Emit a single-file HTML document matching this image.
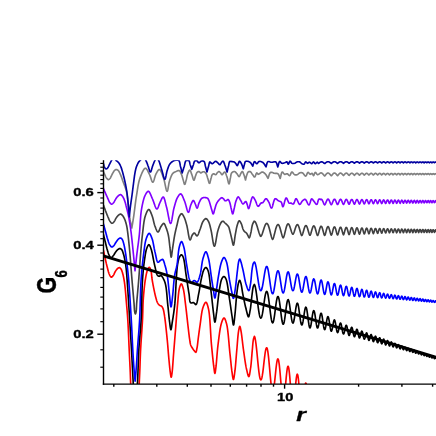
<!DOCTYPE html>
<html><head><meta charset="utf-8"><title>G6(r)</title>
<style>
html,body{margin:0;padding:0;background:#fff;}
body{width:436px;height:436px;overflow:hidden;}
svg{display:block;}
text{font-family:"Liberation Sans",sans-serif;font-weight:bold;fill:#000;stroke:#000;stroke-width:0.35px;stroke-linejoin:round;}
</style></head><body>
<svg width="436" height="436" viewBox="0 0 436 436">
<rect width="436" height="436" fill="#fff"/>
<defs><clipPath id="pc"><rect x="103.50" y="160.20" width="333.50" height="223.90"/></clipPath></defs>
<g clip-path="url(#pc)" fill="none" stroke-linejoin="round" stroke-linecap="butt">
<path d="M103.40 250.00 L103.52 250.57 L103.64 251.13 L103.76 251.70 L103.87 252.27 L103.99 252.83 L104.11 253.40 L104.23 253.97 L104.35 254.53 L104.47 255.10 L104.59 255.67 L104.71 256.23 L104.83 256.80 L104.95 257.37 L105.07 257.93 L105.20 258.50 L105.33 259.07 L105.45 259.64 L105.58 260.21 L105.71 260.79 L105.84 261.36 L105.97 261.94 L106.10 262.51 L106.24 263.08 L106.37 263.66 L106.51 264.22 L106.64 264.79 L106.78 265.35 L106.92 265.90 L107.06 266.46 L107.20 267.00 L107.35 267.58 L107.50 268.18 L107.65 268.78 L107.80 269.37 L107.95 269.97 L108.10 270.56 L108.26 271.14 L108.41 271.71 L108.58 272.26 L108.75 272.78 L108.92 273.29 L109.11 273.76 L109.30 274.20 L109.60 274.86 L109.92 275.52 L110.25 276.14 L110.59 276.66 L110.94 277.03 L111.30 277.20 L111.77 277.09 L112.26 276.70 L112.74 276.17 L113.20 275.60 L113.51 275.14 L113.81 274.61 L114.08 274.03 L114.35 273.43 L114.62 272.82 L114.90 272.24 L115.20 271.70 L115.53 271.16 L115.86 270.63 L116.21 270.12 L116.56 269.63 L116.92 269.19 L117.30 268.80 L117.79 268.37 L118.30 267.97 L118.81 267.69 L119.30 267.60 L119.75 267.74 L120.19 268.06 L120.61 268.50 L121.00 269.00 L121.25 269.39 L121.48 269.85 L121.69 270.34 L121.89 270.88 L122.07 271.44 L122.25 272.02 L122.43 272.61 L122.60 273.20 L122.75 273.72 L122.89 274.25 L123.03 274.79 L123.17 275.34 L123.29 275.90 L123.42 276.48 L123.54 277.06 L123.66 277.66 L123.77 278.26 L123.89 278.88 L124.00 279.50 L124.09 280.02 L124.18 280.54 L124.26 281.07 L124.34 281.62 L124.42 282.17 L124.50 282.72 L124.58 283.28 L124.65 283.85 L124.73 284.42 L124.80 285.00 L124.87 285.58 L124.94 286.16 L125.00 286.74 L125.07 287.33 L125.14 287.91 L125.20 288.50 L125.26 289.03 L125.31 289.55 L125.36 290.07 L125.41 290.59 L125.46 291.11 L125.51 291.63 L125.55 292.15 L125.59 292.68 L125.64 293.21 L125.68 293.74 L125.72 294.28 L125.77 294.83 L125.81 295.39 L125.86 295.96 L125.90 296.54 L125.95 297.13 L126.00 297.74 L126.05 298.36 L126.10 299.00 L126.14 299.46 L126.18 299.93 L126.22 300.41 L126.26 300.89 L126.30 301.38 L126.35 301.87 L126.39 302.37 L126.43 302.88 L126.48 303.40 L126.52 303.92 L126.57 304.44 L126.62 304.97 L126.66 305.51 L126.71 306.05 L126.76 306.59 L126.81 307.14 L126.85 307.69 L126.90 308.25 L126.95 308.81 L127.00 309.38 L127.04 309.95 L127.09 310.52 L127.14 311.10 L127.19 311.68 L127.23 312.26 L127.28 312.84 L127.33 313.43 L127.37 314.02 L127.42 314.61 L127.46 315.21 L127.51 315.80 L127.55 316.40 L127.60 317.00 L127.64 317.60 L127.68 318.20 L127.72 318.80 L127.76 319.40 L127.80 320.00 L127.83 320.51 L127.86 321.02 L127.90 321.54 L127.93 322.07 L127.96 322.59 L127.99 323.13 L128.02 323.66 L128.05 324.21 L128.08 324.75 L128.10 325.30 L128.13 325.85 L128.16 326.41 L128.19 326.97 L128.22 327.53 L128.24 328.09 L128.27 328.66 L128.30 329.23 L128.33 329.80 L128.35 330.37 L128.38 330.95 L128.40 331.52 L128.43 332.10 L128.46 332.68 L128.48 333.26 L128.51 333.84 L128.53 334.42 L128.56 335.00 L128.58 335.58 L128.61 336.16 L128.63 336.74 L128.66 337.32 L128.68 337.90 L128.70 338.47 L128.73 339.05 L128.75 339.62 L128.78 340.20 L128.80 340.77 L128.82 341.34 L128.85 341.90 L128.87 342.47 L128.89 343.03 L128.92 343.59 L128.94 344.14 L128.96 344.70 L128.99 345.25 L129.01 345.79 L129.03 346.33 L129.06 346.87 L129.08 347.40 L129.11 347.93 L129.13 348.46 L129.15 348.98 L129.18 349.49 L129.20 350.00 L129.23 350.60 L129.26 351.20 L129.29 351.80 L129.31 352.39 L129.34 352.99 L129.37 353.58 L129.40 354.17 L129.43 354.75 L129.46 355.34 L129.48 355.92 L129.51 356.50 L129.54 357.08 L129.57 357.65 L129.60 358.23 L129.63 358.80 L129.65 359.36 L129.68 359.93 L129.71 360.49 L129.74 361.05 L129.76 361.60 L129.79 362.15 L129.82 362.70 L129.84 363.25 L129.87 363.79 L129.89 364.33 L129.92 364.87 L129.94 365.40 L129.97 365.93 L129.99 366.45 L130.02 366.97 L130.04 367.49 L130.07 368.00 L130.09 368.51 L130.11 369.02 L130.14 369.52 L130.16 370.02 L130.18 370.51 L130.20 371.00 L130.23 371.62 L130.25 372.23 L130.28 372.82 L130.30 373.39 L130.32 373.95 L130.34 374.50 L130.36 375.04 L130.38 375.58 L130.40 376.10 L130.42 376.63 L130.43 377.15 L130.45 377.68 L130.47 378.20 L130.49 378.73 L130.51 379.27 L130.53 379.82 L130.55 380.37 L130.57 380.93 L130.60 381.51 L130.62 382.11 L130.64 382.72 L130.67 383.35 L130.70 384.00 L130.72 384.46 L130.74 384.94 L130.76 385.42 L130.78 385.91 L130.80 386.40 L130.82 386.91 L130.84 387.42 L130.85 387.95 L130.87 388.47 L130.89 389.01 L130.91 389.55 L130.93 390.09 L130.95 390.64 L130.97 391.20 L130.99 391.76 L131.01 392.33 L131.03 392.89 L131.05 393.47 L131.07 394.04 L131.09 394.62 L131.11 395.20 L131.13 395.78 L131.16 396.37 L131.18 396.96 L131.20 397.54 L131.23 398.13 L131.25 398.72 L131.28 399.31 L131.31 399.90 L131.34 400.48 L131.37 401.07 L131.40 401.65 L131.43 402.24 L131.46 402.82 L131.49 403.39 L131.53 403.97 L131.56 404.54 L131.60 405.11 L131.64 405.67 L131.68 406.23 L131.72 406.79 L131.76 407.34 L131.81 407.88 L131.85 408.42 L131.90 408.95 L131.95 409.48 L132.00 410.00 L132.06 410.59 L132.12 411.18 L132.19 411.76 L132.26 412.34 L132.33 412.92 L132.40 413.49 L132.47 414.06 L132.55 414.63 L132.63 415.19 L132.71 415.75 L132.79 416.31 L132.87 416.87 L132.96 417.42 L133.04 417.98 L133.13 418.53 L133.21 419.08 L133.30 419.62 L133.39 420.17 L133.48 420.72 L133.57 421.26 L133.66 421.81 L133.75 422.35 L133.84 422.89 L133.94 423.43 L134.03 423.98 L134.12 424.52 L134.21 425.06 L134.30 425.61 L134.39 426.15 L134.48 426.70 L134.57 427.24 L134.66 427.79 L134.74 428.34 L134.83 428.89 L134.92 429.45 L135.00 430.00 L135.08 429.45 L135.17 428.89 L135.26 428.34 L135.34 427.79 L135.43 427.24 L135.52 426.70 L135.61 426.15 L135.70 425.61 L135.79 425.06 L135.88 424.52 L135.98 423.98 L136.07 423.43 L136.16 422.89 L136.25 422.35 L136.34 421.81 L136.43 421.26 L136.52 420.72 L136.61 420.17 L136.70 419.62 L136.79 419.08 L136.88 418.53 L136.97 417.98 L137.05 417.42 L137.13 416.87 L137.22 416.31 L137.30 415.75 L137.38 415.19 L137.46 414.63 L137.53 414.06 L137.61 413.49 L137.68 412.92 L137.75 412.34 L137.81 411.76 L137.88 411.18 L137.94 410.59 L138.00 410.00 L138.05 409.48 L138.10 408.95 L138.14 408.42 L138.19 407.88 L138.23 407.34 L138.27 406.79 L138.31 406.23 L138.35 405.67 L138.38 405.11 L138.42 404.54 L138.45 403.97 L138.48 403.39 L138.51 402.82 L138.54 402.24 L138.57 401.65 L138.60 401.07 L138.62 400.48 L138.65 399.90 L138.67 399.31 L138.70 398.72 L138.72 398.13 L138.74 397.54 L138.76 396.96 L138.78 396.37 L138.80 395.78 L138.82 395.20 L138.84 394.62 L138.86 394.04 L138.88 393.47 L138.89 392.89 L138.91 392.32 L138.93 391.76 L138.95 391.20 L138.96 390.64 L138.98 390.09 L139.00 389.55 L139.01 389.01 L139.03 388.47 L139.05 387.95 L139.07 387.42 L139.08 386.91 L139.10 386.40 L139.12 385.91 L139.14 385.42 L139.16 384.94 L139.18 384.46 L139.20 384.00 L139.23 383.35 L139.26 382.72 L139.29 382.11 L139.32 381.51 L139.34 380.93 L139.37 380.37 L139.40 379.82 L139.42 379.27 L139.45 378.73 L139.47 378.20 L139.50 377.68 L139.52 377.15 L139.55 376.63 L139.57 376.10 L139.60 375.58 L139.62 375.04 L139.65 374.50 L139.67 373.95 L139.70 373.39 L139.72 372.82 L139.75 372.23 L139.77 371.62 L139.80 371.00 L139.82 370.51 L139.84 370.02 L139.86 369.52 L139.88 369.02 L139.90 368.51 L139.92 368.00 L139.93 367.49 L139.95 366.97 L139.97 366.45 L139.99 365.93 L140.01 365.40 L140.03 364.87 L140.04 364.33 L140.06 363.79 L140.08 363.25 L140.10 362.70 L140.12 362.15 L140.13 361.60 L140.15 361.05 L140.17 360.49 L140.19 359.93 L140.21 359.36 L140.23 358.79 L140.25 358.23 L140.27 357.65 L140.29 357.08 L140.31 356.50 L140.34 355.92 L140.36 355.34 L140.38 354.75 L140.41 354.17 L140.43 353.58 L140.46 352.99 L140.49 352.39 L140.51 351.80 L140.54 351.20 L140.57 350.60 L140.60 350.00 L140.63 349.49 L140.65 348.98 L140.68 348.46 L140.71 347.93 L140.74 347.40 L140.77 346.87 L140.80 346.33 L140.84 345.79 L140.87 345.25 L140.90 344.70 L140.94 344.14 L140.97 343.59 L141.01 343.03 L141.05 342.47 L141.08 341.90 L141.12 341.34 L141.16 340.77 L141.20 340.20 L141.23 339.62 L141.27 339.05 L141.31 338.47 L141.35 337.90 L141.39 337.32 L141.43 336.74 L141.47 336.16 L141.51 335.58 L141.55 335.00 L141.59 334.42 L141.63 333.84 L141.67 333.26 L141.71 332.68 L141.75 332.10 L141.79 331.53 L141.83 330.95 L141.87 330.38 L141.90 329.80 L141.94 329.23 L141.98 328.66 L142.02 328.10 L142.05 327.53 L142.09 326.97 L142.13 326.41 L142.16 325.86 L142.20 325.30 L142.23 324.75 L142.26 324.21 L142.30 323.67 L142.33 323.13 L142.36 322.60 L142.39 322.07 L142.42 321.54 L142.45 321.02 L142.47 320.51 L142.50 320.00 L142.53 319.40 L142.56 318.81 L142.58 318.21 L142.61 317.63 L142.63 317.04 L142.65 316.46 L142.67 315.89 L142.69 315.32 L142.71 314.75 L142.73 314.18 L142.74 313.62 L142.76 313.06 L142.78 312.50 L142.79 311.94 L142.81 311.39 L142.82 310.84 L142.83 310.29 L142.85 309.74 L142.86 309.20 L142.88 308.66 L142.89 308.11 L142.91 307.57 L142.92 307.03 L142.94 306.50 L142.96 305.96 L142.97 305.42 L142.99 304.89 L143.01 304.35 L143.03 303.82 L143.06 303.28 L143.08 302.75 L143.11 302.22 L143.13 301.68 L143.16 301.15 L143.19 300.61 L143.23 300.07 L143.26 299.54 L143.30 299.00 L143.34 298.42 L143.38 297.85 L143.43 297.27 L143.47 296.68 L143.52 296.10 L143.57 295.51 L143.61 294.92 L143.66 294.33 L143.71 293.74 L143.76 293.15 L143.82 292.56 L143.87 291.97 L143.92 291.38 L143.98 290.80 L144.04 290.21 L144.09 289.63 L144.15 289.05 L144.21 288.48 L144.27 287.90 L144.33 287.33 L144.40 286.77 L144.46 286.21 L144.52 285.66 L144.59 285.11 L144.66 284.56 L144.72 284.03 L144.79 283.49 L144.86 282.97 L144.93 282.46 L145.00 281.95 L145.08 281.45 L145.15 280.96 L145.22 280.47 L145.30 280.00 L145.40 279.35 L145.51 278.71 L145.62 278.07 L145.72 277.43 L145.83 276.80 L145.94 276.18 L146.05 275.56 L146.17 274.96 L146.28 274.38 L146.40 273.81 L146.52 273.25 L146.65 272.72 L146.78 272.20 L146.91 271.71 L147.05 271.24 L147.20 270.80 L147.35 270.39 L147.50 270.00 L147.84 269.24 L148.20 268.50 L148.58 267.87 L148.95 267.45 L149.30 267.30 L149.59 267.45 L149.88 267.84 L150.16 268.39 L150.42 269.06 L150.67 269.78 L150.90 270.50 L151.02 270.92 L151.12 271.36 L151.21 271.83 L151.30 272.31 L151.37 272.82 L151.44 273.35 L151.50 273.90 L151.56 274.46 L151.61 275.04 L151.67 275.63 L151.73 276.23 L151.79 276.85 L151.85 277.47 L151.93 278.09 L152.01 278.73 L152.10 279.36 L152.20 280.00 L152.28 280.48 L152.37 280.98 L152.46 281.50 L152.56 282.03 L152.65 282.58 L152.76 283.14 L152.86 283.71 L152.97 284.29 L153.08 284.88 L153.19 285.48 L153.31 286.08 L153.42 286.69 L153.54 287.30 L153.66 287.91 L153.78 288.52 L153.91 289.13 L154.03 289.73 L154.15 290.34 L154.28 290.93 L154.40 291.52 L154.52 292.10 L154.65 292.67 L154.77 293.23 L154.89 293.77 L155.01 294.30 L155.13 294.82 L155.25 295.31 L155.37 295.79 L155.48 296.25 L155.59 296.69 L155.70 297.10 L155.89 297.81 L156.07 298.49 L156.25 299.13 L156.43 299.74 L156.60 300.32 L156.78 300.87 L156.97 301.39 L157.16 301.89 L157.37 302.35 L157.60 302.80 L157.94 303.39 L158.30 303.92 L158.68 304.39 L159.08 304.82 L159.50 305.20 L160.01 305.52 L160.57 305.75 L161.12 305.98 L161.60 306.30 L162.02 306.76 L162.38 307.29 L162.70 307.90 L163.00 308.60 L163.16 309.04 L163.31 309.50 L163.45 309.98 L163.58 310.50 L163.70 311.04 L163.82 311.61 L163.93 312.22 L164.04 312.86 L164.16 313.53 L164.28 314.25 L164.40 315.00 L164.46 315.38 L164.53 315.78 L164.59 316.20 L164.65 316.64 L164.72 317.08 L164.78 317.55 L164.85 318.03 L164.92 318.52 L164.98 319.02 L165.05 319.54 L165.12 320.06 L165.18 320.60 L165.25 321.15 L165.32 321.71 L165.39 322.27 L165.45 322.84 L165.52 323.43 L165.59 324.01 L165.66 324.61 L165.72 325.20 L165.79 325.81 L165.86 326.41 L165.92 327.03 L165.99 327.64 L166.06 328.25 L166.12 328.87 L166.19 329.49 L166.25 330.10 L166.32 330.72 L166.38 331.33 L166.44 331.94 L166.51 332.55 L166.57 333.16 L166.63 333.76 L166.69 334.36 L166.75 334.95 L166.81 335.53 L166.87 336.11 L166.93 336.68 L166.98 337.25 L167.04 337.80 L167.09 338.34 L167.15 338.88 L167.20 339.40 L167.26 340.00 L167.32 340.60 L167.37 341.19 L167.43 341.79 L167.48 342.38 L167.54 342.96 L167.59 343.55 L167.64 344.13 L167.69 344.72 L167.74 345.29 L167.79 345.87 L167.84 346.44 L167.88 347.02 L167.93 347.59 L167.97 348.15 L168.02 348.72 L168.07 349.28 L168.11 349.84 L168.15 350.40 L168.20 350.96 L168.24 351.51 L168.29 352.06 L168.33 352.61 L168.38 353.16 L168.42 353.71 L168.47 354.25 L168.51 354.79 L168.56 355.33 L168.61 355.87 L168.65 356.41 L168.70 356.94 L168.75 357.47 L168.80 358.00 L168.86 358.60 L168.91 359.20 L168.97 359.80 L169.03 360.41 L169.08 361.02 L169.14 361.63 L169.20 362.25 L169.25 362.86 L169.31 363.47 L169.37 364.07 L169.42 364.68 L169.48 365.27 L169.54 365.86 L169.60 366.45 L169.65 367.02 L169.71 367.59 L169.77 368.14 L169.83 368.69 L169.89 369.22 L169.95 369.74 L170.00 370.24 L170.06 370.73 L170.12 371.20 L170.18 371.65 L170.24 372.09 L170.30 372.50 L170.41 373.28 L170.52 374.08 L170.64 374.87 L170.75 375.60 L170.86 376.24 L170.97 376.75 L171.09 377.08 L171.20 377.20 L171.31 377.08 L171.43 376.76 L171.54 376.26 L171.66 375.63 L171.77 374.90 L171.88 374.11 L171.99 373.30 L172.10 372.50 L172.15 372.11 L172.20 371.69 L172.25 371.26 L172.30 370.81 L172.35 370.34 L172.39 369.86 L172.44 369.37 L172.49 368.85 L172.53 368.33 L172.57 367.79 L172.62 367.24 L172.66 366.68 L172.70 366.11 L172.75 365.53 L172.79 364.94 L172.83 364.34 L172.87 363.74 L172.92 363.13 L172.96 362.51 L173.00 361.89 L173.04 361.27 L173.09 360.64 L173.13 360.01 L173.18 359.38 L173.22 358.75 L173.26 358.12 L173.31 357.49 L173.36 356.86 L173.40 356.24 L173.45 355.62 L173.50 355.00 L173.54 354.49 L173.58 353.98 L173.62 353.46 L173.66 352.94 L173.71 352.42 L173.75 351.89 L173.79 351.36 L173.83 350.82 L173.88 350.28 L173.92 349.74 L173.96 349.20 L174.01 348.65 L174.05 348.10 L174.10 347.55 L174.14 347.00 L174.18 346.44 L174.23 345.88 L174.27 345.32 L174.32 344.76 L174.36 344.19 L174.41 343.63 L174.46 343.06 L174.50 342.49 L174.55 341.92 L174.59 341.36 L174.64 340.78 L174.68 340.21 L174.73 339.64 L174.77 339.07 L174.82 338.50 L174.87 337.93 L174.91 337.35 L174.96 336.78 L175.00 336.21 L175.05 335.64 L175.09 335.07 L175.14 334.50 L175.19 333.93 L175.23 333.37 L175.28 332.80 L175.32 332.24 L175.37 331.68 L175.41 331.12 L175.46 330.56 L175.50 330.00 L175.54 329.44 L175.59 328.88 L175.63 328.32 L175.68 327.76 L175.72 327.20 L175.76 326.63 L175.81 326.06 L175.85 325.49 L175.89 324.92 L175.94 324.35 L175.98 323.78 L176.02 323.21 L176.06 322.63 L176.11 322.06 L176.15 321.49 L176.19 320.91 L176.24 320.34 L176.28 319.77 L176.32 319.20 L176.36 318.62 L176.41 318.05 L176.45 317.48 L176.49 316.91 L176.54 316.35 L176.58 315.78 L176.62 315.21 L176.67 314.65 L176.71 314.09 L176.75 313.53 L176.80 312.97 L176.84 312.42 L176.89 311.87 L176.93 311.32 L176.98 310.77 L177.02 310.23 L177.07 309.69 L177.12 309.15 L177.16 308.62 L177.21 308.09 L177.26 307.57 L177.31 307.04 L177.35 306.53 L177.40 306.01 L177.45 305.50 L177.50 305.00 L177.56 304.40 L177.62 303.79 L177.67 303.17 L177.73 302.56 L177.78 301.94 L177.84 301.32 L177.89 300.70 L177.94 300.08 L178.00 299.47 L178.05 298.85 L178.10 298.24 L178.16 297.63 L178.21 297.03 L178.27 296.43 L178.33 295.84 L178.38 295.26 L178.44 294.69 L178.50 294.12 L178.57 293.56 L178.63 293.02 L178.69 292.49 L178.76 291.97 L178.83 291.46 L178.91 290.97 L178.98 290.49 L179.06 290.03 L179.14 289.59 L179.23 289.16 L179.31 288.75 L179.40 288.37 L179.50 288.00 L179.70 287.28 L179.91 286.56 L180.14 285.87 L180.37 285.24 L180.60 284.70 L180.84 284.27 L181.07 284.00 L181.30 283.90 L181.51 283.99 L181.73 284.25 L181.95 284.64 L182.17 285.15 L182.38 285.74 L182.60 286.40 L182.81 287.09 L183.01 287.80 L183.20 288.50 L183.30 288.89 L183.40 289.29 L183.50 289.72 L183.59 290.16 L183.68 290.62 L183.77 291.10 L183.86 291.59 L183.95 292.10 L184.03 292.62 L184.11 293.15 L184.19 293.70 L184.27 294.25 L184.35 294.82 L184.43 295.39 L184.50 295.97 L184.58 296.56 L184.65 297.15 L184.73 297.75 L184.80 298.36 L184.87 298.96 L184.94 299.57 L185.01 300.18 L185.09 300.79 L185.16 301.40 L185.23 302.01 L185.30 302.62 L185.38 303.22 L185.45 303.82 L185.52 304.41 L185.60 305.00 L185.67 305.52 L185.73 306.05 L185.80 306.59 L185.87 307.13 L185.93 307.67 L186.00 308.22 L186.07 308.78 L186.13 309.34 L186.20 309.90 L186.26 310.47 L186.33 311.04 L186.40 311.61 L186.46 312.19 L186.53 312.76 L186.59 313.34 L186.65 313.92 L186.72 314.50 L186.78 315.08 L186.85 315.65 L186.91 316.23 L186.97 316.81 L187.03 317.38 L187.10 317.95 L187.16 318.52 L187.22 319.09 L187.28 319.65 L187.34 320.21 L187.41 320.77 L187.47 321.32 L187.53 321.86 L187.59 322.40 L187.65 322.94 L187.71 323.47 L187.77 323.99 L187.83 324.50 L187.88 325.01 L187.94 325.51 L188.00 326.00 L188.07 326.63 L188.15 327.26 L188.22 327.89 L188.29 328.51 L188.36 329.13 L188.44 329.74 L188.51 330.35 L188.57 330.95 L188.64 331.55 L188.71 332.14 L188.78 332.72 L188.85 333.29 L188.92 333.86 L188.98 334.42 L189.05 334.97 L189.12 335.51 L189.19 336.04 L189.26 336.56 L189.32 337.07 L189.39 337.57 L189.46 338.06 L189.53 338.54 L189.60 339.00 L189.69 339.64 L189.78 340.26 L189.86 340.86 L189.94 341.44 L190.02 342.00 L190.11 342.54 L190.20 343.06 L190.30 343.57 L190.42 344.06 L190.55 344.54 L190.70 345.00 L190.95 345.63 L191.23 346.21 L191.53 346.76 L191.85 347.28 L192.17 347.79 L192.50 348.30 L192.82 348.79 L193.16 349.27 L193.50 349.74 L193.84 350.20 L194.18 350.62 L194.50 351.00 L194.96 351.59 L195.40 352.12 L195.80 352.30 L196.00 352.14 L196.18 351.81 L196.34 351.33 L196.48 350.75 L196.61 350.09 L196.74 349.39 L196.87 348.68 L197.00 348.00 L197.09 347.55 L197.17 347.08 L197.25 346.59 L197.33 346.08 L197.40 345.56 L197.47 345.02 L197.54 344.47 L197.61 343.91 L197.67 343.33 L197.74 342.75 L197.81 342.16 L197.87 341.57 L197.94 340.97 L198.01 340.38 L198.08 339.78 L198.15 339.18 L198.22 338.59 L198.30 338.00 L198.37 337.47 L198.44 336.93 L198.51 336.40 L198.58 335.86 L198.65 335.32 L198.73 334.78 L198.80 334.23 L198.87 333.69 L198.94 333.14 L199.02 332.58 L199.09 332.03 L199.16 331.47 L199.24 330.90 L199.32 330.33 L199.40 329.76 L199.48 329.18 L199.56 328.60 L199.64 328.01 L199.73 327.42 L199.82 326.82 L199.91 326.21 L200.00 325.60 L200.08 325.09 L200.15 324.57 L200.22 324.04 L200.30 323.49 L200.37 322.93 L200.45 322.36 L200.52 321.78 L200.60 321.19 L200.67 320.60 L200.75 320.00 L200.82 319.39 L200.90 318.79 L200.98 318.18 L201.06 317.57 L201.14 316.96 L201.23 316.35 L201.31 315.75 L201.40 315.14 L201.49 314.55 L201.58 313.96 L201.67 313.38 L201.76 312.81 L201.86 312.25 L201.96 311.70 L202.06 311.17 L202.17 310.65 L202.28 310.14 L202.39 309.65 L202.51 309.18 L202.62 308.73 L202.75 308.30 L202.87 307.89 L203.00 307.50 L203.26 306.78 L203.53 306.05 L203.82 305.33 L204.12 304.64 L204.43 304.00 L204.74 303.43 L205.04 302.95 L205.34 302.59 L205.63 302.37 L205.90 302.30 L206.12 302.37 L206.34 302.56 L206.56 302.84 L206.77 303.21 L206.98 303.67 L207.19 304.19 L207.39 304.78 L207.58 305.41 L207.78 306.09 L207.97 306.79 L208.15 307.52 L208.33 308.26 L208.50 309.00 L208.58 309.34 L208.65 309.69 L208.72 310.06 L208.79 310.44 L208.86 310.84 L208.93 311.25 L208.99 311.68 L209.05 312.11 L209.12 312.56 L209.18 313.03 L209.24 313.50 L209.29 313.98 L209.35 314.48 L209.40 314.98 L209.46 315.50 L209.51 316.03 L209.56 316.56 L209.61 317.10 L209.66 317.65 L209.71 318.21 L209.76 318.78 L209.80 319.36 L209.85 319.94 L209.89 320.52 L209.94 321.12 L209.98 321.72 L210.02 322.32 L210.06 322.93 L210.10 323.54 L210.14 324.16 L210.18 324.78 L210.22 325.40 L210.26 326.03 L210.30 326.66 L210.34 327.29 L210.37 327.92 L210.41 328.55 L210.45 329.18 L210.49 329.82 L210.52 330.45 L210.56 331.08 L210.59 331.71 L210.63 332.34 L210.67 332.97 L210.70 333.60 L210.74 334.22 L210.78 334.84 L210.81 335.45 L210.85 336.07 L210.89 336.68 L210.92 337.28 L210.96 337.88 L211.00 338.47 L211.04 339.06 L211.08 339.64 L211.12 340.21 L211.16 340.78 L211.20 341.34 L211.24 341.89 L211.28 342.43 L211.32 342.96 L211.36 343.49 L211.41 344.00 L211.45 344.51 L211.50 345.00 L211.56 345.61 L211.62 346.23 L211.68 346.85 L211.74 347.47 L211.80 348.09 L211.86 348.71 L211.92 349.33 L211.98 349.95 L212.04 350.57 L212.10 351.19 L212.16 351.80 L212.22 352.42 L212.28 353.03 L212.34 353.64 L212.40 354.25 L212.46 354.85 L212.52 355.45 L212.58 356.04 L212.64 356.63 L212.70 357.21 L212.77 357.79 L212.83 358.36 L212.89 358.93 L212.95 359.48 L213.00 360.03 L213.06 360.58 L213.12 361.11 L213.18 361.64 L213.24 362.15 L213.30 362.66 L213.35 363.16 L213.41 363.65 L213.47 364.12 L213.52 364.59 L213.58 365.04 L213.63 365.48 L213.69 365.91 L213.74 366.33 L213.80 366.73 L213.85 367.12 L213.90 367.50 L214.01 368.29 L214.11 369.09 L214.21 369.89 L214.31 370.65 L214.41 371.36 L214.51 372.00 L214.60 372.53 L214.70 372.94 L214.80 373.21 L214.90 373.30 L215.00 373.21 L215.10 372.94 L215.20 372.53 L215.30 372.00 L215.40 371.37 L215.50 370.65 L215.60 369.89 L215.70 369.09 L215.80 368.29 L215.90 367.50 L215.95 367.12 L216.00 366.73 L216.04 366.32 L216.09 365.89 L216.14 365.45 L216.18 364.99 L216.23 364.52 L216.28 364.04 L216.32 363.54 L216.37 363.03 L216.41 362.51 L216.46 361.98 L216.50 361.44 L216.55 360.90 L216.59 360.34 L216.64 359.77 L216.69 359.20 L216.73 358.62 L216.78 358.04 L216.83 357.45 L216.87 356.85 L216.92 356.25 L216.97 355.65 L217.02 355.05 L217.07 354.44 L217.12 353.83 L217.17 353.22 L217.22 352.61 L217.28 352.01 L217.33 351.40 L217.38 350.80 L217.44 350.19 L217.50 349.59 L217.56 349.00 L217.61 348.41 L217.68 347.82 L217.74 347.24 L217.80 346.67 L217.87 346.11 L217.93 345.55 L218.00 345.00 L218.07 344.44 L218.14 343.87 L218.21 343.30 L218.28 342.71 L218.36 342.12 L218.43 341.53 L218.50 340.93 L218.58 340.32 L218.65 339.71 L218.73 339.10 L218.81 338.49 L218.88 337.87 L218.96 337.25 L219.04 336.64 L219.12 336.02 L219.20 335.41 L219.29 334.79 L219.37 334.19 L219.45 333.58 L219.54 332.98 L219.62 332.38 L219.71 331.79 L219.80 331.21 L219.89 330.63 L219.98 330.06 L220.07 329.50 L220.17 328.95 L220.26 328.41 L220.36 327.88 L220.45 327.37 L220.55 326.86 L220.65 326.37 L220.75 325.89 L220.85 325.43 L220.96 324.98 L221.06 324.55 L221.17 324.14 L221.28 323.74 L221.39 323.36 L221.50 323.00 L221.73 322.29 L221.97 321.58 L222.22 320.89 L222.47 320.23 L222.72 319.62 L222.98 319.08 L223.24 318.63 L223.50 318.29 L223.75 318.07 L224.00 318.00 L224.26 318.09 L224.52 318.32 L224.78 318.69 L225.04 319.18 L225.29 319.76 L225.55 320.42 L225.80 321.14 L226.04 321.91 L226.27 322.70 L226.50 323.50 L226.59 323.84 L226.68 324.19 L226.76 324.56 L226.85 324.95 L226.93 325.36 L227.02 325.78 L227.10 326.22 L227.18 326.68 L227.25 327.15 L227.33 327.63 L227.41 328.12 L227.48 328.63 L227.55 329.15 L227.62 329.68 L227.70 330.23 L227.76 330.78 L227.83 331.34 L227.90 331.91 L227.97 332.49 L228.03 333.08 L228.10 333.68 L228.16 334.28 L228.22 334.89 L228.29 335.50 L228.35 336.12 L228.41 336.74 L228.47 337.37 L228.53 338.00 L228.59 338.63 L228.64 339.26 L228.70 339.90 L228.76 340.54 L228.81 341.17 L228.87 341.81 L228.93 342.44 L228.98 343.08 L229.04 343.71 L229.09 344.33 L229.14 344.96 L229.20 345.58 L229.25 346.20 L229.31 346.81 L229.36 347.41 L229.41 348.01 L229.47 348.60 L229.52 349.19 L229.57 349.76 L229.62 350.33 L229.68 350.89 L229.73 351.43 L229.78 351.97 L229.84 352.50 L229.89 353.01 L229.95 353.51 L230.00 354.00 L230.07 354.64 L230.14 355.27 L230.21 355.90 L230.28 356.53 L230.34 357.16 L230.41 357.78 L230.47 358.40 L230.54 359.01 L230.60 359.63 L230.66 360.24 L230.72 360.84 L230.79 361.44 L230.85 362.03 L230.91 362.62 L230.97 363.21 L231.03 363.78 L231.08 364.35 L231.14 364.92 L231.20 365.48 L231.26 366.03 L231.32 366.57 L231.38 367.11 L231.44 367.64 L231.50 368.16 L231.56 368.67 L231.62 369.18 L231.68 369.67 L231.74 370.16 L231.81 370.63 L231.87 371.10 L231.93 371.55 L232.00 372.00 L232.11 372.73 L232.21 373.49 L232.32 374.26 L232.42 375.04 L232.53 375.81 L232.64 376.54 L232.75 377.23 L232.86 377.86 L232.97 378.41 L233.08 378.86 L233.18 379.21 L233.29 379.42 L233.40 379.50 L233.51 379.43 L233.62 379.21 L233.73 378.88 L233.84 378.43 L233.95 377.89 L234.06 377.27 L234.16 376.59 L234.27 375.86 L234.38 375.10 L234.49 374.31 L234.59 373.53 L234.70 372.75 L234.80 372.00 L234.86 371.59 L234.91 371.16 L234.97 370.72 L235.02 370.26 L235.07 369.80 L235.13 369.32 L235.18 368.82 L235.23 368.32 L235.28 367.80 L235.34 367.28 L235.39 366.75 L235.44 366.20 L235.49 365.65 L235.54 365.10 L235.59 364.53 L235.64 363.96 L235.69 363.38 L235.74 362.80 L235.79 362.22 L235.83 361.63 L235.88 361.03 L235.93 360.44 L235.98 359.84 L236.03 359.24 L236.08 358.64 L236.12 358.04 L236.17 357.45 L236.22 356.85 L236.27 356.25 L236.32 355.66 L236.36 355.07 L236.41 354.48 L236.46 353.90 L236.51 353.32 L236.56 352.75 L236.60 352.19 L236.65 351.63 L236.70 351.08 L236.75 350.53 L236.80 350.00 L236.85 349.42 L236.91 348.82 L236.96 348.23 L237.01 347.62 L237.06 347.01 L237.11 346.40 L237.16 345.78 L237.21 345.16 L237.26 344.53 L237.31 343.91 L237.36 343.29 L237.41 342.66 L237.46 342.04 L237.51 341.43 L237.55 340.81 L237.60 340.20 L237.65 339.60 L237.70 339.00 L237.75 338.41 L237.80 337.82 L237.86 337.25 L237.91 336.69 L237.96 336.13 L238.01 335.59 L238.07 335.06 L238.12 334.54 L238.18 334.04 L238.23 333.55 L238.29 333.08 L238.35 332.63 L238.41 332.19 L238.47 331.78 L238.54 331.38 L238.60 331.00 L238.74 330.21 L238.89 329.41 L239.04 328.63 L239.19 327.92 L239.34 327.31 L239.50 326.83 L239.65 326.51 L239.80 326.40 L239.95 326.51 L240.10 326.83 L240.25 327.31 L240.40 327.92 L240.55 328.63 L240.70 329.41 L240.85 330.21 L241.00 331.00 L241.07 331.38 L241.14 331.78 L241.21 332.20 L241.29 332.64 L241.36 333.10 L241.43 333.57 L241.50 334.07 L241.57 334.57 L241.64 335.10 L241.71 335.63 L241.78 336.18 L241.85 336.74 L241.92 337.32 L242.00 337.90 L242.07 338.49 L242.14 339.08 L242.21 339.69 L242.28 340.30 L242.36 340.91 L242.43 341.53 L242.50 342.15 L242.58 342.77 L242.65 343.39 L242.72 344.02 L242.80 344.64 L242.88 345.26 L242.95 345.87 L243.03 346.48 L243.10 347.09 L243.18 347.69 L243.26 348.28 L243.34 348.86 L243.42 349.44 L243.50 350.00 L243.58 350.56 L243.66 351.13 L243.74 351.71 L243.83 352.29 L243.91 352.88 L243.99 353.47 L244.07 354.06 L244.16 354.66 L244.24 355.26 L244.32 355.86 L244.41 356.46 L244.49 357.06 L244.58 357.66 L244.66 358.26 L244.75 358.86 L244.84 359.46 L244.92 360.05 L245.01 360.64 L245.10 361.22 L245.19 361.80 L245.28 362.37 L245.37 362.94 L245.46 363.50 L245.55 364.05 L245.64 364.60 L245.74 365.13 L245.83 365.66 L245.92 366.17 L246.02 366.67 L246.11 367.16 L246.21 367.64 L246.30 368.11 L246.40 368.56 L246.50 369.00 L246.66 369.69 L246.82 370.41 L246.98 371.14 L247.15 371.88 L247.32 372.61 L247.50 373.32 L247.67 373.99 L247.84 374.61 L248.01 375.17 L248.18 375.65 L248.34 376.05 L248.50 376.35 L248.65 376.54 L248.80 376.60 L248.94 376.53 L249.08 376.33 L249.21 376.02 L249.34 375.61 L249.47 375.11 L249.59 374.54 L249.71 373.90 L249.83 373.22 L249.95 372.49 L250.06 371.74 L250.17 370.97 L250.28 370.20 L250.39 369.44 L250.50 368.70 L250.60 368.00 L250.67 367.53 L250.74 367.05 L250.80 366.55 L250.86 366.04 L250.93 365.51 L250.99 364.97 L251.05 364.42 L251.11 363.86 L251.16 363.29 L251.22 362.71 L251.27 362.12 L251.33 361.53 L251.38 360.93 L251.43 360.33 L251.48 359.72 L251.53 359.12 L251.58 358.51 L251.63 357.90 L251.68 357.29 L251.73 356.69 L251.78 356.09 L251.83 355.49 L251.87 354.90 L251.92 354.32 L251.97 353.74 L252.01 353.17 L252.06 352.61 L252.11 352.06 L252.16 351.53 L252.20 351.00 L252.25 350.49 L252.30 350.00 L252.36 349.37 L252.42 348.75 L252.47 348.12 L252.53 347.50 L252.58 346.88 L252.63 346.27 L252.68 345.66 L252.73 345.06 L252.78 344.48 L252.83 343.90 L252.88 343.34 L252.94 342.79 L252.99 342.26 L253.05 341.75 L253.11 341.26 L253.18 340.78 L253.25 340.33 L253.32 339.90 L253.40 339.50 L253.55 338.85 L253.71 338.29 L253.88 337.78 L254.06 337.29 L254.23 336.81 L254.40 336.30 L254.68 336.79 L254.96 337.73 L255.24 339.02 L255.52 340.64 L255.80 342.55 L256.08 344.72 L256.36 347.12 L256.64 349.71 L256.92 352.44 L257.20 355.29 L257.48 358.19 L257.76 361.08 L258.04 363.91 L258.32 366.63 L258.60 369.21 L258.88 371.58 L259.16 373.71 L259.44 375.57 L259.72 377.11 L260.00 378.32 L260.28 379.18 L260.56 379.67 L260.84 379.81 L261.12 379.75 L261.40 379.32 L261.68 378.53 L261.96 377.41 L262.24 375.97 L262.52 374.24 L262.80 372.27 L263.08 370.10 L263.36 367.78 L263.64 365.37 L263.92 362.90 L264.20 360.46 L264.48 358.08 L264.76 355.83 L265.04 353.76 L265.32 351.93 L265.60 350.39 L265.88 349.16 L266.16 348.30 L266.44 347.82 L266.72 347.76 L267.00 348.11 L267.28 348.88 L267.56 350.08 L267.84 351.67 L268.12 353.63 L268.40 355.92 L268.68 358.51 L268.96 361.33 L269.24 364.34 L269.52 367.47 L269.80 370.66 L270.08 373.83 L270.36 376.93 L270.64 379.88 L270.92 382.62 L271.20 385.08 L271.48 387.22 L271.76 388.98 L272.04 390.34 L272.32 391.25 L272.60 391.69 L272.88 391.67 L273.16 391.13 L273.44 390.13 L273.72 388.72 L274.00 386.94 L274.28 384.82 L274.56 382.43 L274.84 379.85 L275.12 377.13 L275.40 374.35 L275.68 371.60 L275.96 368.95 L276.24 366.48 L276.52 364.26 L276.80 362.36 L277.08 360.83 L277.36 359.73 L277.64 359.09 L277.92 358.94 L278.20 359.22 L278.48 360.01 L278.76 361.29 L279.04 363.04 L279.32 365.22 L279.60 367.78 L279.88 370.66 L280.16 373.78 L280.44 377.06 L280.72 380.42 L281.00 383.77 L281.28 387.01 L281.56 390.06 L281.84 392.83 L282.12 395.25 L282.40 397.25 L282.68 398.76 L282.96 399.75 L283.24 400.14 L283.52 399.96 L283.80 399.22 L284.08 397.95 L284.36 396.20 L284.64 394.01 L284.92 391.46 L285.20 388.63 L285.48 385.61 L285.76 382.51 L286.04 379.42 L286.32 376.45 L286.60 373.71 L286.88 371.28 L287.16 369.25 L287.44 367.70 L287.72 366.68 L288.00 366.27 L288.28 366.47 L288.56 367.27 L288.84 368.66 L289.12 370.60 L289.40 373.04 L289.68 375.89 L289.96 379.07 L290.24 382.49 L290.52 386.03 L290.80 389.57 L291.08 393.00 L291.36 396.22 L291.64 399.10 L291.92 401.56 L292.20 403.52 L292.48 404.90 L292.76 405.67 L293.04 405.81 L293.32 405.31 L293.60 404.19 L293.88 402.51 L294.16 400.33 L294.44 397.73 L294.72 394.82 L295.00 391.71 L295.28 388.53 L295.56 385.40 L295.84 382.46 L296.12 379.81 L296.40 377.57 L296.68 375.83 L296.96 374.68 L297.24 374.17 L297.52 374.38 L297.80 375.26 L298.08 376.78 L298.36 378.89 L298.64 381.52 L298.92 384.58 L299.20 387.94 L299.48 391.48 L299.76 395.07 L300.04 398.56 L300.32 401.74 L300.60 404.54 L300.88 406.87 L301.16 408.64 L301.44 409.77 L301.72 410.25 L302.00 410.05 L302.28 409.20 L302.56 407.75 L302.84 405.77 L303.12 403.36 L303.40 400.64 L303.68 397.74 L303.96 394.79 L304.24 391.92 L304.52 389.29 L304.80 387.00 L305.08 385.16 L305.36 383.87 L305.64 383.18 L305.92 383.12 L306.20 383.65 L306.48 384.79 L306.76 386.50 L307.04 388.70 L307.32 391.29 L307.60 394.15 L307.88 397.16 L308.16 400.16 L308.44 403.03 L308.72 405.64 L309.00 407.87 L309.28 409.62 L309.56 410.81 L309.84 411.40 L310.12 411.37 L310.40 410.74 L310.68 409.54 L310.96 407.85 L311.24 405.77 L311.52 403.40 L311.80 400.89 L312.08 398.37 L312.36 395.97 L312.64 393.83 L312.92 392.06 L313.20 390.75 L313.48 389.99 L313.76 389.81 L314.04 390.20 L314.32 391.02 L314.60 392.38 L314.88 394.22 L315.16 396.44 L315.44 398.93 L315.72 401.54 L316.00 404.15 L316.28 406.60 L316.56 408.77 L316.84 410.53 L317.12 411.79 L317.40 412.47 L317.68 412.53 L317.96 411.98 L318.24 410.84 L318.52 409.19 L318.80 407.10 L319.08 404.72 L319.36 402.18 L319.64 399.63 L319.92 397.23 L320.20 395.13 L320.48 393.46 L320.76 392.32 L321.04 391.79 L321.32 391.91 L321.60 392.68 L321.88 394.05 L322.16 395.95 L322.44 398.27 L322.72 400.87 L323.00 403.58 L323.28 406.25 L323.56 408.70 L323.84 410.77 L324.12 412.35 L324.40 413.32 L324.68 413.62 L324.96 413.24 L325.24 412.20 L325.52 410.57 L325.80 408.45 L326.08 405.99 L326.36 403.36 L326.64 400.74 L326.92 398.30 L327.20 396.22 L327.48 394.66 L327.76 393.71 L328.04 393.45 L328.32 393.92 L328.60 395.08 L328.88 396.86 L329.16 399.14 L329.44 401.77 L329.72 404.56 L330.00 407.32 L330.28 409.85 L330.56 411.97 L330.84 413.53 L331.12 414.42 L331.40 414.57 L331.68 413.97 L331.96 412.66 L332.24 410.75 L332.52 408.37 L332.80 405.72 L333.08 402.99 L333.36 400.40 L333.64 398.15 L333.92 396.42 L334.20 395.35 L334.48 395.04 L334.76 395.51 L335.04 396.74 L335.32 398.64 L335.60 401.06 L335.88 403.82 L336.16 406.70 L336.44 409.47 L336.72 411.92 L337.00 413.84 L337.28 415.07 L337.56 415.52 L337.84 415.16 L338.12 414.00 L338.40 412.15 L338.68 409.77 L338.96 407.06 L339.24 404.25 L339.52 401.60 L339.80 399.32 L340.08 397.64 L340.36 396.70 L340.64 396.59 L340.92 397.33 L341.20 398.87 L341.48 401.08 L341.76 403.76 L342.04 406.69 L342.32 409.60 L342.60 412.24 L342.88 414.37 L343.16 415.79 L343.44 416.38 L343.72 416.08 L344.00 414.93 L344.28 413.02 L344.56 410.54 L344.84 407.74 L345.12 404.87 L345.40 402.22 L345.68 400.05 L345.96 398.58 L346.24 397.96 L346.52 398.26 L346.80 399.45 L347.08 401.44 L347.36 404.04 L347.64 406.98 L347.92 409.99 L348.20 412.77 L348.48 415.04 L348.76 416.57 L349.04 417.20 L349.32 416.88 L349.60 415.64 L349.88 413.61 L350.16 411.00 L350.44 408.08 L350.72 405.19 L351.00 402.61 L351.28 400.65 L351.56 399.51 L351.84 399.34 L352.12 400.15 L352.40 401.88 L352.68 404.34 L352.96 407.27 L353.24 410.36 L353.52 413.26 L353.80 415.67 L354.08 417.30 L354.36 417.99 L354.64 417.64 L354.92 416.32 L355.20 414.16 L355.48 411.42 L355.76 408.42 L356.04 405.52 L356.32 403.06 L356.60 401.35 L356.88 400.59 L357.16 400.89 L357.44 402.22 L357.72 404.43 L358.00 407.27 L358.28 410.40 L358.56 413.45 L358.84 416.05 L359.12 417.87 L359.40 418.71 L359.68 418.45 L359.96 417.13 L360.24 414.92 L360.52 412.10 L360.80 409.04 L361.08 406.13 L361.36 403.76 L361.64 402.24 L361.92 401.78 L362.20 402.46 L362.48 404.19 L362.76 406.77 L363.04 409.85 L363.32 413.04 L363.60 415.91 L363.88 418.09 L364.16 419.29 L364.44 419.33 L364.72 418.23 L365.00 416.13 L365.28 413.32 L365.56 410.21 L365.84 407.24 L366.12 404.83 L366.40 403.33 L366.68 402.97 L366.96 403.81 L367.24 405.75 L367.52 408.51 L367.80 411.72 L368.08 414.90 L368.36 417.61 L368.64 419.44 L368.92 420.13 L369.20 419.59 L369.48 417.89 L369.76 415.30 L370.04 412.20 L370.32 409.09 L370.60 406.43 L370.88 404.66 L371.16 404.06 L371.44 404.73 L371.72 406.58 L372.00 409.34 L372.28 412.59 L372.56 415.81 L372.84 418.51 L373.12 420.26 L373.40 420.78 L373.68 419.99 L373.96 418.03 L374.24 415.21 L374.52 412.01 L374.80 408.96 L375.08 406.59 L375.36 405.29 L375.64 405.30 L375.92 406.64 L376.20 409.08 L376.48 412.24 L376.76 415.57 L377.04 418.52 L377.32 420.59 L377.60 421.41 L377.88 420.85 L378.16 419.01 L378.44 416.23 L378.72 412.99 L379.00 409.90 L379.28 407.51 L379.56 406.26 L379.84 406.41 L380.12 407.93 L380.40 410.57 L380.68 413.86 L380.96 417.18 L381.24 419.95 L381.52 421.65 L381.80 421.96 L382.08 420.83 L382.36 418.48 L382.64 415.37 L382.92 412.09 L383.20 409.30 L383.48 407.55 L383.76 407.19 L384.04 408.31 L384.32 410.71 L384.60 413.92 L384.88 417.33 L385.16 420.25 L385.44 422.12 L385.72 422.56 L386.00 421.49 L386.28 419.12 L386.56 415.96 L386.84 412.67 L387.12 409.93 L387.40 408.34 L387.68 408.24 L387.96 409.67 L388.24 412.35 L388.52 415.72 L388.80 419.08 L389.08 421.71 L389.36 423.05 L389.64 422.82 L389.92 421.08 L390.20 418.22 L390.48 414.86 L390.76 411.78 L391.04 409.67 L391.32 409.02 L391.60 409.99 L391.88 412.39 L392.16 415.68 L392.44 419.13 L392.72 421.96 L393.00 423.51 L393.28 423.45 L393.56 421.79 L393.84 418.92 L394.12 415.54 L394.40 412.46 L394.68 410.42 L394.96 409.93 L395.24 411.14 L395.52 413.76 L395.80 417.18 L396.08 420.57 L396.36 423.12 L396.64 424.20 L396.92 423.56 L397.20 421.36 L397.48 418.16 L397.76 414.79 L398.04 412.10 L398.32 410.81 L398.60 411.26 L398.88 413.36 L399.16 416.58 L399.44 420.10 L399.72 423.02 L400.00 424.58 L400.28 424.38 L400.56 422.48 L400.84 419.39 L401.12 415.96 L401.40 413.13 L401.68 411.68 L401.96 412.02 L402.24 414.09 L402.52 417.34 L402.80 420.88 L403.08 423.74 L403.36 425.14 L403.64 424.70 L403.92 422.54 L404.20 419.30 L404.48 415.90 L404.76 413.35 L405.04 412.39 L405.32 413.32 L405.60 415.91 L405.88 419.40 L406.16 422.79 L406.44 425.09 L406.72 425.64 L407.00 424.27 L407.28 421.41 L407.56 417.94 L407.84 414.92 L408.12 413.30 L408.40 413.59 L408.68 415.73 L408.96 419.07 L409.24 422.60 L409.52 425.23 L409.80 426.14 L410.08 425.06 L410.36 422.35 L410.64 418.87 L410.92 415.77 L411.20 414.07 L411.48 414.34 L411.76 416.51 L412.04 419.90 L412.32 423.42 L412.60 425.90 L412.88 426.56 L413.16 425.16 L413.44 422.21 L413.72 418.71 L414.00 415.86 L414.28 414.67 L414.56 415.56 L414.84 418.26 L415.12 421.84 L415.40 425.09 L415.68 426.88 L415.96 426.60 L416.24 424.36 L416.52 420.97 L416.80 417.66 L417.08 415.65 L417.36 415.67 L417.64 417.75 L417.92 421.16 L418.20 424.66 L418.48 426.99 L418.76 427.30 L419.04 425.49 L419.32 422.25 L419.60 418.82 L419.88 416.52 L420.16 416.24 L420.44 418.12 L420.72 421.47 L421.00 425.01 L421.28 427.39 L421.56 427.71 L421.84 425.86 L422.12 422.57 L422.40 419.18 L422.68 417.05 L422.96 417.06 L423.24 419.23 L423.52 422.72 L423.80 426.13 L424.08 428.09 L424.36 427.82 L424.64 425.44 L424.92 421.97 L425.20 418.86 L425.48 417.44 L425.76 418.34 L426.04 421.20 L426.32 424.84 L426.60 427.72 L426.88 428.64 L427.16 427.20 L427.44 424.07 L427.72 420.61 L428.00 418.38 L428.28 418.37 L428.56 420.63 L428.84 424.18 L429.12 427.45 L429.40 429.01 L429.68 428.16 L429.96 425.32 L430.24 421.80 L430.52 419.24 L430.80 418.84 L431.08 420.83 L431.36 424.30 L431.64 427.66 L431.92 429.36 L432.20 428.61 L432.48 425.80 L432.76 422.28 L433.04 419.78 L433.32 419.52 L433.60 421.66 L433.88 425.20 L434.16 428.42 L434.44 429.77 L434.72 428.61 L435.00 425.53 L435.28 422.10 L435.56 420.07 L435.84 420.49 L436.12 423.15 L436.40 426.73 L436.68 429.42 L436.96 429.84" stroke="#ff0000" stroke-width="1.65"/>
<path d="M103.40 234.50 L103.54 235.04 L103.67 235.57 L103.81 236.11 L103.94 236.64 L104.08 237.18 L104.21 237.71 L104.35 238.25 L104.49 238.79 L104.62 239.32 L104.76 239.86 L104.89 240.39 L105.03 240.93 L105.16 241.46 L105.30 242.00 L105.43 242.54 L105.57 243.08 L105.70 243.63 L105.83 244.17 L105.96 244.72 L106.10 245.27 L106.23 245.82 L106.36 246.36 L106.49 246.90 L106.63 247.43 L106.77 247.96 L106.91 248.48 L107.05 249.00 L107.20 249.50 L107.37 250.07 L107.54 250.64 L107.71 251.22 L107.88 251.79 L108.05 252.36 L108.23 252.91 L108.41 253.44 L108.59 253.95 L108.79 254.43 L108.99 254.89 L109.20 255.30 L109.53 255.92 L109.88 256.52 L110.24 257.04 L110.61 257.43 L111.00 257.60 L111.48 257.48 L111.99 257.09 L112.50 256.56 L113.00 256.00 L113.32 255.62 L113.63 255.19 L113.95 254.71 L114.25 254.22 L114.56 253.71 L114.87 253.22 L115.18 252.74 L115.50 252.30 L115.88 251.80 L116.25 251.30 L116.62 250.82 L117.00 250.37 L117.39 249.96 L117.80 249.60 L118.34 249.19 L118.90 248.83 L119.47 248.57 L120.00 248.50 L120.48 248.64 L120.95 248.93 L121.40 249.33 L121.80 249.80 L122.07 250.20 L122.31 250.66 L122.53 251.17 L122.73 251.72 L122.92 252.30 L123.11 252.90 L123.30 253.50 L123.45 253.99 L123.60 254.50 L123.75 255.02 L123.89 255.56 L124.03 256.10 L124.17 256.67 L124.30 257.24 L124.43 257.82 L124.55 258.41 L124.68 259.00 L124.80 259.60 L124.90 260.12 L125.00 260.64 L125.10 261.16 L125.19 261.69 L125.28 262.23 L125.37 262.77 L125.46 263.32 L125.55 263.87 L125.63 264.44 L125.71 265.01 L125.79 265.59 L125.87 266.18 L125.95 266.78 L126.03 267.38 L126.10 268.00 L126.16 268.50 L126.22 269.00 L126.27 269.50 L126.32 270.00 L126.37 270.51 L126.42 271.01 L126.47 271.52 L126.51 272.03 L126.56 272.55 L126.60 273.08 L126.65 273.61 L126.69 274.16 L126.73 274.71 L126.78 275.27 L126.82 275.85 L126.86 276.44 L126.91 277.04 L126.95 277.66 L127.00 278.29 L127.05 278.94 L127.10 279.61 L127.15 280.29 L127.20 281.00 L127.23 281.41 L127.26 281.82 L127.29 282.25 L127.32 282.68 L127.35 283.12 L127.39 283.57 L127.42 284.03 L127.45 284.50 L127.48 284.97 L127.52 285.45 L127.55 285.94 L127.58 286.43 L127.62 286.93 L127.65 287.44 L127.69 287.95 L127.72 288.47 L127.76 289.00 L127.79 289.53 L127.83 290.07 L127.86 290.61 L127.90 291.16 L127.93 291.71 L127.97 292.27 L128.01 292.83 L128.04 293.39 L128.08 293.96 L128.12 294.53 L128.15 295.11 L128.19 295.69 L128.23 296.27 L128.26 296.85 L128.30 297.44 L128.34 298.03 L128.38 298.62 L128.41 299.21 L128.45 299.81 L128.49 300.41 L128.53 301.00 L128.56 301.60 L128.60 302.20 L128.64 302.80 L128.68 303.40 L128.71 304.00 L128.75 304.60 L128.79 305.20 L128.82 305.80 L128.86 306.40 L128.90 307.00 L128.94 307.60 L128.97 308.19 L129.01 308.79 L129.05 309.38 L129.08 309.97 L129.12 310.56 L129.15 311.14 L129.19 311.73 L129.23 312.31 L129.26 312.88 L129.30 313.46 L129.33 314.03 L129.37 314.59 L129.40 315.16 L129.44 315.71 L129.47 316.27 L129.50 316.82 L129.54 317.36 L129.57 317.90 L129.60 318.43 L129.64 318.96 L129.67 319.48 L129.70 320.00 L129.74 320.59 L129.77 321.18 L129.81 321.77 L129.85 322.36 L129.88 322.95 L129.92 323.53 L129.96 324.12 L129.99 324.71 L130.03 325.29 L130.06 325.87 L130.10 326.45 L130.13 327.03 L130.17 327.61 L130.21 328.19 L130.24 328.77 L130.28 329.34 L130.31 329.92 L130.35 330.49 L130.38 331.06 L130.42 331.63 L130.45 332.20 L130.49 332.77 L130.52 333.33 L130.55 333.90 L130.59 334.46 L130.62 335.02 L130.66 335.58 L130.69 336.14 L130.72 336.69 L130.76 337.25 L130.79 337.80 L130.82 338.35 L130.86 338.90 L130.89 339.45 L130.92 340.00 L130.95 340.54 L130.98 341.08 L131.02 341.62 L131.05 342.16 L131.08 342.70 L131.11 343.23 L131.14 343.77 L131.17 344.30 L131.20 344.83 L131.23 345.35 L131.27 345.88 L131.30 346.40 L131.33 346.92 L131.35 347.44 L131.38 347.96 L131.41 348.47 L131.44 348.98 L131.47 349.49 L131.50 350.00 L131.53 350.60 L131.57 351.20 L131.60 351.80 L131.63 352.39 L131.66 352.99 L131.70 353.58 L131.73 354.17 L131.76 354.75 L131.79 355.34 L131.82 355.92 L131.85 356.50 L131.88 357.08 L131.91 357.65 L131.94 358.23 L131.97 358.80 L132.00 359.36 L132.03 359.93 L132.06 360.49 L132.09 361.05 L132.12 361.60 L132.14 362.15 L132.17 362.70 L132.20 363.25 L132.23 363.79 L132.26 364.33 L132.28 364.87 L132.31 365.40 L132.34 365.93 L132.36 366.45 L132.39 366.97 L132.42 367.49 L132.44 368.00 L132.47 368.51 L132.50 369.02 L132.52 369.52 L132.55 370.02 L132.57 370.51 L132.60 371.00 L132.63 371.63 L132.66 372.24 L132.70 372.84 L132.73 373.43 L132.76 374.01 L132.78 374.58 L132.81 375.14 L132.84 375.70 L132.87 376.25 L132.90 376.80 L132.92 377.34 L132.95 377.88 L132.98 378.42 L133.01 378.96 L133.04 379.50 L133.07 380.04 L133.10 380.59 L133.13 381.14 L133.16 381.70 L133.19 382.26 L133.23 382.83 L133.26 383.41 L133.30 384.00 L133.33 384.53 L133.37 385.07 L133.41 385.62 L133.44 386.19 L133.48 386.76 L133.52 387.33 L133.56 387.92 L133.60 388.51 L133.64 389.10 L133.68 389.70 L133.72 390.29 L133.76 390.89 L133.80 391.49 L133.84 392.08 L133.89 392.68 L133.93 393.26 L133.97 393.85 L134.02 394.42 L134.06 394.99 L134.10 395.55 L134.15 396.10 L134.19 396.64 L134.24 397.16 L134.28 397.68 L134.32 398.18 L134.37 398.66 L134.41 399.12 L134.46 399.57 L134.50 400.00 L134.57 400.65 L134.64 401.27 L134.71 401.85 L134.79 402.40 L134.86 402.92 L134.93 403.44 L135.01 403.94 L135.08 404.44 L135.15 404.95 L135.23 405.47 L135.30 406.00 L135.38 405.47 L135.47 404.95 L135.55 404.44 L135.63 403.94 L135.72 403.44 L135.80 402.92 L135.88 402.40 L135.96 401.85 L136.04 401.27 L136.12 400.66 L136.20 400.00 L136.25 399.57 L136.29 399.12 L136.34 398.66 L136.39 398.18 L136.43 397.68 L136.48 397.16 L136.52 396.64 L136.57 396.10 L136.62 395.55 L136.66 394.99 L136.70 394.42 L136.75 393.85 L136.79 393.26 L136.83 392.68 L136.88 392.08 L136.92 391.49 L136.96 390.89 L137.00 390.29 L137.04 389.70 L137.08 389.10 L137.12 388.51 L137.16 387.92 L137.19 387.33 L137.23 386.76 L137.27 386.19 L137.30 385.62 L137.33 385.07 L137.37 384.53 L137.40 384.00 L137.44 383.41 L137.47 382.83 L137.50 382.26 L137.53 381.70 L137.56 381.14 L137.59 380.59 L137.62 380.05 L137.64 379.50 L137.67 378.96 L137.69 378.42 L137.72 377.88 L137.74 377.34 L137.76 376.80 L137.78 376.25 L137.81 375.70 L137.83 375.14 L137.85 374.58 L137.88 374.01 L137.90 373.43 L137.92 372.84 L137.95 372.24 L137.97 371.63 L138.00 371.00 L138.02 370.51 L138.04 370.02 L138.06 369.52 L138.08 369.02 L138.10 368.51 L138.11 368.00 L138.13 367.49 L138.15 366.97 L138.16 366.45 L138.18 365.93 L138.20 365.40 L138.21 364.87 L138.23 364.33 L138.25 363.79 L138.26 363.25 L138.28 362.70 L138.30 362.15 L138.32 361.60 L138.33 361.05 L138.35 360.49 L138.37 359.93 L138.39 359.36 L138.41 358.79 L138.43 358.22 L138.45 357.65 L138.47 357.08 L138.49 356.50 L138.52 355.92 L138.54 355.34 L138.56 354.75 L138.59 354.17 L138.62 353.58 L138.64 352.98 L138.67 352.39 L138.70 351.80 L138.73 351.20 L138.77 350.60 L138.80 350.00 L138.83 349.49 L138.86 348.98 L138.89 348.47 L138.93 347.96 L138.96 347.44 L139.00 346.92 L139.03 346.40 L139.07 345.88 L139.11 345.36 L139.15 344.83 L139.19 344.30 L139.23 343.77 L139.27 343.24 L139.32 342.71 L139.36 342.17 L139.41 341.63 L139.45 341.10 L139.50 340.55 L139.54 340.01 L139.59 339.47 L139.63 338.92 L139.68 338.37 L139.73 337.82 L139.78 337.27 L139.83 336.72 L139.87 336.16 L139.92 335.60 L139.97 335.04 L140.02 334.48 L140.07 333.92 L140.11 333.36 L140.16 332.79 L140.21 332.23 L140.26 331.66 L140.31 331.09 L140.35 330.52 L140.40 329.95 L140.45 329.37 L140.49 328.80 L140.54 328.22 L140.58 327.64 L140.63 327.06 L140.67 326.48 L140.72 325.90 L140.76 325.31 L140.80 324.73 L140.84 324.14 L140.88 323.55 L140.92 322.96 L140.96 322.37 L141.00 321.78 L141.03 321.19 L141.07 320.60 L141.10 320.00 L141.13 319.48 L141.16 318.96 L141.18 318.43 L141.21 317.90 L141.23 317.37 L141.26 316.83 L141.28 316.28 L141.31 315.73 L141.33 315.18 L141.35 314.63 L141.37 314.07 L141.39 313.51 L141.41 312.94 L141.43 312.38 L141.45 311.81 L141.47 311.24 L141.49 310.66 L141.51 310.08 L141.52 309.50 L141.54 308.92 L141.56 308.34 L141.57 307.76 L141.59 307.17 L141.60 306.58 L141.62 306.00 L141.64 305.41 L141.65 304.82 L141.66 304.23 L141.68 303.64 L141.69 303.05 L141.71 302.45 L141.72 301.86 L141.74 301.27 L141.75 300.68 L141.77 300.09 L141.78 299.50 L141.79 298.91 L141.81 298.32 L141.82 297.74 L141.84 297.15 L141.85 296.57 L141.87 295.98 L141.88 295.40 L141.90 294.82 L141.91 294.24 L141.93 293.67 L141.94 293.10 L141.96 292.53 L141.98 291.96 L141.99 291.39 L142.01 290.83 L142.03 290.27 L142.05 289.72 L142.06 289.17 L142.08 288.62 L142.10 288.07 L142.12 287.53 L142.14 287.00 L142.16 286.46 L142.19 285.94 L142.21 285.41 L142.23 284.89 L142.25 284.38 L142.28 283.87 L142.30 283.37 L142.33 282.87 L142.36 282.38 L142.38 281.89 L142.41 281.41 L142.44 280.93 L142.47 280.46 L142.50 280.00 L142.54 279.35 L142.59 278.71 L142.63 278.07 L142.68 277.44 L142.73 276.82 L142.77 276.20 L142.82 275.59 L142.87 274.98 L142.92 274.38 L142.97 273.79 L143.02 273.20 L143.07 272.61 L143.12 272.03 L143.17 271.46 L143.22 270.89 L143.28 270.33 L143.33 269.77 L143.39 269.22 L143.44 268.67 L143.50 268.13 L143.55 267.59 L143.61 267.05 L143.67 266.52 L143.73 266.00 L143.79 265.47 L143.85 264.96 L143.91 264.44 L143.97 263.94 L144.04 263.43 L144.10 262.93 L144.16 262.43 L144.23 261.94 L144.30 261.45 L144.36 260.96 L144.43 260.48 L144.50 260.00 L144.59 259.37 L144.68 258.75 L144.77 258.13 L144.86 257.51 L144.95 256.89 L145.04 256.29 L145.13 255.68 L145.22 255.09 L145.31 254.50 L145.41 253.92 L145.50 253.35 L145.61 252.80 L145.71 252.26 L145.82 251.73 L145.93 251.21 L146.04 250.71 L146.16 250.23 L146.29 249.77 L146.42 249.33 L146.56 248.90 L146.70 248.50 L146.98 247.76 L147.28 247.01 L147.60 246.29 L147.93 245.66 L148.26 245.15 L148.59 244.82 L148.90 244.70 L149.18 244.81 L149.46 245.11 L149.74 245.56 L150.02 246.13 L150.30 246.79 L150.57 247.51 L150.84 248.26 L151.10 249.00 L151.23 249.39 L151.36 249.80 L151.49 250.24 L151.62 250.70 L151.74 251.18 L151.87 251.69 L151.99 252.21 L152.11 252.76 L152.24 253.31 L152.36 253.88 L152.48 254.46 L152.59 255.06 L152.71 255.66 L152.83 256.26 L152.95 256.88 L153.06 257.49 L153.18 258.11 L153.30 258.73 L153.41 259.34 L153.53 259.95 L153.65 260.56 L153.76 261.16 L153.88 261.75 L154.00 262.33 L154.12 262.89 L154.24 263.44 L154.36 263.98 L154.48 264.50 L154.60 265.00 L154.75 265.61 L154.89 266.24 L155.04 266.88 L155.18 267.52 L155.32 268.16 L155.45 268.81 L155.59 269.45 L155.73 270.08 L155.87 270.69 L156.01 271.29 L156.16 271.87 L156.31 272.43 L156.46 272.95 L156.62 273.45 L156.78 273.90 L156.95 274.32 L157.12 274.70 L157.31 275.02 L157.50 275.30 L158.08 275.86 L158.69 276.18 L159.30 276.30 L159.83 276.09 L160.35 275.71 L160.90 275.60 L161.16 275.72 L161.44 275.93 L161.73 276.20 L162.03 276.55 L162.33 276.95 L162.64 277.41 L162.95 277.91 L163.26 278.46 L163.56 279.04 L163.86 279.64 L164.14 280.27 L164.41 280.91 L164.66 281.55 L164.90 282.20 L165.03 282.59 L165.15 283.00 L165.27 283.42 L165.39 283.86 L165.50 284.32 L165.60 284.80 L165.70 285.28 L165.80 285.79 L165.89 286.30 L165.98 286.83 L166.07 287.37 L166.15 287.92 L166.22 288.47 L166.30 289.04 L166.37 289.62 L166.44 290.20 L166.51 290.79 L166.57 291.39 L166.63 291.99 L166.69 292.60 L166.75 293.21 L166.81 293.82 L166.86 294.44 L166.91 295.05 L166.97 295.67 L167.02 296.29 L167.07 296.91 L167.12 297.52 L167.17 298.13 L167.22 298.74 L167.27 299.35 L167.32 299.95 L167.37 300.54 L167.42 301.13 L167.47 301.71 L167.52 302.28 L167.57 302.85 L167.63 303.40 L167.68 303.94 L167.74 304.48 L167.80 305.00 L167.87 305.59 L167.93 306.18 L168.00 306.77 L168.06 307.36 L168.13 307.95 L168.19 308.55 L168.25 309.14 L168.31 309.73 L168.37 310.32 L168.42 310.90 L168.48 311.49 L168.54 312.07 L168.59 312.65 L168.65 313.22 L168.70 313.79 L168.76 314.35 L168.81 314.91 L168.87 315.47 L168.92 316.02 L168.98 316.56 L169.03 317.10 L169.09 317.63 L169.14 318.15 L169.20 318.66 L169.25 319.17 L169.31 319.66 L169.37 320.15 L169.42 320.63 L169.48 321.10 L169.54 321.55 L169.60 322.00 L169.69 322.68 L169.78 323.39 L169.87 324.13 L169.96 324.87 L170.06 325.61 L170.15 326.32 L170.24 327.00 L170.33 327.64 L170.43 328.21 L170.52 328.71 L170.61 329.12 L170.71 329.43 L170.80 329.63 L170.90 329.70 L171.00 329.63 L171.09 329.44 L171.19 329.12 L171.29 328.71 L171.39 328.21 L171.48 327.64 L171.58 327.00 L171.68 326.32 L171.78 325.61 L171.88 324.87 L171.99 324.13 L172.09 323.39 L172.19 322.68 L172.30 322.00 L172.37 321.56 L172.44 321.11 L172.52 320.65 L172.59 320.19 L172.67 319.72 L172.75 319.24 L172.82 318.76 L172.90 318.27 L172.98 317.77 L173.06 317.27 L173.14 316.76 L173.22 316.24 L173.30 315.71 L173.38 315.18 L173.46 314.64 L173.54 314.10 L173.62 313.54 L173.71 312.98 L173.79 312.42 L173.87 311.84 L173.95 311.26 L174.02 310.67 L174.10 310.07 L174.18 309.46 L174.26 308.85 L174.33 308.23 L174.41 307.60 L174.48 306.96 L174.56 306.31 L174.63 305.66 L174.70 305.00 L174.75 304.56 L174.79 304.10 L174.83 303.63 L174.88 303.15 L174.92 302.66 L174.96 302.16 L175.00 301.65 L175.05 301.13 L175.09 300.60 L175.12 300.06 L175.16 299.51 L175.20 298.96 L175.24 298.39 L175.28 297.82 L175.31 297.24 L175.35 296.66 L175.39 296.07 L175.42 295.47 L175.46 294.87 L175.49 294.26 L175.53 293.65 L175.56 293.03 L175.60 292.41 L175.63 291.78 L175.66 291.15 L175.70 290.52 L175.73 289.89 L175.76 289.25 L175.80 288.62 L175.83 287.98 L175.86 287.34 L175.89 286.70 L175.93 286.06 L175.96 285.42 L175.99 284.78 L176.03 284.14 L176.06 283.50 L176.09 282.86 L176.13 282.23 L176.16 281.60 L176.20 280.97 L176.23 280.34 L176.26 279.72 L176.30 279.10 L176.33 278.49 L176.37 277.88 L176.41 277.28 L176.44 276.68 L176.48 276.09 L176.52 275.50 L176.55 274.93 L176.59 274.35 L176.63 273.79 L176.67 273.23 L176.71 272.69 L176.75 272.15 L176.79 271.62 L176.83 271.09 L176.87 270.58 L176.92 270.08 L176.96 269.59 L177.01 269.11 L177.05 268.64 L177.10 268.19 L177.14 267.74 L177.19 267.31 L177.24 266.89 L177.29 266.48 L177.34 266.09 L177.39 265.71 L177.45 265.35 L177.50 265.00 L177.62 264.22 L177.75 263.48 L177.87 262.77 L177.99 262.10 L178.11 261.45 L178.24 260.84 L178.37 260.27 L178.50 259.72 L178.64 259.20 L178.79 258.71 L178.95 258.24 L179.12 257.80 L179.30 257.39 L179.50 257.00 L179.87 256.36 L180.27 255.75 L180.69 255.25 L181.11 254.91 L181.50 254.80 L181.88 254.97 L182.26 255.37 L182.62 255.97 L182.97 256.69 L183.30 257.50 L183.42 257.82 L183.53 258.16 L183.64 258.53 L183.74 258.93 L183.85 259.36 L183.95 259.80 L184.04 260.27 L184.14 260.76 L184.23 261.27 L184.32 261.79 L184.41 262.33 L184.49 262.89 L184.58 263.46 L184.66 264.04 L184.74 264.63 L184.82 265.23 L184.90 265.84 L184.98 266.46 L185.06 267.08 L185.14 267.71 L185.21 268.33 L185.29 268.96 L185.37 269.59 L185.45 270.22 L185.52 270.84 L185.60 271.46 L185.68 272.07 L185.76 272.68 L185.85 273.27 L185.93 273.86 L186.01 274.44 L186.10 275.00 L186.19 275.54 L186.27 276.09 L186.36 276.65 L186.44 277.21 L186.53 277.78 L186.62 278.35 L186.71 278.92 L186.79 279.50 L186.88 280.08 L186.97 280.66 L187.06 281.24 L187.15 281.82 L187.23 282.41 L187.32 282.99 L187.41 283.57 L187.50 284.15 L187.58 284.73 L187.67 285.30 L187.76 285.88 L187.84 286.45 L187.93 287.01 L188.02 287.57 L188.10 288.12 L188.19 288.67 L188.27 289.21 L188.36 289.75 L188.44 290.27 L188.52 290.79 L188.60 291.30 L188.68 291.80 L188.76 292.29 L188.84 292.77 L188.92 293.24 L189.00 293.70 L189.11 294.38 L189.19 295.08 L189.27 295.78 L189.34 296.49 L189.40 297.19 L189.46 297.89 L189.52 298.56 L189.59 299.21 L189.66 299.83 L189.75 300.42 L189.85 300.96 L189.97 301.45 L190.11 301.89 L190.28 302.26 L190.47 302.57 L190.70 302.80 L191.20 302.97 L191.79 302.89 L192.42 302.71 L193.04 302.56 L193.60 302.60 L194.11 302.94 L194.60 303.49 L195.05 304.07 L195.49 304.50 L195.90 304.60 L196.09 304.50 L196.27 304.30 L196.44 304.04 L196.60 303.69 L196.76 303.29 L196.91 302.82 L197.05 302.30 L197.19 301.74 L197.33 301.13 L197.46 300.49 L197.59 299.83 L197.71 299.14 L197.84 298.44 L197.96 297.73 L198.08 297.03 L198.20 296.32 L198.32 295.63 L198.45 294.96 L198.57 294.32 L198.70 293.70 L198.81 293.19 L198.92 292.66 L199.02 292.12 L199.12 291.57 L199.23 291.01 L199.33 290.44 L199.43 289.87 L199.52 289.29 L199.62 288.70 L199.72 288.11 L199.81 287.52 L199.91 286.92 L200.00 286.32 L200.10 285.73 L200.19 285.13 L200.29 284.54 L200.38 283.95 L200.48 283.37 L200.57 282.79 L200.67 282.21 L200.77 281.65 L200.87 281.09 L200.97 280.55 L201.07 280.01 L201.18 279.49 L201.28 278.98 L201.39 278.48 L201.50 278.00 L201.64 277.38 L201.79 276.76 L201.93 276.15 L202.07 275.53 L202.22 274.93 L202.36 274.33 L202.51 273.75 L202.66 273.18 L202.81 272.63 L202.96 272.11 L203.12 271.60 L203.29 271.12 L203.45 270.66 L203.63 270.24 L203.81 269.85 L204.00 269.50 L204.36 268.91 L204.74 268.35 L205.13 267.90 L205.52 267.59 L205.90 267.50 L206.26 267.63 L206.63 267.96 L206.99 268.44 L207.34 269.04 L207.68 269.74 L208.00 270.50 L208.12 270.81 L208.23 271.15 L208.34 271.52 L208.45 271.90 L208.55 272.31 L208.65 272.74 L208.75 273.20 L208.85 273.67 L208.94 274.16 L209.03 274.67 L209.12 275.19 L209.20 275.73 L209.28 276.28 L209.37 276.85 L209.45 277.42 L209.52 278.01 L209.60 278.61 L209.67 279.22 L209.75 279.83 L209.82 280.46 L209.89 281.08 L209.96 281.71 L210.03 282.35 L210.10 282.99 L210.17 283.63 L210.24 284.26 L210.31 284.90 L210.37 285.54 L210.44 286.17 L210.51 286.80 L210.58 287.42 L210.65 288.04 L210.71 288.65 L210.78 289.25 L210.86 289.85 L210.93 290.43 L211.00 291.00 L211.07 291.54 L211.14 292.09 L211.21 292.65 L211.28 293.21 L211.34 293.78 L211.41 294.35 L211.48 294.92 L211.55 295.50 L211.61 296.08 L211.68 296.67 L211.74 297.25 L211.81 297.84 L211.87 298.43 L211.94 299.02 L212.00 299.61 L212.06 300.20 L212.13 300.79 L212.19 301.38 L212.25 301.96 L212.31 302.55 L212.37 303.13 L212.44 303.71 L212.50 304.28 L212.56 304.85 L212.62 305.42 L212.68 305.98 L212.74 306.53 L212.80 307.08 L212.86 307.62 L212.92 308.16 L212.98 308.68 L213.04 309.20 L213.09 309.71 L213.15 310.21 L213.21 310.70 L213.27 311.18 L213.33 311.66 L213.38 312.12 L213.44 312.56 L213.50 313.00 L213.59 313.71 L213.68 314.45 L213.77 315.21 L213.86 315.98 L213.94 316.75 L214.03 317.50 L214.11 318.24 L214.20 318.93 L214.28 319.59 L214.37 320.19 L214.45 320.73 L214.54 321.20 L214.63 321.58 L214.72 321.86 L214.81 322.04 L214.90 322.10 L214.99 322.04 L215.09 321.86 L215.18 321.58 L215.28 321.21 L215.38 320.75 L215.48 320.22 L215.58 319.62 L215.68 318.96 L215.78 318.27 L215.88 317.53 L215.98 316.78 L216.08 316.01 L216.19 315.24 L216.29 314.47 L216.39 313.72 L216.50 313.00 L216.56 312.57 L216.63 312.12 L216.69 311.65 L216.76 311.17 L216.82 310.67 L216.88 310.16 L216.95 309.64 L217.01 309.10 L217.08 308.55 L217.14 308.00 L217.21 307.43 L217.28 306.86 L217.34 306.27 L217.41 305.68 L217.47 305.08 L217.54 304.48 L217.61 303.87 L217.67 303.26 L217.74 302.64 L217.81 302.03 L217.88 301.41 L217.95 300.79 L218.02 300.17 L218.09 299.55 L218.16 298.93 L218.23 298.31 L218.30 297.70 L218.37 297.09 L218.44 296.49 L218.51 295.89 L218.58 295.30 L218.66 294.72 L218.73 294.14 L218.81 293.57 L218.88 293.01 L218.96 292.47 L219.03 291.93 L219.11 291.41 L219.18 290.90 L219.26 290.40 L219.34 289.92 L219.42 289.45 L219.50 289.00 L219.62 288.33 L219.74 287.66 L219.85 287.00 L219.97 286.35 L220.08 285.70 L220.20 285.06 L220.31 284.43 L220.43 283.82 L220.55 283.22 L220.67 282.64 L220.80 282.08 L220.93 281.54 L221.06 281.02 L221.20 280.53 L221.34 280.06 L221.50 279.62 L221.66 279.22 L221.82 278.84 L222.00 278.50 L222.37 277.89 L222.77 277.33 L223.18 276.89 L223.60 276.59 L224.00 276.50 L224.41 276.65 L224.83 277.01 L225.23 277.55 L225.62 278.23 L226.00 279.00 L226.13 279.30 L226.25 279.63 L226.37 279.98 L226.49 280.37 L226.61 280.78 L226.72 281.22 L226.83 281.68 L226.94 282.16 L227.05 282.66 L227.15 283.18 L227.26 283.72 L227.36 284.27 L227.46 284.84 L227.56 285.43 L227.66 286.02 L227.75 286.63 L227.85 287.25 L227.94 287.87 L228.03 288.51 L228.12 289.14 L228.21 289.79 L228.30 290.43 L228.39 291.08 L228.48 291.72 L228.56 292.37 L228.65 293.01 L228.73 293.65 L228.82 294.29 L228.90 294.91 L228.99 295.53 L229.07 296.14 L229.16 296.74 L229.24 297.33 L229.33 297.90 L229.41 298.46 L229.50 299.00 L229.59 299.57 L229.68 300.15 L229.77 300.72 L229.86 301.30 L229.95 301.88 L230.03 302.46 L230.12 303.04 L230.21 303.62 L230.29 304.19 L230.38 304.77 L230.46 305.35 L230.54 305.93 L230.62 306.50 L230.70 307.07 L230.78 307.64 L230.86 308.20 L230.94 308.76 L231.02 309.32 L231.10 309.87 L231.18 310.42 L231.26 310.96 L231.33 311.50 L231.41 312.03 L231.48 312.55 L231.56 313.07 L231.63 313.58 L231.71 314.08 L231.78 314.57 L231.85 315.06 L231.93 315.53 L232.00 316.00 L232.10 316.67 L232.20 317.38 L232.30 318.12 L232.40 318.87 L232.49 319.63 L232.59 320.38 L232.68 321.11 L232.78 321.81 L232.87 322.46 L232.96 323.07 L233.05 323.62 L233.14 324.09 L233.23 324.47 L233.32 324.76 L233.41 324.94 L233.50 325.00 L233.58 324.95 L233.66 324.79 L233.74 324.54 L233.82 324.20 L233.90 323.78 L233.98 323.30 L234.06 322.75 L234.14 322.15 L234.21 321.51 L234.29 320.82 L234.36 320.11 L234.44 319.38 L234.52 318.63 L234.59 317.88 L234.67 317.14 L234.75 316.40 L234.82 315.69 L234.90 315.00 L234.95 314.55 L235.00 314.08 L235.05 313.59 L235.10 313.09 L235.15 312.57 L235.21 312.04 L235.26 311.50 L235.31 310.95 L235.36 310.38 L235.41 309.81 L235.46 309.23 L235.51 308.64 L235.56 308.04 L235.61 307.44 L235.65 306.83 L235.70 306.22 L235.75 305.60 L235.80 304.98 L235.85 304.36 L235.90 303.74 L235.95 303.12 L236.00 302.49 L236.05 301.87 L236.11 301.26 L236.16 300.64 L236.21 300.03 L236.26 299.43 L236.31 298.83 L236.36 298.24 L236.41 297.65 L236.46 297.08 L236.52 296.51 L236.57 295.96 L236.62 295.42 L236.67 294.88 L236.73 294.37 L236.78 293.86 L236.84 293.37 L236.89 292.90 L236.94 292.44 L237.00 292.00 L237.09 291.31 L237.18 290.64 L237.26 289.97 L237.35 289.33 L237.44 288.70 L237.53 288.08 L237.62 287.48 L237.71 286.90 L237.80 286.34 L237.89 285.79 L237.98 285.27 L238.08 284.77 L238.18 284.29 L238.28 283.84 L238.39 283.41 L238.50 283.00 L238.71 282.26 L238.92 281.54 L239.14 280.91 L239.37 280.47 L239.60 280.30 L239.84 280.46 L240.08 280.89 L240.32 281.51 L240.56 282.24 L240.80 283.00 L240.91 283.36 L241.01 283.76 L241.11 284.18 L241.21 284.63 L241.31 285.11 L241.40 285.61 L241.50 286.13 L241.59 286.67 L241.69 287.22 L241.78 287.79 L241.88 288.37 L241.97 288.97 L242.07 289.57 L242.16 290.17 L242.26 290.79 L242.36 291.40 L242.46 292.01 L242.56 292.62 L242.67 293.23 L242.77 293.83 L242.89 294.42 L243.00 295.00 L243.11 295.53 L243.22 296.07 L243.33 296.63 L243.44 297.19 L243.56 297.76 L243.68 298.34 L243.80 298.92 L243.92 299.51 L244.04 300.10 L244.16 300.69 L244.29 301.29 L244.41 301.88 L244.54 302.48 L244.66 303.07 L244.79 303.65 L244.92 304.24 L245.05 304.81 L245.17 305.38 L245.30 305.94 L245.43 306.50 L245.56 307.04 L245.68 307.57 L245.81 308.08 L245.93 308.59 L246.06 309.07 L246.18 309.55 L246.30 310.00 L246.49 310.71 L246.67 311.45 L246.86 312.22 L247.05 312.98 L247.24 313.73 L247.43 314.43 L247.62 315.08 L247.80 315.65 L247.99 316.13 L248.16 316.49 L248.33 316.72 L248.50 316.80 L248.66 316.71 L248.82 316.48 L248.97 316.11 L249.12 315.63 L249.26 315.06 L249.40 314.41 L249.54 313.71 L249.68 312.97 L249.81 312.21 L249.94 311.45 L250.07 310.71 L250.20 310.00 L250.28 309.54 L250.36 309.07 L250.44 308.57 L250.51 308.06 L250.59 307.53 L250.66 306.99 L250.73 306.43 L250.80 305.86 L250.86 305.28 L250.93 304.70 L251.00 304.11 L251.06 303.51 L251.13 302.91 L251.19 302.31 L251.25 301.70 L251.31 301.10 L251.38 300.50 L251.44 299.91 L251.50 299.32 L251.56 298.73 L251.62 298.16 L251.68 297.60 L251.75 297.05 L251.81 296.51 L251.87 295.99 L251.94 295.49 L252.00 295.00 L252.09 294.35 L252.17 293.70 L252.25 293.05 L252.33 292.41 L252.41 291.77 L252.48 291.14 L252.56 290.53 L252.64 289.94 L252.72 289.36 L252.81 288.81 L252.90 288.28 L252.99 287.79 L253.09 287.32 L253.19 286.89 L253.30 286.50 L253.53 285.86 L253.79 285.35 L254.04 284.89 L254.30 284.40 L254.58 284.75 L254.86 285.39 L255.14 286.29 L255.42 287.46 L255.70 288.87 L255.98 290.50 L256.26 292.32 L256.54 294.30 L256.82 296.40 L257.10 298.56 L257.38 300.77 L257.66 303.00 L257.94 305.19 L258.22 307.32 L258.50 309.35 L258.78 311.23 L259.06 312.93 L259.34 314.43 L259.62 315.69 L259.90 316.69 L260.18 317.42 L260.46 317.87 L260.74 318.10 L261.02 318.04 L261.30 317.70 L261.58 317.07 L261.86 316.17 L262.14 315.01 L262.42 313.63 L262.70 312.05 L262.98 310.31 L263.26 308.44 L263.54 306.49 L263.82 304.49 L264.10 302.50 L264.38 300.55 L264.66 298.69 L264.94 296.97 L265.22 295.42 L265.50 294.08 L265.78 292.98 L266.06 292.16 L266.34 291.63 L266.62 291.41 L266.90 291.51 L267.18 291.92 L267.46 292.64 L267.74 293.66 L268.02 294.97 L268.30 296.54 L268.58 298.34 L268.86 300.34 L269.14 302.50 L269.42 304.76 L269.70 307.08 L269.98 309.41 L270.26 311.69 L270.54 313.87 L270.82 315.92 L271.10 317.77 L271.38 319.38 L271.66 320.72 L271.94 321.76 L272.22 322.47 L272.50 322.83 L272.78 322.84 L273.06 322.45 L273.34 321.69 L273.62 320.61 L273.90 319.24 L274.18 317.61 L274.46 315.77 L274.74 313.77 L275.02 311.66 L275.30 309.49 L275.58 307.33 L275.86 305.23 L276.14 303.25 L276.42 301.44 L276.70 299.86 L276.98 298.55 L277.26 297.54 L277.54 296.87 L277.82 296.55 L278.10 296.58 L278.38 296.96 L278.66 297.70 L278.94 298.79 L279.22 300.19 L279.50 301.88 L279.78 303.80 L280.06 305.91 L280.34 308.15 L280.62 310.45 L280.90 312.76 L281.18 315.01 L281.46 317.13 L281.74 319.06 L282.02 320.76 L282.30 322.16 L282.58 323.23 L282.86 323.94 L283.14 324.27 L283.42 324.17 L283.70 323.64 L283.98 322.74 L284.26 321.50 L284.54 319.95 L284.82 318.15 L285.10 316.15 L285.38 314.02 L285.66 311.82 L285.94 309.63 L286.22 307.50 L286.50 305.52 L286.78 303.75 L287.06 302.23 L287.34 301.03 L287.62 300.17 L287.90 299.71 L288.18 299.65 L288.46 299.98 L288.74 300.70 L289.02 301.78 L289.30 303.18 L289.58 304.86 L289.86 306.75 L290.14 308.80 L290.42 310.94 L290.70 313.08 L290.98 315.17 L291.26 317.12 L291.54 318.87 L291.82 320.37 L292.10 321.56 L292.38 322.41 L292.66 322.88 L292.94 323.05 L293.22 322.84 L293.50 322.25 L293.78 321.31 L294.06 320.05 L294.34 318.51 L294.62 316.76 L294.90 314.87 L295.18 312.90 L295.46 310.94 L295.74 309.06 L296.02 307.34 L296.30 305.84 L296.58 304.64 L296.86 303.77 L297.14 303.28 L297.42 303.20 L297.70 303.55 L297.98 304.29 L298.26 305.40 L298.54 306.85 L298.82 308.59 L299.10 310.53 L299.38 312.62 L299.66 314.76 L299.94 316.89 L300.22 318.90 L300.50 320.73 L300.78 322.30 L301.06 323.55 L301.34 324.43 L301.62 324.91 L301.90 324.98 L302.18 324.67 L302.46 323.95 L302.74 322.86 L303.02 321.46 L303.30 319.80 L303.58 317.97 L303.86 316.04 L304.14 314.12 L304.42 312.28 L304.70 310.62 L304.98 309.22 L305.26 308.15 L305.54 307.46 L305.82 307.20 L306.10 307.37 L306.38 307.98 L306.66 309.01 L306.94 310.42 L307.22 312.15 L307.50 314.13 L307.78 316.27 L308.06 318.48 L308.34 320.65 L308.62 322.69 L308.90 324.49 L309.18 325.99 L309.46 327.10 L309.74 327.77 L310.02 327.89 L310.30 327.54 L310.58 326.75 L310.86 325.55 L311.14 324.03 L311.42 322.25 L311.70 320.31 L311.98 318.32 L312.26 316.38 L312.54 314.60 L312.82 313.06 L313.10 311.86 L313.38 311.05 L313.66 310.66 L313.94 310.72 L314.22 311.25 L314.50 312.20 L314.78 313.53 L315.06 315.18 L315.34 317.05 L315.62 319.04 L315.90 321.04 L316.18 322.96 L316.46 324.68 L316.74 326.10 L317.02 327.17 L317.30 327.81 L317.58 328.00 L317.86 327.76 L318.14 327.10 L318.42 326.04 L318.70 324.64 L318.98 322.98 L319.26 321.17 L319.54 319.32 L319.82 317.54 L320.10 315.94 L320.38 314.62 L320.66 313.68 L320.94 313.22 L321.22 313.23 L321.50 313.71 L321.78 314.65 L322.06 315.99 L322.34 317.64 L322.62 319.53 L322.90 321.52 L323.18 323.51 L323.46 325.38 L323.74 327.00 L324.02 328.29 L324.30 329.17 L324.58 329.59 L324.86 329.53 L325.14 329.01 L325.42 328.06 L325.70 326.76 L325.98 325.19 L326.26 323.49 L326.54 321.75 L326.82 320.12 L327.10 318.70 L327.38 317.61 L327.66 316.91 L327.94 316.67 L328.22 316.90 L328.50 317.61 L328.78 318.73 L329.06 320.20 L329.34 321.93 L329.62 323.79 L329.90 325.66 L330.18 327.41 L330.46 328.93 L330.74 330.11 L331.02 330.87 L331.30 331.17 L331.58 331.00 L331.86 330.38 L332.14 329.36 L332.42 328.03 L332.70 326.51 L332.98 324.90 L333.26 323.35 L333.54 321.98 L333.82 320.91 L334.10 320.21 L334.38 319.96 L334.66 320.18 L334.94 320.85 L335.22 321.93 L335.50 323.34 L335.78 324.98 L336.06 326.71 L336.34 328.42 L336.62 329.96 L336.90 331.22 L337.18 332.12 L337.46 332.58 L337.74 332.58 L338.02 332.13 L338.30 331.28 L338.58 330.12 L338.86 328.75 L339.14 327.29 L339.42 325.89 L339.70 324.67 L339.98 323.74 L340.26 323.16 L340.54 323.01 L340.82 323.31 L341.10 324.05 L341.38 325.17 L341.66 326.57 L341.94 328.14 L342.22 329.75 L342.50 331.25 L342.78 332.52 L343.06 333.46 L343.34 333.97 L343.62 334.03 L343.90 333.64 L344.18 332.83 L344.46 331.70 L344.74 330.36 L345.02 328.94 L345.30 327.59 L345.58 326.45 L345.86 325.63 L346.14 325.22 L346.42 325.28 L346.70 325.80 L346.98 326.73 L347.26 328.01 L347.54 329.51 L347.82 331.08 L348.10 332.58 L348.38 333.87 L348.66 334.82 L348.94 335.35 L349.22 335.41 L349.50 335.01 L349.78 334.19 L350.06 333.05 L350.34 331.72 L350.62 330.34 L350.90 329.08 L351.18 328.08 L351.46 327.45 L351.74 327.27 L352.02 327.56 L352.30 328.31 L352.58 329.45 L352.86 330.85 L353.14 332.38 L353.42 333.86 L353.70 335.16 L353.98 336.12 L354.26 336.66 L354.54 336.72 L354.82 336.31 L355.10 335.48 L355.38 334.35 L355.66 333.04 L355.94 331.73 L356.22 330.57 L356.50 329.72 L356.78 329.28 L357.06 329.32 L357.34 329.83 L357.62 330.78 L357.90 332.05 L358.18 333.50 L358.46 334.97 L358.74 336.28 L359.02 337.29 L359.30 337.88 L359.58 337.99 L359.86 337.62 L360.14 336.83 L360.42 335.72 L360.70 334.46 L360.98 333.21 L361.26 332.14 L361.54 331.41 L361.82 331.12 L362.10 331.31 L362.38 331.98 L362.66 333.04 L362.94 334.37 L363.22 335.79 L363.50 337.14 L363.78 338.24 L364.06 338.96 L364.34 339.21 L364.62 338.97 L364.90 338.29 L365.18 337.27 L365.46 336.06 L365.74 334.86 L366.02 333.83 L366.30 333.13 L366.58 332.88 L366.86 333.13 L367.14 333.84 L367.42 334.94 L367.70 336.28 L367.98 337.66 L368.26 338.92 L368.54 339.86 L368.82 340.37 L369.10 340.39 L369.38 339.92 L369.66 339.06 L369.94 337.93 L370.22 336.74 L370.50 335.66 L370.78 334.89 L371.06 334.55 L371.34 334.72 L371.62 335.36 L371.90 336.41 L372.18 337.71 L372.46 339.06 L372.74 340.27 L373.02 341.16 L373.30 341.60 L373.58 341.53 L373.86 340.98 L374.14 340.06 L374.42 338.93 L374.70 337.79 L374.98 336.85 L375.26 336.27 L375.54 336.17 L375.82 336.57 L376.10 337.43 L376.38 338.62 L376.66 339.94 L376.94 341.18 L377.22 342.15 L377.50 342.69 L377.78 342.72 L378.06 342.26 L378.34 341.41 L378.62 340.32 L378.90 339.22 L379.18 338.31 L379.46 337.77 L379.74 337.72 L380.02 338.17 L380.30 339.07 L380.58 340.26 L380.86 341.54 L381.14 342.69 L381.42 343.50 L381.70 343.86 L381.98 343.70 L382.26 343.07 L382.54 342.12 L382.82 341.04 L383.10 340.06 L383.38 339.38 L383.66 339.15 L383.94 339.44 L384.22 340.20 L384.50 341.29 L384.78 342.53 L385.06 343.67 L385.34 344.51 L385.62 344.90 L385.90 344.78 L386.18 344.19 L386.46 343.28 L386.74 342.24 L387.02 341.32 L387.30 340.72 L387.58 340.59 L387.86 340.96 L388.14 341.79 L388.42 342.90 L388.70 344.08 L388.98 345.10 L389.26 345.76 L389.54 345.93 L389.82 345.61 L390.10 344.87 L390.38 343.92 L390.66 342.97 L390.94 342.27 L391.22 341.97 L391.50 342.18 L391.78 342.86 L392.06 343.87 L392.34 345.00 L392.62 346.02 L392.90 346.70 L393.18 346.93 L393.46 346.66 L393.74 345.98 L394.02 345.09 L394.30 344.20 L394.58 343.56 L394.86 343.33 L395.14 343.59 L395.42 344.29 L395.70 345.29 L395.98 346.36 L396.26 347.26 L396.54 347.79 L396.82 347.85 L397.10 347.45 L397.38 346.71 L397.66 345.84 L397.94 345.10 L398.22 344.68 L398.50 344.72 L398.78 345.22 L399.06 346.07 L399.34 347.08 L399.62 348.01 L399.90 348.63 L400.18 348.81 L400.46 348.53 L400.74 347.89 L401.02 347.10 L401.30 346.38 L401.58 345.96 L401.86 345.97 L402.14 346.43 L402.42 347.23 L402.70 348.17 L402.98 349.03 L403.26 349.58 L403.54 349.70 L403.82 349.39 L404.10 348.76 L404.38 348.03 L404.66 347.42 L404.94 347.14 L405.22 347.28 L405.50 347.83 L405.78 348.65 L406.06 349.53 L406.34 350.24 L406.62 350.59 L406.90 350.50 L407.18 350.03 L407.46 349.35 L407.74 348.68 L408.02 348.27 L408.30 348.26 L408.58 348.67 L408.86 349.42 L409.14 350.28 L409.42 351.03 L409.70 351.45 L409.98 351.44 L410.26 351.03 L410.54 350.38 L410.82 349.73 L411.10 349.32 L411.38 349.30 L411.66 349.71 L411.94 350.44 L412.22 351.28 L412.50 351.98 L412.78 352.34 L413.06 352.27 L413.34 351.82 L413.62 351.18 L413.90 350.59 L414.18 350.28 L414.46 350.39 L414.74 350.91 L415.02 351.68 L415.30 352.47 L415.58 353.03 L415.86 353.20 L416.14 352.95 L416.42 352.40 L416.70 351.78 L416.98 351.35 L417.26 351.28 L417.54 351.63 L417.82 352.32 L418.10 353.10 L418.38 353.74 L418.66 354.02 L418.94 353.88 L419.22 353.41 L419.50 352.81 L419.78 352.34 L420.06 352.22 L420.34 352.51 L420.62 353.15 L420.90 353.91 L421.18 354.54 L421.46 354.83 L421.74 354.69 L422.02 354.22 L422.30 353.63 L422.58 353.19 L422.86 353.11 L423.14 353.46 L423.42 354.13 L423.70 354.89 L423.98 355.45 L424.26 355.63 L424.54 355.39 L424.82 354.86 L425.10 354.29 L425.38 353.96 L425.66 354.05 L425.94 354.55 L426.22 355.29 L426.50 355.98 L426.78 356.38 L427.06 356.34 L427.34 355.92 L427.62 355.33 L427.90 354.88 L428.18 354.80 L428.46 355.15 L428.74 355.83 L429.02 356.57 L429.30 357.07 L429.58 357.15 L429.86 356.81 L430.14 356.24 L430.42 355.75 L430.70 355.59 L430.98 355.89 L431.26 356.54 L431.54 357.28 L431.82 357.80 L432.10 357.90 L432.38 357.57 L432.66 357.01 L432.94 356.52 L433.22 356.39 L433.50 356.71 L433.78 357.38 L434.06 358.10 L434.34 358.57 L434.62 358.60 L434.90 358.21 L435.18 357.64 L435.46 357.22 L435.74 357.21 L436.02 357.64 L436.30 358.36 L436.58 359.02 L436.86 359.35" stroke="#000000" stroke-width="1.65"/>
<path d="M103.40 223.80 L103.55 224.35 L103.70 224.90 L103.85 225.45 L104.00 226.00 L104.15 226.55 L104.30 227.11 L104.45 227.66 L104.60 228.21 L104.75 228.76 L104.90 229.31 L105.05 229.86 L105.20 230.41 L105.35 230.95 L105.50 231.50 L105.65 232.04 L105.80 232.59 L105.94 233.14 L106.09 233.69 L106.24 234.24 L106.39 234.79 L106.53 235.33 L106.68 235.88 L106.83 236.42 L106.98 236.95 L107.13 237.48 L107.29 237.99 L107.44 238.50 L107.60 239.00 L107.79 239.60 L107.97 240.20 L108.16 240.80 L108.34 241.39 L108.53 241.96 L108.73 242.52 L108.93 243.06 L109.14 243.57 L109.36 244.05 L109.60 244.50 L109.98 245.16 L110.39 245.80 L110.81 246.37 L111.25 246.79 L111.70 247.00 L112.19 246.94 L112.70 246.67 L113.21 246.26 L113.70 245.80 L114.05 245.40 L114.38 244.93 L114.70 244.40 L115.02 243.84 L115.34 243.27 L115.66 242.72 L116.00 242.20 L116.34 241.71 L116.69 241.20 L117.04 240.69 L117.39 240.21 L117.76 239.75 L118.12 239.34 L118.50 239.00 L119.02 238.60 L119.56 238.26 L120.10 238.04 L120.60 238.00 L121.07 238.19 L121.51 238.56 L121.92 239.05 L122.30 239.60 L122.54 240.02 L122.76 240.49 L122.95 241.01 L123.13 241.56 L123.30 242.15 L123.47 242.75 L123.63 243.37 L123.80 244.00 L123.93 244.51 L124.06 245.03 L124.19 245.57 L124.31 246.13 L124.43 246.69 L124.54 247.27 L124.66 247.86 L124.77 248.46 L124.88 249.06 L124.98 249.67 L125.09 250.28 L125.20 250.89 L125.30 251.50 L125.39 252.02 L125.47 252.54 L125.55 253.07 L125.64 253.61 L125.71 254.15 L125.79 254.69 L125.87 255.23 L125.95 255.78 L126.02 256.33 L126.09 256.89 L126.17 257.44 L126.24 258.00 L126.31 258.56 L126.38 259.12 L126.46 259.68 L126.53 260.24 L126.60 260.80 L126.67 261.36 L126.74 261.92 L126.81 262.48 L126.88 263.05 L126.95 263.62 L127.02 264.19 L127.09 264.76 L127.16 265.33 L127.23 265.91 L127.29 266.48 L127.36 267.06 L127.42 267.63 L127.49 268.20 L127.55 268.77 L127.62 269.33 L127.68 269.89 L127.74 270.45 L127.80 271.00 L127.86 271.57 L127.92 272.11 L127.98 272.63 L128.04 273.14 L128.09 273.64 L128.14 274.13 L128.20 274.63 L128.25 275.13 L128.30 275.65 L128.36 276.18 L128.41 276.73 L128.46 277.31 L128.52 277.92 L128.58 278.57 L128.64 279.26 L128.70 280.00 L128.73 280.36 L128.76 280.74 L128.79 281.13 L128.82 281.52 L128.85 281.93 L128.89 282.35 L128.92 282.78 L128.95 283.22 L128.99 283.67 L129.02 284.13 L129.05 284.60 L129.09 285.08 L129.12 285.57 L129.16 286.06 L129.20 286.57 L129.23 287.08 L129.27 287.60 L129.30 288.13 L129.34 288.66 L129.38 289.20 L129.42 289.75 L129.45 290.30 L129.49 290.86 L129.53 291.43 L129.57 292.00 L129.61 292.58 L129.65 293.16 L129.68 293.75 L129.72 294.34 L129.76 294.93 L129.80 295.53 L129.84 296.13 L129.88 296.74 L129.92 297.35 L129.96 297.96 L130.00 298.57 L130.04 299.19 L130.08 299.81 L130.12 300.43 L130.16 301.05 L130.19 301.67 L130.23 302.29 L130.27 302.92 L130.31 303.54 L130.35 304.17 L130.39 304.79 L130.43 305.41 L130.47 306.03 L130.51 306.65 L130.54 307.27 L130.58 307.89 L130.62 308.51 L130.66 309.12 L130.69 309.73 L130.73 310.34 L130.77 310.95 L130.80 311.55 L130.84 312.15 L130.87 312.74 L130.91 313.33 L130.94 313.92 L130.98 314.50 L131.01 315.08 L131.05 315.65 L131.08 316.22 L131.11 316.78 L131.15 317.33 L131.18 317.88 L131.21 318.42 L131.24 318.95 L131.27 319.48 L131.30 320.00 L131.33 320.60 L131.37 321.19 L131.40 321.79 L131.43 322.38 L131.47 322.98 L131.50 323.57 L131.53 324.17 L131.56 324.76 L131.59 325.36 L131.62 325.95 L131.65 326.54 L131.68 327.13 L131.71 327.73 L131.74 328.32 L131.77 328.91 L131.80 329.49 L131.83 330.08 L131.86 330.66 L131.89 331.25 L131.91 331.83 L131.94 332.41 L131.97 332.99 L132.00 333.57 L132.02 334.14 L132.05 334.71 L132.08 335.28 L132.10 335.85 L132.13 336.42 L132.16 336.98 L132.18 337.54 L132.21 338.10 L132.23 338.66 L132.26 339.21 L132.29 339.76 L132.31 340.31 L132.34 340.85 L132.36 341.39 L132.39 341.93 L132.41 342.46 L132.44 342.99 L132.46 343.52 L132.49 344.04 L132.52 344.56 L132.54 345.08 L132.57 345.59 L132.59 346.10 L132.62 346.60 L132.64 347.10 L132.67 347.60 L132.70 348.09 L132.72 348.57 L132.75 349.05 L132.77 349.53 L132.80 350.00 L132.84 350.63 L132.87 351.26 L132.91 351.88 L132.94 352.49 L132.98 353.10 L133.01 353.70 L133.05 354.29 L133.08 354.88 L133.12 355.46 L133.15 356.03 L133.18 356.60 L133.22 357.16 L133.25 357.72 L133.29 358.27 L133.32 358.82 L133.36 359.36 L133.39 359.90 L133.42 360.43 L133.46 360.95 L133.49 361.48 L133.53 362.00 L133.56 362.51 L133.59 363.02 L133.63 363.52 L133.66 364.03 L133.70 364.52 L133.73 365.02 L133.77 365.51 L133.80 366.00 L133.84 366.62 L133.89 367.23 L133.93 367.84 L133.98 368.44 L134.03 369.04 L134.07 369.63 L134.12 370.21 L134.16 370.78 L134.21 371.35 L134.25 371.91 L134.30 372.46 L134.34 372.99 L134.39 373.52 L134.43 374.04 L134.47 374.55 L134.52 375.04 L134.56 375.53 L134.60 376.00 L134.66 376.65 L134.72 377.27 L134.77 377.86 L134.83 378.43 L134.88 378.98 L134.94 379.53 L134.99 380.08 L135.04 380.63 L135.10 381.20 L135.16 380.63 L135.21 380.08 L135.26 379.53 L135.32 378.98 L135.37 378.43 L135.43 377.86 L135.48 377.27 L135.54 376.65 L135.60 376.00 L135.64 375.53 L135.68 375.04 L135.73 374.55 L135.77 374.04 L135.81 373.52 L135.86 372.99 L135.90 372.46 L135.95 371.91 L135.99 371.35 L136.04 370.78 L136.08 370.21 L136.13 369.63 L136.17 369.04 L136.22 368.44 L136.27 367.84 L136.31 367.23 L136.36 366.62 L136.40 366.00 L136.43 365.51 L136.47 365.02 L136.50 364.52 L136.53 364.03 L136.57 363.52 L136.60 363.02 L136.63 362.51 L136.66 361.99 L136.69 361.48 L136.73 360.95 L136.76 360.43 L136.79 359.90 L136.82 359.36 L136.85 358.82 L136.88 358.27 L136.92 357.72 L136.95 357.16 L136.98 356.60 L137.02 356.03 L137.05 355.46 L137.09 354.88 L137.12 354.29 L137.16 353.70 L137.20 353.10 L137.24 352.49 L137.28 351.88 L137.32 351.26 L137.36 350.63 L137.40 350.00 L137.43 349.53 L137.47 349.05 L137.50 348.57 L137.53 348.09 L137.57 347.60 L137.61 347.10 L137.64 346.60 L137.68 346.10 L137.72 345.59 L137.76 345.08 L137.80 344.56 L137.84 344.04 L137.88 343.52 L137.92 342.99 L137.96 342.46 L138.01 341.93 L138.05 341.39 L138.09 340.85 L138.14 340.31 L138.18 339.76 L138.22 339.21 L138.27 338.66 L138.31 338.10 L138.36 337.55 L138.40 336.98 L138.45 336.42 L138.49 335.86 L138.54 335.29 L138.58 334.72 L138.63 334.14 L138.67 333.57 L138.72 332.99 L138.76 332.41 L138.81 331.83 L138.85 331.25 L138.89 330.67 L138.94 330.08 L138.98 329.50 L139.02 328.91 L139.07 328.32 L139.11 327.73 L139.15 327.14 L139.19 326.55 L139.23 325.95 L139.27 325.36 L139.31 324.77 L139.35 324.17 L139.39 323.58 L139.42 322.98 L139.46 322.38 L139.50 321.79 L139.53 321.19 L139.57 320.60 L139.60 320.00 L139.63 319.48 L139.66 318.96 L139.68 318.44 L139.71 317.91 L139.73 317.37 L139.76 316.84 L139.78 316.30 L139.81 315.76 L139.83 315.21 L139.85 314.66 L139.87 314.11 L139.89 313.56 L139.92 313.00 L139.94 312.44 L139.96 311.88 L139.98 311.32 L139.99 310.75 L140.01 310.19 L140.03 309.62 L140.05 309.05 L140.07 308.47 L140.08 307.90 L140.10 307.32 L140.12 306.75 L140.14 306.17 L140.15 305.59 L140.17 305.01 L140.19 304.43 L140.20 303.85 L140.22 303.27 L140.23 302.68 L140.25 302.10 L140.27 301.52 L140.28 300.94 L140.30 300.35 L140.31 299.77 L140.33 299.19 L140.34 298.61 L140.36 298.03 L140.38 297.45 L140.39 296.87 L140.41 296.29 L140.43 295.71 L140.44 295.14 L140.46 294.56 L140.48 293.99 L140.50 293.42 L140.51 292.85 L140.53 292.28 L140.55 291.72 L140.57 291.15 L140.59 290.59 L140.61 290.03 L140.63 289.47 L140.65 288.92 L140.67 288.37 L140.70 287.82 L140.72 287.27 L140.74 286.73 L140.76 286.19 L140.79 285.65 L140.81 285.12 L140.84 284.59 L140.86 284.06 L140.89 283.54 L140.92 283.02 L140.95 282.51 L140.98 282.00 L141.01 281.49 L141.04 280.99 L141.07 280.49 L141.10 280.00 L141.14 279.38 L141.18 278.76 L141.23 278.15 L141.27 277.54 L141.31 276.93 L141.36 276.33 L141.40 275.73 L141.45 275.13 L141.49 274.54 L141.54 273.95 L141.59 273.36 L141.63 272.77 L141.68 272.19 L141.73 271.61 L141.78 271.03 L141.83 270.46 L141.88 269.89 L141.93 269.32 L141.98 268.76 L142.03 268.19 L142.08 267.64 L142.14 267.08 L142.19 266.52 L142.24 265.97 L142.30 265.43 L142.35 264.88 L142.41 264.34 L142.46 263.80 L142.52 263.26 L142.58 262.72 L142.63 262.19 L142.69 261.66 L142.75 261.13 L142.81 260.61 L142.87 260.09 L142.93 259.57 L142.99 259.05 L143.05 258.54 L143.11 258.02 L143.18 257.51 L143.24 257.01 L143.30 256.50 L143.37 256.00 L143.43 255.50 L143.50 255.00 L143.58 254.39 L143.66 253.78 L143.74 253.16 L143.82 252.55 L143.89 251.93 L143.97 251.32 L144.05 250.70 L144.12 250.09 L144.20 249.48 L144.28 248.87 L144.36 248.27 L144.44 247.67 L144.52 247.08 L144.60 246.49 L144.69 245.91 L144.77 245.34 L144.86 244.77 L144.95 244.22 L145.05 243.67 L145.14 243.14 L145.24 242.61 L145.34 242.10 L145.45 241.60 L145.56 241.11 L145.67 240.64 L145.79 240.18 L145.91 239.73 L146.04 239.31 L146.17 238.89 L146.30 238.50 L146.55 237.80 L146.82 237.09 L147.10 236.39 L147.40 235.72 L147.70 235.09 L148.00 234.54 L148.31 234.07 L148.61 233.71 L148.91 233.48 L149.20 233.40 L149.49 233.49 L149.78 233.72 L150.07 234.09 L150.36 234.57 L150.65 235.14 L150.93 235.77 L151.21 236.44 L151.48 237.13 L151.75 237.83 L152.00 238.50 L152.15 238.92 L152.29 239.35 L152.43 239.81 L152.57 240.29 L152.70 240.79 L152.82 241.31 L152.94 241.84 L153.06 242.38 L153.18 242.94 L153.29 243.50 L153.41 244.07 L153.52 244.65 L153.63 245.23 L153.74 245.82 L153.85 246.41 L153.95 247.00 L154.06 247.58 L154.17 248.17 L154.29 248.74 L154.40 249.31 L154.51 249.87 L154.63 250.43 L154.75 250.96 L154.87 251.49 L155.00 252.00 L155.15 252.60 L155.29 253.24 L155.44 253.90 L155.58 254.58 L155.72 255.28 L155.86 255.98 L156.00 256.68 L156.14 257.37 L156.29 258.04 L156.44 258.69 L156.59 259.31 L156.74 259.90 L156.90 260.43 L157.07 260.92 L157.24 261.34 L157.42 261.70 L157.60 261.98 L157.80 262.19 L158.00 262.30 L158.43 262.24 L158.88 261.90 L159.34 261.41 L159.82 260.90 L160.30 260.50 L160.88 260.10 L161.48 259.68 L162.07 259.40 L162.60 259.40 L162.87 259.57 L163.12 259.86 L163.35 260.24 L163.57 260.71 L163.77 261.25 L163.97 261.83 L164.16 262.46 L164.35 263.10 L164.53 263.75 L164.71 264.39 L164.90 265.00 L165.05 265.47 L165.19 265.96 L165.34 266.45 L165.47 266.95 L165.61 267.46 L165.75 267.97 L165.88 268.50 L166.01 269.04 L166.13 269.59 L166.26 270.14 L166.38 270.71 L166.50 271.29 L166.62 271.88 L166.74 272.48 L166.86 273.09 L166.97 273.72 L167.09 274.35 L167.20 275.00 L167.28 275.47 L167.36 275.95 L167.43 276.44 L167.50 276.94 L167.58 277.46 L167.65 277.99 L167.72 278.53 L167.79 279.07 L167.86 279.63 L167.93 280.19 L168.00 280.76 L168.06 281.34 L168.13 281.92 L168.19 282.51 L168.25 283.10 L168.32 283.69 L168.38 284.29 L168.44 284.89 L168.50 285.48 L168.56 286.08 L168.62 286.68 L168.68 287.27 L168.74 287.87 L168.80 288.46 L168.86 289.04 L168.92 289.62 L168.98 290.20 L169.04 290.77 L169.09 291.33 L169.15 291.89 L169.21 292.43 L169.27 292.97 L169.33 293.49 L169.38 294.01 L169.44 294.51 L169.50 295.00 L169.58 295.66 L169.65 296.35 L169.73 297.07 L169.80 297.81 L169.87 298.56 L169.94 299.32 L170.01 300.08 L170.08 300.83 L170.15 301.56 L170.22 302.28 L170.29 302.97 L170.36 303.62 L170.43 304.24 L170.50 304.81 L170.57 305.32 L170.64 305.78 L170.71 306.16 L170.78 306.47 L170.85 306.71 L170.93 306.85 L171.00 306.90 L171.08 306.85 L171.15 306.71 L171.23 306.48 L171.31 306.17 L171.39 305.79 L171.47 305.35 L171.55 304.84 L171.63 304.28 L171.71 303.68 L171.79 303.04 L171.88 302.36 L171.96 301.67 L172.04 300.95 L172.12 300.22 L172.20 299.49 L172.28 298.76 L172.36 298.04 L172.44 297.33 L172.52 296.65 L172.60 296.00 L172.66 295.53 L172.71 295.05 L172.77 294.55 L172.82 294.04 L172.87 293.52 L172.92 292.99 L172.98 292.44 L173.03 291.89 L173.08 291.33 L173.13 290.76 L173.18 290.19 L173.22 289.61 L173.27 289.02 L173.32 288.43 L173.37 287.84 L173.42 287.24 L173.47 286.64 L173.52 286.04 L173.57 285.44 L173.62 284.84 L173.67 284.24 L173.72 283.64 L173.78 283.05 L173.83 282.45 L173.88 281.87 L173.94 281.29 L173.99 280.71 L174.05 280.14 L174.11 279.58 L174.17 279.03 L174.23 278.48 L174.29 277.95 L174.35 277.43 L174.42 276.91 L174.49 276.41 L174.56 275.93 L174.63 275.46 L174.70 275.00 L174.81 274.35 L174.93 273.74 L175.05 273.15 L175.17 272.58 L175.30 272.03 L175.43 271.50 L175.57 270.97 L175.70 270.46 L175.84 269.95 L175.97 269.44 L176.11 268.93 L176.24 268.42 L176.38 267.89 L176.51 267.35 L176.64 266.80 L176.76 266.22 L176.88 265.63 L177.00 265.00 L177.08 264.51 L177.16 264.00 L177.24 263.48 L177.32 262.93 L177.39 262.37 L177.46 261.80 L177.52 261.22 L177.59 260.62 L177.65 260.02 L177.71 259.41 L177.78 258.79 L177.84 258.17 L177.90 257.54 L177.96 256.91 L178.02 256.29 L178.08 255.66 L178.14 255.04 L178.20 254.42 L178.26 253.80 L178.33 253.19 L178.39 252.59 L178.46 252.01 L178.53 251.43 L178.60 250.87 L178.68 250.32 L178.76 249.78 L178.84 249.27 L178.92 248.77 L179.01 248.29 L179.10 247.84 L179.20 247.41 L179.30 247.00 L179.49 246.27 L179.70 245.53 L179.91 244.79 L180.13 244.07 L180.35 243.41 L180.58 242.82 L180.81 242.32 L181.04 241.94 L181.27 241.69 L181.50 241.60 L181.73 241.69 L181.96 241.93 L182.20 242.31 L182.44 242.81 L182.67 243.40 L182.91 244.07 L183.14 244.78 L183.37 245.52 L183.59 246.27 L183.80 247.00 L183.91 247.39 L184.01 247.80 L184.12 248.24 L184.22 248.69 L184.32 249.15 L184.41 249.64 L184.51 250.14 L184.60 250.65 L184.69 251.18 L184.78 251.71 L184.86 252.26 L184.95 252.82 L185.04 253.39 L185.12 253.97 L185.20 254.55 L185.28 255.14 L185.36 255.73 L185.45 256.33 L185.53 256.93 L185.61 257.53 L185.69 258.13 L185.77 258.73 L185.85 259.33 L185.93 259.92 L186.01 260.52 L186.09 261.10 L186.17 261.69 L186.26 262.26 L186.34 262.83 L186.43 263.39 L186.52 263.94 L186.61 264.47 L186.70 265.00 L186.80 265.58 L186.90 266.18 L187.01 266.78 L187.11 267.40 L187.21 268.01 L187.31 268.64 L187.41 269.26 L187.51 269.89 L187.61 270.51 L187.71 271.14 L187.82 271.76 L187.92 272.37 L188.02 272.98 L188.13 273.58 L188.23 274.17 L188.34 274.75 L188.44 275.32 L188.55 275.87 L188.66 276.40 L188.77 276.92 L188.89 277.42 L189.00 277.89 L189.12 278.34 L189.23 278.77 L189.35 279.18 L189.48 279.55 L189.60 279.90 L189.86 280.59 L190.11 281.25 L190.37 281.83 L190.65 282.30 L190.95 282.63 L191.30 282.80 L191.72 282.68 L192.18 282.28 L192.67 281.73 L193.19 281.16 L193.70 280.70 L194.20 280.50 L194.77 280.68 L195.35 281.15 L195.92 281.70 L196.48 282.12 L197.00 282.20 L197.28 282.05 L197.55 281.80 L197.81 281.46 L198.06 281.03 L198.30 280.53 L198.53 279.97 L198.76 279.37 L198.97 278.72 L199.19 278.05 L199.39 277.36 L199.60 276.66 L199.80 275.97 L200.00 275.30 L200.12 274.87 L200.24 274.42 L200.36 273.94 L200.46 273.45 L200.57 272.94 L200.67 272.41 L200.77 271.87 L200.86 271.32 L200.95 270.75 L201.04 270.17 L201.13 269.59 L201.21 268.99 L201.30 268.39 L201.38 267.79 L201.46 267.19 L201.55 266.58 L201.63 265.98 L201.71 265.38 L201.80 264.78 L201.88 264.19 L201.97 263.60 L202.06 263.03 L202.15 262.46 L202.24 261.91 L202.34 261.37 L202.44 260.84 L202.54 260.34 L202.65 259.85 L202.76 259.38 L202.88 258.93 L203.00 258.50 L203.20 257.84 L203.41 257.15 L203.62 256.45 L203.85 255.75 L204.07 255.06 L204.30 254.41 L204.54 253.79 L204.77 253.24 L205.00 252.75 L205.23 252.35 L205.46 252.05 L205.68 251.86 L205.90 251.80 L206.11 251.87 L206.32 252.06 L206.53 252.36 L206.74 252.76 L206.95 253.24 L207.15 253.78 L207.36 254.39 L207.56 255.04 L207.75 255.72 L207.95 256.42 L208.14 257.13 L208.32 257.82 L208.50 258.50 L208.61 258.92 L208.71 259.36 L208.82 259.81 L208.92 260.29 L209.02 260.78 L209.12 261.28 L209.21 261.81 L209.31 262.34 L209.40 262.89 L209.49 263.45 L209.59 264.01 L209.67 264.59 L209.76 265.18 L209.85 265.77 L209.93 266.37 L210.02 266.98 L210.10 267.58 L210.18 268.20 L210.26 268.81 L210.35 269.42 L210.42 270.04 L210.50 270.65 L210.58 271.26 L210.66 271.87 L210.74 272.47 L210.81 273.06 L210.89 273.65 L210.97 274.23 L211.04 274.81 L211.12 275.37 L211.20 275.92 L211.27 276.46 L211.35 276.99 L211.42 277.50 L211.50 278.00 L211.59 278.61 L211.69 279.21 L211.78 279.80 L211.87 280.39 L211.96 280.97 L212.05 281.55 L212.14 282.12 L212.22 282.68 L212.31 283.24 L212.39 283.79 L212.48 284.33 L212.56 284.87 L212.65 285.41 L212.73 285.94 L212.81 286.46 L212.90 286.98 L212.98 287.50 L213.06 288.01 L213.15 288.51 L213.23 289.01 L213.32 289.51 L213.40 290.00 L213.51 290.66 L213.62 291.37 L213.72 292.11 L213.83 292.87 L213.94 293.63 L214.05 294.38 L214.15 295.10 L214.26 295.78 L214.37 296.39 L214.47 296.93 L214.58 297.37 L214.69 297.71 L214.79 297.93 L214.90 298.00 L215.01 297.93 L215.11 297.72 L215.22 297.38 L215.33 296.95 L215.43 296.42 L215.54 295.81 L215.65 295.14 L215.75 294.43 L215.86 293.68 L215.97 292.92 L216.07 292.15 L216.18 291.40 L216.29 290.68 L216.40 290.00 L216.48 289.51 L216.56 289.01 L216.64 288.50 L216.72 287.98 L216.80 287.45 L216.88 286.91 L216.95 286.36 L217.03 285.81 L217.11 285.25 L217.19 284.68 L217.27 284.11 L217.35 283.53 L217.43 282.95 L217.51 282.37 L217.59 281.78 L217.67 281.20 L217.76 280.61 L217.84 280.03 L217.93 279.44 L218.02 278.86 L218.11 278.28 L218.21 277.70 L218.30 277.13 L218.40 276.56 L218.50 276.00 L218.60 275.45 L218.70 274.90 L218.80 274.33 L218.90 273.76 L219.00 273.18 L219.10 272.60 L219.20 272.01 L219.31 271.42 L219.42 270.83 L219.52 270.24 L219.63 269.65 L219.74 269.07 L219.85 268.49 L219.97 267.91 L220.08 267.35 L220.20 266.79 L220.32 266.24 L220.44 265.71 L220.56 265.18 L220.69 264.67 L220.82 264.18 L220.95 263.71 L221.08 263.25 L221.22 262.81 L221.36 262.39 L221.50 262.00 L221.75 261.32 L222.02 260.63 L222.29 259.95 L222.58 259.31 L222.86 258.72 L223.15 258.23 L223.43 257.84 L223.72 257.59 L224.00 257.50 L224.28 257.59 L224.57 257.83 L224.86 258.20 L225.15 258.69 L225.43 259.27 L225.71 259.91 L225.99 260.59 L226.25 261.30 L226.50 262.00 L226.62 262.37 L226.74 262.76 L226.86 263.18 L226.97 263.62 L227.08 264.08 L227.18 264.56 L227.29 265.06 L227.39 265.58 L227.48 266.11 L227.58 266.66 L227.67 267.21 L227.76 267.78 L227.85 268.36 L227.94 268.95 L228.03 269.55 L228.11 270.15 L228.19 270.76 L228.28 271.36 L228.36 271.98 L228.44 272.59 L228.52 273.20 L228.60 273.81 L228.68 274.42 L228.76 275.02 L228.84 275.61 L228.92 276.20 L229.00 276.78 L229.08 277.35 L229.16 277.91 L229.24 278.45 L229.33 278.99 L229.41 279.50 L229.50 280.00 L229.61 280.60 L229.71 281.20 L229.82 281.79 L229.93 282.38 L230.04 282.97 L230.14 283.55 L230.25 284.13 L230.35 284.70 L230.46 285.27 L230.56 285.83 L230.67 286.39 L230.77 286.94 L230.88 287.48 L230.98 288.02 L231.08 288.55 L231.19 289.07 L231.29 289.58 L231.39 290.08 L231.49 290.58 L231.60 291.06 L231.70 291.54 L231.80 292.00 L231.95 292.71 L232.10 293.46 L232.24 294.24 L232.39 295.02 L232.54 295.77 L232.68 296.48 L232.83 297.10 L232.97 297.64 L233.12 298.05 L233.26 298.31 L233.40 298.40 L233.53 298.32 L233.65 298.11 L233.78 297.78 L233.90 297.34 L234.03 296.80 L234.15 296.19 L234.27 295.52 L234.40 294.80 L234.52 294.05 L234.64 293.27 L234.76 292.50 L234.88 291.74 L235.00 291.00 L235.07 290.58 L235.14 290.14 L235.21 289.68 L235.28 289.20 L235.35 288.70 L235.41 288.19 L235.48 287.66 L235.55 287.12 L235.62 286.57 L235.69 286.01 L235.76 285.43 L235.83 284.85 L235.90 284.26 L235.97 283.66 L236.04 283.05 L236.11 282.44 L236.17 281.83 L236.24 281.21 L236.31 280.59 L236.38 279.97 L236.45 279.35 L236.51 278.74 L236.58 278.12 L236.64 277.51 L236.71 276.91 L236.77 276.31 L236.84 275.72 L236.90 275.13 L236.96 274.56 L237.03 274.00 L237.09 273.44 L237.15 272.91 L237.21 272.38 L237.27 271.87 L237.33 271.38 L237.39 270.90 L237.44 270.44 L237.50 270.00 L237.59 269.31 L237.67 268.64 L237.75 267.97 L237.82 267.33 L237.89 266.69 L237.97 266.08 L238.04 265.48 L238.11 264.90 L238.18 264.35 L238.26 263.81 L238.33 263.30 L238.42 262.81 L238.50 262.34 L238.60 261.91 L238.70 261.50 L238.93 260.64 L239.18 259.84 L239.44 259.24 L239.70 259.00 L239.97 259.23 L240.24 259.83 L240.52 260.64 L240.80 261.50 L240.94 261.91 L241.08 262.36 L241.22 262.84 L241.36 263.34 L241.51 263.87 L241.65 264.42 L241.80 265.00 L241.95 265.59 L242.10 266.20 L242.25 266.82 L242.40 267.44 L242.55 268.08 L242.70 268.72 L242.85 269.36 L243.00 270.00 L243.11 270.48 L243.22 270.98 L243.33 271.49 L243.44 272.01 L243.55 272.55 L243.65 273.10 L243.76 273.66 L243.87 274.23 L243.98 274.80 L244.09 275.38 L244.20 275.96 L244.31 276.54 L244.42 277.12 L244.53 277.70 L244.64 278.28 L244.75 278.85 L244.87 279.42 L244.99 279.98 L245.11 280.53 L245.23 281.07 L245.35 281.60 L245.47 282.11 L245.60 282.61 L245.73 283.09 L245.86 283.56 L246.00 284.00 L246.20 284.63 L246.41 285.30 L246.63 285.99 L246.86 286.68 L247.08 287.35 L247.32 288.01 L247.55 288.62 L247.78 289.17 L248.00 289.66 L248.22 290.06 L248.42 290.36 L248.62 290.54 L248.80 290.60 L248.98 290.51 L249.15 290.27 L249.31 289.92 L249.46 289.45 L249.61 288.89 L249.75 288.27 L249.88 287.58 L250.01 286.87 L250.14 286.13 L250.26 285.40 L250.38 284.68 L250.50 284.00 L250.58 283.53 L250.66 283.04 L250.73 282.53 L250.80 282.00 L250.86 281.45 L250.93 280.89 L250.99 280.31 L251.05 279.73 L251.10 279.13 L251.16 278.53 L251.21 277.92 L251.26 277.30 L251.32 276.69 L251.37 276.08 L251.42 275.47 L251.47 274.86 L251.52 274.27 L251.58 273.68 L251.63 273.10 L251.69 272.54 L251.75 271.99 L251.81 271.46 L251.87 270.95 L251.93 270.47 L252.00 270.00 L252.10 269.35 L252.19 268.72 L252.29 268.09 L252.39 267.47 L252.48 266.87 L252.59 266.29 L252.69 265.74 L252.80 265.22 L252.91 264.73 L253.03 264.28 L253.16 263.87 L253.30 263.50 L253.62 262.90 L253.96 262.45 L254.30 262.00 L254.58 262.22 L254.86 262.68 L255.14 263.37 L255.42 264.28 L255.70 265.40 L255.98 266.71 L256.26 268.19 L256.54 269.81 L256.82 271.55 L257.10 273.40 L257.38 275.30 L257.66 277.22 L257.94 279.13 L258.22 280.99 L258.50 282.77 L258.78 284.43 L259.06 285.94 L259.34 287.28 L259.62 288.43 L259.90 289.35 L260.18 290.04 L260.46 290.48 L260.74 290.66 L261.02 290.59 L261.30 290.26 L261.58 289.68 L261.86 288.86 L262.14 287.81 L262.42 286.56 L262.70 285.14 L262.98 283.57 L263.26 281.89 L263.54 280.13 L263.82 278.34 L264.10 276.55 L264.38 274.80 L264.66 273.12 L264.94 271.57 L265.22 270.17 L265.50 268.96 L265.78 267.96 L266.06 267.20 L266.34 266.70 L266.62 266.48 L266.90 266.54 L267.18 266.89 L267.46 267.51 L267.74 268.41 L268.02 269.56 L268.30 270.95 L268.58 272.53 L268.86 274.29 L269.14 276.18 L269.42 278.16 L269.70 280.18 L269.98 282.21 L270.26 284.20 L270.54 286.10 L270.82 287.87 L271.10 289.47 L271.38 290.87 L271.66 292.02 L271.94 292.90 L272.22 293.49 L272.50 293.79 L272.78 293.77 L273.06 293.39 L273.34 292.68 L273.62 291.69 L273.90 290.45 L274.18 289.00 L274.46 287.38 L274.74 285.62 L275.02 283.77 L275.30 281.89 L275.58 280.02 L275.86 278.21 L276.14 276.52 L276.42 274.97 L276.70 273.63 L276.98 272.52 L277.26 271.67 L277.54 271.11 L277.82 270.84 L278.10 270.83 L278.38 271.11 L278.66 271.68 L278.94 272.55 L279.22 273.67 L279.50 275.03 L279.78 276.59 L280.06 278.30 L280.34 280.11 L280.62 281.98 L280.90 283.85 L281.18 285.66 L281.46 287.37 L281.74 288.92 L282.02 290.27 L282.30 291.38 L282.58 292.21 L282.86 292.74 L283.14 292.91 L283.42 292.76 L283.70 292.29 L283.98 291.51 L284.26 290.45 L284.54 289.14 L284.82 287.62 L285.10 285.93 L285.38 284.14 L285.66 282.28 L285.94 280.43 L286.22 278.64 L286.50 276.97 L286.78 275.46 L287.06 274.17 L287.34 273.13 L287.62 272.38 L287.90 271.96 L288.18 271.89 L288.46 272.14 L288.74 272.71 L289.02 273.58 L289.30 274.71 L289.58 276.07 L289.86 277.60 L290.14 279.26 L290.42 280.98 L290.70 282.72 L290.98 284.40 L291.26 285.97 L291.54 287.37 L291.82 288.56 L292.10 289.50 L292.38 290.16 L292.66 290.50 L292.94 290.64 L293.22 290.47 L293.50 289.99 L293.78 289.21 L294.06 288.17 L294.34 286.90 L294.62 285.46 L294.90 283.89 L295.18 282.25 L295.46 280.62 L295.74 279.05 L296.02 277.61 L296.30 276.35 L296.58 275.33 L296.86 274.58 L297.14 274.15 L297.42 274.06 L297.70 274.32 L297.98 274.91 L298.26 275.82 L298.54 277.01 L298.82 278.43 L299.10 280.05 L299.38 281.78 L299.66 283.58 L299.94 285.36 L300.22 287.05 L300.50 288.59 L300.78 289.91 L301.06 290.97 L301.34 291.72 L301.62 292.12 L301.90 292.16 L302.18 291.83 L302.46 291.16 L302.74 290.18 L303.02 288.93 L303.30 287.47 L303.58 285.87 L303.86 284.20 L304.14 282.53 L304.42 280.94 L304.70 279.51 L304.98 278.30 L305.26 277.37 L305.54 276.76 L305.82 276.51 L306.10 276.63 L306.38 277.11 L306.66 277.95 L306.94 279.09 L307.22 280.50 L307.50 282.10 L307.78 283.83 L308.06 285.60 L308.34 287.33 L308.62 288.95 L308.90 290.37 L309.18 291.53 L309.46 292.38 L309.74 292.87 L310.02 292.99 L310.30 292.74 L310.58 292.12 L310.86 291.18 L311.14 289.95 L311.42 288.51 L311.70 286.93 L311.98 285.30 L312.26 283.70 L312.54 282.22 L312.82 280.93 L313.10 279.92 L313.38 279.23 L313.66 278.90 L313.94 278.96 L314.22 279.40 L314.50 280.17 L314.78 281.27 L315.06 282.65 L315.34 284.23 L315.62 285.94 L315.90 287.67 L316.18 289.34 L316.46 290.85 L316.74 292.13 L317.02 293.09 L317.30 293.69 L317.58 293.88 L317.86 293.66 L318.14 293.03 L318.42 292.04 L318.70 290.74 L318.98 289.21 L319.26 287.54 L319.54 285.84 L319.82 284.19 L320.10 282.71 L320.38 281.48 L320.66 280.59 L320.94 280.12 L321.22 280.07 L321.50 280.46 L321.78 281.25 L322.06 282.40 L322.34 283.85 L322.62 285.51 L322.90 287.27 L323.18 289.03 L323.46 290.68 L323.74 292.11 L324.02 293.24 L324.30 294.01 L324.58 294.35 L324.86 294.25 L325.14 293.73 L325.42 292.82 L325.70 291.58 L325.98 290.10 L326.26 288.48 L326.54 286.83 L326.82 285.27 L327.10 283.91 L327.38 282.84 L327.66 282.13 L327.94 281.85 L328.22 282.01 L328.50 282.60 L328.78 283.59 L329.06 284.91 L329.34 286.47 L329.62 288.15 L329.90 289.86 L330.18 291.45 L330.46 292.83 L330.74 293.89 L331.02 294.57 L331.30 294.81 L331.58 294.61 L331.86 293.97 L332.14 292.96 L332.42 291.66 L332.70 290.15 L332.98 288.57 L333.26 287.04 L333.54 285.67 L333.82 284.58 L334.10 283.85 L334.38 283.55 L334.66 283.69 L334.94 284.28 L335.22 285.26 L335.50 286.56 L335.78 288.09 L336.06 289.72 L336.34 291.32 L336.62 292.77 L336.90 293.96 L337.18 294.79 L337.46 295.19 L337.74 295.15 L338.02 294.66 L338.30 293.78 L338.58 292.58 L338.86 291.17 L339.14 289.67 L339.42 288.21 L339.70 286.93 L339.98 285.94 L340.26 285.31 L340.54 285.11 L340.82 285.36 L341.10 286.05 L341.38 287.12 L341.66 288.47 L341.94 289.99 L342.22 291.54 L342.50 293.00 L342.78 294.22 L343.06 295.10 L343.34 295.56 L343.62 295.57 L343.90 295.13 L344.18 294.27 L344.46 293.09 L344.74 291.70 L345.02 290.23 L345.30 288.83 L345.58 287.64 L345.86 286.77 L346.14 286.32 L346.42 286.32 L346.70 286.79 L346.98 287.68 L347.26 288.90 L347.54 290.34 L347.82 291.87 L348.10 293.32 L348.38 294.56 L348.66 295.46 L348.94 295.94 L349.22 295.95 L349.50 295.49 L349.78 294.62 L350.06 293.43 L350.34 292.05 L350.62 290.63 L350.90 289.32 L351.18 288.26 L351.46 287.58 L351.74 287.35 L352.02 287.60 L352.30 288.30 L352.58 289.38 L352.86 290.73 L353.14 292.21 L353.42 293.64 L353.70 294.89 L353.98 295.80 L354.26 296.29 L354.54 296.30 L354.82 295.84 L355.10 294.96 L355.38 293.77 L355.66 292.42 L355.94 291.05 L356.22 289.85 L356.50 288.95 L356.78 288.46 L357.06 288.44 L357.34 288.91 L357.62 289.81 L357.90 291.03 L358.18 292.43 L358.46 293.84 L358.74 295.10 L359.02 296.06 L359.30 296.60 L359.58 296.66 L359.86 296.24 L360.14 295.40 L360.42 294.24 L360.70 292.93 L360.98 291.63 L361.26 290.51 L361.54 289.73 L361.82 289.39 L362.10 289.53 L362.38 290.15 L362.66 291.16 L362.94 292.44 L363.22 293.81 L363.50 295.11 L363.78 296.16 L364.06 296.82 L364.34 297.01 L364.62 296.72 L364.90 295.98 L365.18 294.90 L365.46 293.65 L365.74 292.40 L366.02 291.32 L366.30 290.58 L366.58 290.28 L366.86 290.48 L367.14 291.13 L367.42 292.16 L367.70 293.42 L367.98 294.73 L368.26 295.90 L368.54 296.76 L368.82 297.20 L369.10 297.16 L369.38 296.65 L369.66 295.75 L369.94 294.60 L370.22 293.39 L370.50 292.30 L370.78 291.51 L371.06 291.13 L371.34 291.24 L371.62 291.81 L371.90 292.77 L372.18 293.96 L372.46 295.20 L372.74 296.30 L373.02 297.09 L373.30 297.45 L373.58 297.33 L373.86 296.76 L374.14 295.83 L374.42 294.71 L374.70 293.59 L374.98 292.65 L375.26 292.06 L375.54 291.92 L375.82 292.25 L376.10 293.01 L376.38 294.07 L376.66 295.24 L376.94 296.35 L377.22 297.19 L377.50 297.63 L377.78 297.61 L378.06 297.13 L378.34 296.30 L378.62 295.25 L378.90 294.19 L379.18 293.32 L379.46 292.79 L379.74 292.69 L380.02 293.07 L380.30 293.83 L380.58 294.86 L380.86 295.96 L381.14 296.94 L381.42 297.62 L381.70 297.88 L381.98 297.69 L382.26 297.08 L382.54 296.19 L382.82 295.19 L383.10 294.28 L383.38 293.65 L383.66 293.41 L383.94 293.62 L384.22 294.24 L384.50 295.15 L384.78 296.18 L385.06 297.12 L385.34 297.79 L385.62 298.08 L385.90 297.92 L386.18 297.37 L386.46 296.55 L386.74 295.63 L387.02 294.81 L387.30 294.27 L387.58 294.12 L387.86 294.40 L388.14 295.05 L388.42 295.93 L388.70 296.88 L388.98 297.70 L389.26 298.21 L389.54 298.32 L389.82 298.00 L390.10 297.34 L390.38 296.48 L390.66 295.63 L390.94 294.97 L391.22 294.67 L391.50 294.80 L391.78 295.33 L392.06 296.16 L392.34 297.10 L392.62 297.94 L392.90 298.50 L393.18 298.65 L393.46 298.38 L393.74 297.74 L394.02 296.89 L394.30 296.05 L394.58 295.42 L394.86 295.17 L395.14 295.34 L395.42 295.93 L395.70 296.78 L395.98 297.70 L396.26 298.47 L396.54 298.92 L396.82 298.93 L397.10 298.51 L397.38 297.78 L397.66 296.92 L397.94 296.17 L398.22 295.72 L398.50 295.69 L398.78 296.11 L399.06 296.86 L399.34 297.77 L399.62 298.60 L399.90 299.15 L400.18 299.27 L400.46 298.96 L400.74 298.29 L401.02 297.45 L401.30 296.69 L401.58 296.21 L401.86 296.15 L402.14 296.55 L402.42 297.28 L402.70 298.17 L402.98 298.98 L403.26 299.48 L403.54 299.55 L403.82 299.18 L404.10 298.48 L404.38 297.66 L404.66 296.96 L404.94 296.60 L405.22 296.69 L405.50 297.20 L405.78 298.01 L406.06 298.88 L406.34 299.56 L406.62 299.86 L406.90 299.71 L407.18 299.16 L407.46 298.38 L407.74 297.62 L408.02 297.12 L408.30 297.05 L408.58 297.43 L408.86 298.15 L409.14 299.01 L409.42 299.74 L409.70 300.12 L409.98 300.05 L410.26 299.56 L410.54 298.81 L410.82 298.06 L411.10 297.56 L411.38 297.48 L411.66 297.85 L411.94 298.57 L412.22 299.40 L412.50 300.09 L412.78 300.41 L413.06 300.28 L413.34 299.74 L413.62 298.99 L413.90 298.30 L414.18 297.91 L414.46 297.96 L414.74 298.45 L415.02 299.22 L415.30 300.01 L415.58 300.55 L415.86 300.68 L416.14 300.34 L416.42 299.69 L416.70 298.96 L416.98 298.42 L417.26 298.29 L417.54 298.61 L417.82 299.28 L418.10 300.07 L418.38 300.70 L418.66 300.95 L418.94 300.73 L419.22 300.15 L419.50 299.44 L419.78 298.87 L420.06 298.68 L420.34 298.94 L420.62 299.57 L420.90 300.33 L421.18 300.95 L421.46 301.20 L421.74 300.99 L422.02 300.42 L422.30 299.73 L422.58 299.21 L422.86 299.07 L423.14 299.38 L423.42 300.04 L423.70 300.77 L423.98 301.30 L424.26 301.43 L424.54 301.12 L424.82 300.50 L425.10 299.86 L425.38 299.48 L425.66 299.51 L425.94 299.97 L426.22 300.67 L426.50 301.32 L426.78 301.66 L427.06 301.56 L427.34 301.08 L427.62 300.45 L427.90 299.94 L428.18 299.81 L428.46 300.12 L428.74 300.74 L429.02 301.41 L429.30 301.84 L429.58 301.87 L429.86 301.48 L430.14 300.88 L430.42 300.36 L430.70 300.16 L430.98 300.40 L431.26 300.97 L431.54 301.62 L431.82 302.06 L432.10 302.10 L432.38 301.75 L432.66 301.17 L432.94 300.68 L433.22 300.51 L433.50 300.77 L433.78 301.33 L434.06 301.94 L434.34 302.32 L434.62 302.29 L434.90 301.90 L435.18 301.35 L435.46 300.93 L435.74 300.88 L436.02 301.22 L436.30 301.77 L436.58 302.29 L436.86 302.50" stroke="#0000ff" stroke-width="1.65"/>
<path d="M103.40 205.00 L103.60 205.55 L103.80 206.09 L103.99 206.64 L104.19 207.18 L104.39 207.73 L104.59 208.27 L104.79 208.82 L104.99 209.37 L105.19 209.91 L105.39 210.46 L105.60 211.00 L105.81 211.55 L106.03 212.11 L106.24 212.67 L106.46 213.23 L106.68 213.79 L106.90 214.35 L107.12 214.90 L107.35 215.44 L107.57 215.97 L107.78 216.49 L108.00 217.00 L108.25 217.59 L108.49 218.17 L108.72 218.75 L108.96 219.32 L109.20 219.86 L109.45 220.38 L109.72 220.86 L110.00 221.30 L110.37 221.83 L110.77 222.36 L111.17 222.82 L111.59 223.16 L112.00 223.30 L112.50 223.18 L113.01 222.83 L113.52 222.33 L114.00 221.80 L114.33 221.37 L114.63 220.87 L114.92 220.32 L115.20 219.74 L115.48 219.17 L115.78 218.61 L116.10 218.10 L116.47 217.56 L116.86 217.03 L117.26 216.51 L117.66 216.02 L118.08 215.58 L118.50 215.20 L119.02 214.79 L119.55 214.43 L120.08 214.17 L120.60 214.10 L121.12 214.26 L121.63 214.61 L122.13 215.08 L122.60 215.60 L122.93 216.01 L123.26 216.48 L123.57 216.99 L123.87 217.53 L124.15 218.10 L124.43 218.69 L124.70 219.30 L124.90 219.80 L125.10 220.32 L125.30 220.86 L125.48 221.42 L125.67 221.99 L125.84 222.57 L126.01 223.16 L126.17 223.75 L126.32 224.34 L126.46 224.93 L126.60 225.50 L126.72 226.05 L126.83 226.58 L126.93 227.09 L127.02 227.61 L127.11 228.13 L127.19 228.65 L127.26 229.20 L127.34 229.77 L127.42 230.37 L127.51 231.01 L127.60 231.70 L127.66 232.11 L127.71 232.54 L127.77 232.98 L127.83 233.43 L127.88 233.90 L127.94 234.38 L128.00 234.86 L128.06 235.36 L128.12 235.87 L128.18 236.39 L128.24 236.91 L128.31 237.45 L128.37 237.99 L128.43 238.55 L128.49 239.11 L128.55 239.67 L128.62 240.25 L128.68 240.83 L128.74 241.41 L128.80 242.01 L128.87 242.60 L128.93 243.20 L128.99 243.81 L129.05 244.42 L129.11 245.03 L129.18 245.65 L129.24 246.27 L129.30 246.89 L129.36 247.51 L129.42 248.13 L129.48 248.75 L129.54 249.38 L129.60 250.00 L129.65 250.49 L129.69 250.99 L129.74 251.49 L129.78 252.00 L129.83 252.51 L129.88 253.03 L129.92 253.55 L129.97 254.08 L130.01 254.62 L130.06 255.16 L130.10 255.70 L130.15 256.25 L130.19 256.80 L130.24 257.35 L130.28 257.91 L130.33 258.47 L130.37 259.03 L130.42 259.60 L130.46 260.17 L130.51 260.74 L130.55 261.31 L130.60 261.89 L130.64 262.47 L130.69 263.04 L130.73 263.62 L130.77 264.20 L130.82 264.79 L130.86 265.37 L130.91 265.95 L130.95 266.53 L131.00 267.12 L131.04 267.70 L131.08 268.28 L131.13 268.86 L131.17 269.44 L131.22 270.02 L131.26 270.60 L131.30 271.17 L131.35 271.75 L131.39 272.32 L131.43 272.89 L131.48 273.46 L131.52 274.02 L131.57 274.59 L131.61 275.14 L131.65 275.70 L131.70 276.25 L131.74 276.80 L131.78 277.35 L131.83 277.89 L131.87 278.42 L131.91 278.95 L131.96 279.48 L132.00 280.00 L132.05 280.60 L132.10 281.20 L132.15 281.81 L132.20 282.41 L132.26 283.02 L132.31 283.63 L132.36 284.24 L132.41 284.85 L132.47 285.46 L132.52 286.07 L132.57 286.68 L132.62 287.28 L132.68 287.89 L132.73 288.50 L132.78 289.10 L132.84 289.70 L132.89 290.30 L132.94 290.89 L132.99 291.49 L133.05 292.08 L133.10 292.66 L133.15 293.24 L133.20 293.82 L133.25 294.39 L133.30 294.95 L133.35 295.51 L133.40 296.07 L133.45 296.61 L133.50 297.15 L133.54 297.69 L133.59 298.21 L133.63 298.73 L133.68 299.24 L133.72 299.75 L133.77 300.24 L133.81 300.72 L133.85 301.20 L133.89 301.67 L133.93 302.12 L133.96 302.57 L134.00 303.00 L134.05 303.68 L134.10 304.34 L134.14 304.99 L134.18 305.64 L134.22 306.26 L134.25 306.87 L134.28 307.47 L134.32 308.04 L134.35 308.60 L134.39 309.13 L134.43 309.64 L134.47 310.13 L134.52 310.59 L134.57 311.02 L134.63 311.43 L134.70 311.80 L134.86 312.53 L135.04 313.21 L135.22 313.71 L135.40 313.90 L135.58 313.71 L135.77 313.21 L135.94 312.53 L136.10 311.80 L136.17 311.43 L136.22 311.02 L136.27 310.59 L136.31 310.13 L136.35 309.64 L136.38 309.13 L136.41 308.60 L136.44 308.04 L136.46 307.47 L136.49 306.87 L136.51 306.26 L136.54 305.63 L136.57 304.99 L136.61 304.34 L136.65 303.67 L136.70 303.00 L136.73 302.57 L136.77 302.12 L136.81 301.66 L136.85 301.19 L136.89 300.71 L136.93 300.22 L136.97 299.73 L137.01 299.22 L137.06 298.70 L137.10 298.18 L137.15 297.64 L137.20 297.10 L137.25 296.56 L137.30 296.00 L137.35 295.44 L137.40 294.88 L137.45 294.30 L137.50 293.73 L137.55 293.15 L137.61 292.56 L137.66 291.97 L137.71 291.38 L137.77 290.78 L137.82 290.18 L137.88 289.58 L137.93 288.98 L137.98 288.37 L138.04 287.77 L138.09 287.16 L138.14 286.56 L138.20 285.95 L138.25 285.35 L138.30 284.74 L138.36 284.14 L138.41 283.54 L138.46 282.94 L138.51 282.35 L138.56 281.75 L138.61 281.17 L138.65 280.58 L138.70 280.00 L138.74 279.46 L138.79 278.92 L138.83 278.38 L138.87 277.83 L138.91 277.28 L138.95 276.73 L138.99 276.18 L139.03 275.62 L139.08 275.06 L139.12 274.50 L139.16 273.94 L139.20 273.38 L139.24 272.81 L139.28 272.25 L139.32 271.68 L139.36 271.11 L139.40 270.54 L139.43 269.97 L139.47 269.41 L139.51 268.84 L139.55 268.27 L139.59 267.70 L139.63 267.13 L139.67 266.56 L139.71 265.99 L139.75 265.43 L139.79 264.86 L139.83 264.30 L139.87 263.73 L139.91 263.17 L139.95 262.61 L139.99 262.05 L140.03 261.49 L140.06 260.94 L140.10 260.39 L140.15 259.84 L140.19 259.29 L140.23 258.75 L140.27 258.21 L140.31 257.67 L140.35 257.13 L140.39 256.60 L140.43 256.07 L140.47 255.55 L140.52 255.03 L140.56 254.51 L140.60 254.00 L140.65 253.40 L140.70 252.80 L140.75 252.21 L140.80 251.63 L140.85 251.05 L140.89 250.47 L140.94 249.89 L140.99 249.32 L141.04 248.75 L141.08 248.19 L141.13 247.63 L141.18 247.07 L141.23 246.51 L141.28 245.96 L141.32 245.41 L141.37 244.86 L141.42 244.31 L141.47 243.76 L141.52 243.21 L141.57 242.67 L141.63 242.12 L141.68 241.58 L141.73 241.04 L141.79 240.49 L141.84 239.95 L141.90 239.40 L141.96 238.86 L142.02 238.31 L142.08 237.76 L142.14 237.21 L142.20 236.66 L142.27 236.11 L142.33 235.56 L142.40 235.00 L142.47 234.44 L142.54 233.86 L142.60 233.28 L142.67 232.70 L142.74 232.11 L142.80 231.51 L142.87 230.91 L142.94 230.30 L143.00 229.70 L143.07 229.09 L143.14 228.48 L143.21 227.87 L143.28 227.26 L143.35 226.65 L143.42 226.04 L143.49 225.44 L143.57 224.84 L143.65 224.24 L143.73 223.65 L143.81 223.07 L143.89 222.50 L143.98 221.93 L144.07 221.37 L144.17 220.82 L144.26 220.28 L144.36 219.75 L144.46 219.23 L144.57 218.72 L144.68 218.23 L144.80 217.75 L144.92 217.29 L145.04 216.84 L145.17 216.41 L145.30 216.00 L145.53 215.33 L145.77 214.65 L146.02 213.96 L146.29 213.28 L146.56 212.61 L146.84 211.98 L147.12 211.40 L147.41 210.87 L147.69 210.41 L147.98 210.03 L148.26 209.74 L148.53 209.56 L148.80 209.50 L149.07 209.57 L149.35 209.78 L149.63 210.11 L149.91 210.54 L150.18 211.04 L150.46 211.62 L150.73 212.25 L150.99 212.90 L151.26 213.57 L151.51 214.24 L151.76 214.89 L152.00 215.50 L152.18 215.96 L152.34 216.45 L152.51 216.95 L152.66 217.48 L152.81 218.02 L152.96 218.57 L153.10 219.13 L153.24 219.71 L153.38 220.28 L153.51 220.86 L153.65 221.44 L153.78 222.01 L153.92 222.58 L154.06 223.14 L154.21 223.69 L154.35 224.23 L154.51 224.75 L154.66 225.26 L154.83 225.74 L155.00 226.20 L155.25 226.85 L155.51 227.54 L155.77 228.24 L156.04 228.95 L156.32 229.63 L156.60 230.26 L156.88 230.83 L157.16 231.31 L157.44 231.68 L157.72 231.91 L158.00 232.00 L158.27 231.91 L158.54 231.65 L158.80 231.25 L159.07 230.74 L159.33 230.14 L159.60 229.50 L159.87 228.83 L160.15 228.16 L160.42 227.54 L160.71 226.97 L161.00 226.50 L161.39 225.93 L161.80 225.32 L162.21 224.73 L162.63 224.19 L163.04 223.75 L163.43 223.48 L163.80 223.40 L164.11 223.54 L164.41 223.86 L164.70 224.32 L164.97 224.89 L165.24 225.52 L165.49 226.20 L165.75 226.87 L166.00 227.50 L166.19 227.95 L166.37 228.42 L166.55 228.90 L166.73 229.40 L166.90 229.91 L167.07 230.43 L167.24 230.96 L167.41 231.50 L167.57 232.06 L167.72 232.62 L167.88 233.20 L168.02 233.79 L168.16 234.39 L168.30 235.00 L168.40 235.49 L168.50 236.00 L168.59 236.53 L168.68 237.07 L168.77 237.62 L168.85 238.18 L168.93 238.76 L169.01 239.34 L169.08 239.92 L169.15 240.52 L169.22 241.11 L169.29 241.71 L169.36 242.31 L169.42 242.91 L169.49 243.50 L169.55 244.09 L169.61 244.68 L169.68 245.26 L169.74 245.83 L169.80 246.39 L169.87 246.94 L169.93 247.48 L170.00 248.00 L170.08 248.65 L170.16 249.34 L170.23 250.07 L170.31 250.81 L170.38 251.57 L170.46 252.33 L170.53 253.07 L170.60 253.79 L170.67 254.46 L170.75 255.09 L170.82 255.65 L170.89 256.14 L170.97 256.54 L171.04 256.84 L171.12 257.03 L171.20 257.10 L171.29 257.03 L171.37 256.81 L171.46 256.48 L171.55 256.03 L171.64 255.50 L171.73 254.88 L171.82 254.20 L171.91 253.48 L172.01 252.72 L172.10 251.95 L172.20 251.17 L172.30 250.41 L172.40 249.68 L172.50 249.00 L172.58 248.51 L172.66 248.00 L172.73 247.48 L172.81 246.95 L172.90 246.40 L172.98 245.85 L173.06 245.29 L173.14 244.72 L173.23 244.14 L173.31 243.56 L173.40 242.97 L173.49 242.38 L173.58 241.79 L173.66 241.20 L173.75 240.61 L173.84 240.02 L173.94 239.43 L174.03 238.85 L174.12 238.28 L174.22 237.71 L174.31 237.14 L174.41 236.59 L174.50 236.05 L174.60 235.52 L174.70 235.00 L174.82 234.40 L174.94 233.81 L175.06 233.22 L175.18 232.64 L175.31 232.07 L175.43 231.50 L175.56 230.94 L175.68 230.39 L175.81 229.84 L175.94 229.29 L176.07 228.75 L176.20 228.20 L176.34 227.67 L176.47 227.13 L176.60 226.60 L176.73 226.06 L176.87 225.53 L177.00 225.00 L177.14 224.44 L177.27 223.87 L177.40 223.29 L177.53 222.71 L177.65 222.12 L177.78 221.54 L177.91 220.96 L178.04 220.39 L178.18 219.83 L178.32 219.29 L178.46 218.76 L178.61 218.25 L178.77 217.77 L178.94 217.32 L179.11 216.89 L179.30 216.50 L179.65 215.85 L180.02 215.20 L180.41 214.61 L180.81 214.13 L181.21 213.81 L181.60 213.70 L181.95 213.82 L182.30 214.12 L182.65 214.57 L183.00 215.12 L183.35 215.73 L183.68 216.37 L184.00 217.00 L184.21 217.42 L184.41 217.85 L184.60 218.31 L184.79 218.79 L184.97 219.29 L185.15 219.80 L185.33 220.33 L185.50 220.87 L185.67 221.43 L185.84 222.00 L186.01 222.58 L186.18 223.17 L186.35 223.77 L186.53 224.38 L186.70 225.00 L186.83 225.49 L186.96 226.03 L187.09 226.61 L187.21 227.22 L187.34 227.87 L187.47 228.55 L187.59 229.25 L187.71 229.97 L187.84 230.69 L187.96 231.43 L188.09 232.16 L188.21 232.89 L188.33 233.62 L188.45 234.32 L188.58 235.01 L188.70 235.68 L188.82 236.31 L188.95 236.91 L189.07 237.47 L189.20 237.99 L189.32 238.45 L189.45 238.86 L189.58 239.21 L189.71 239.50 L189.84 239.71 L189.97 239.84 L190.10 239.90 L190.33 239.79 L190.57 239.45 L190.80 238.93 L191.03 238.29 L191.27 237.57 L191.51 236.83 L191.77 236.12 L192.03 235.49 L192.30 235.00 L192.67 234.45 L193.06 233.91 L193.47 233.44 L193.88 233.12 L194.30 233.00 L194.67 233.17 L195.06 233.60 L195.45 234.19 L195.85 234.82 L196.25 235.39 L196.63 235.78 L197.00 235.90 L197.28 235.78 L197.54 235.52 L197.80 235.15 L198.06 234.67 L198.31 234.11 L198.56 233.49 L198.80 232.82 L199.04 232.13 L199.28 231.43 L199.52 230.75 L199.76 230.10 L200.00 229.50 L200.21 228.99 L200.40 228.45 L200.60 227.89 L200.79 227.32 L200.97 226.74 L201.16 226.16 L201.34 225.57 L201.53 224.99 L201.71 224.42 L201.91 223.87 L202.11 223.34 L202.32 222.83 L202.53 222.35 L202.76 221.90 L203.00 221.50 L203.38 220.92 L203.79 220.34 L204.21 219.79 L204.64 219.31 L205.07 218.93 L205.49 218.68 L205.90 218.60 L206.29 218.70 L206.68 218.95 L207.07 219.33 L207.45 219.81 L207.82 220.35 L208.17 220.92 L208.50 221.50 L208.70 221.89 L208.89 222.31 L209.07 222.75 L209.25 223.21 L209.41 223.69 L209.56 224.20 L209.71 224.72 L209.86 225.26 L210.00 225.82 L210.14 226.39 L210.28 226.97 L210.42 227.56 L210.56 228.16 L210.70 228.77 L210.85 229.38 L211.00 230.00 L211.11 230.47 L211.23 230.99 L211.34 231.55 L211.45 232.14 L211.57 232.77 L211.68 233.42 L211.79 234.09 L211.91 234.78 L212.02 235.49 L212.13 236.21 L212.24 236.93 L212.36 237.65 L212.47 238.37 L212.58 239.09 L212.69 239.79 L212.81 240.48 L212.92 241.15 L213.03 241.80 L213.15 242.41 L213.26 243.00 L213.37 243.55 L213.49 244.06 L213.60 244.53 L213.71 244.95 L213.83 245.31 L213.94 245.62 L214.06 245.87 L214.17 246.05 L214.29 246.16 L214.40 246.20 L214.52 246.16 L214.64 246.04 L214.76 245.84 L214.88 245.57 L215.00 245.24 L215.12 244.85 L215.24 244.40 L215.36 243.90 L215.48 243.36 L215.60 242.77 L215.72 242.15 L215.84 241.50 L215.96 240.83 L216.08 240.13 L216.20 239.42 L216.32 238.69 L216.44 237.96 L216.56 237.23 L216.68 236.51 L216.81 235.79 L216.93 235.09 L217.05 234.41 L217.18 233.75 L217.30 233.12 L217.42 232.53 L217.55 231.97 L217.67 231.46 L217.80 231.00 L217.99 230.36 L218.18 229.73 L218.36 229.11 L218.55 228.51 L218.74 227.93 L218.93 227.36 L219.13 226.82 L219.32 226.29 L219.51 225.78 L219.71 225.30 L219.90 224.84 L220.10 224.41 L220.30 224.00 L220.63 223.36 L220.96 222.76 L221.30 222.23 L221.64 221.80 L222.00 221.50 L222.59 221.26 L223.20 221.30 L223.64 221.56 L224.09 222.00 L224.54 222.52 L225.00 223.00 L225.50 223.44 L226.01 223.88 L226.52 224.33 L227.00 224.80 L227.44 225.26 L227.85 225.71 L228.24 226.21 L228.60 226.80 L228.82 227.27 L229.02 227.79 L229.19 228.35 L229.36 228.94 L229.51 229.56 L229.67 230.19 L229.83 230.84 L230.00 231.50 L230.13 231.98 L230.25 232.48 L230.38 233.00 L230.51 233.53 L230.64 234.08 L230.77 234.63 L230.90 235.18 L231.03 235.74 L231.16 236.30 L231.29 236.86 L231.42 237.41 L231.54 237.95 L231.67 238.48 L231.80 239.00 L231.95 239.63 L232.09 240.33 L232.24 241.07 L232.39 241.83 L232.53 242.56 L232.68 243.26 L232.83 243.89 L232.97 244.43 L233.11 244.84 L233.26 245.11 L233.40 245.20 L233.50 245.14 L233.61 244.98 L233.71 244.71 L233.81 244.36 L233.91 243.93 L234.01 243.44 L234.11 242.87 L234.21 242.26 L234.30 241.60 L234.40 240.91 L234.50 240.19 L234.60 239.46 L234.70 238.71 L234.80 237.97 L234.90 237.23 L234.99 236.52 L235.09 235.82 L235.20 235.17 L235.30 234.56 L235.40 234.00 L235.51 233.40 L235.63 232.80 L235.74 232.20 L235.85 231.59 L235.96 230.99 L236.07 230.39 L236.18 229.80 L236.29 229.21 L236.40 228.63 L236.52 228.07 L236.64 227.51 L236.76 226.97 L236.89 226.45 L237.02 225.95 L237.16 225.46 L237.30 225.00 L237.51 224.33 L237.73 223.64 L237.96 222.94 L238.19 222.29 L238.43 221.71 L238.68 221.25 L238.94 220.93 L239.20 220.80 L239.52 220.90 L239.86 221.22 L240.21 221.70 L240.55 222.28 L240.89 222.90 L241.20 223.50 L241.41 223.96 L241.61 224.47 L241.80 225.03 L241.98 225.62 L242.15 226.23 L242.32 226.84 L242.49 227.45 L242.66 228.03 L242.83 228.57 L243.01 229.07 L243.20 229.50 L243.53 230.13 L243.86 230.67 L244.21 231.15 L244.60 231.60 L245.03 231.97 L245.50 232.29 L245.97 232.62 L246.40 233.00 L246.79 233.52 L247.14 234.09 L247.47 234.70 L247.80 235.30 L248.09 235.88 L248.37 236.54 L248.65 237.17 L248.93 237.63 L249.20 237.80 L249.39 237.68 L249.58 237.38 L249.77 236.94 L249.95 236.38 L250.12 235.74 L250.30 235.05 L250.47 234.34 L250.64 233.65 L250.80 233.00 L250.92 232.50 L251.04 231.96 L251.15 231.39 L251.26 230.81 L251.37 230.20 L251.47 229.58 L251.57 228.96 L251.67 228.34 L251.78 227.72 L251.88 227.12 L251.99 226.53 L252.11 225.97 L252.23 225.44 L252.36 224.95 L252.50 224.50 L252.74 223.85 L253.00 223.27 L253.28 222.74 L253.55 222.23 L253.83 221.73 L254.10 221.20 L254.38 221.21 L254.66 221.33 L254.94 221.56 L255.22 221.89 L255.50 222.32 L255.78 222.84 L256.06 223.45 L256.34 224.13 L256.62 224.88 L256.90 225.71 L257.18 226.59 L257.46 227.51 L257.74 228.45 L258.02 229.40 L258.30 230.35 L258.58 231.28 L258.86 232.18 L259.14 233.04 L259.42 233.83 L259.70 234.54 L259.98 235.23 L260.26 235.79 L260.54 236.21 L260.82 236.34 L261.10 236.13 L261.38 235.73 L261.66 235.21 L261.94 234.57 L262.22 233.85 L262.50 233.06 L262.78 232.22 L263.06 231.34 L263.34 230.44 L263.62 229.54 L263.90 228.64 L264.18 227.78 L264.46 226.96 L264.74 226.20 L265.02 225.51 L265.30 224.90 L265.58 224.38 L265.86 223.97 L266.14 223.67 L266.42 223.49 L266.70 223.43 L266.98 223.50 L267.26 223.69 L267.54 223.99 L267.82 224.41 L268.10 224.96 L268.38 225.63 L268.66 226.40 L268.94 227.26 L269.22 228.22 L269.50 229.24 L269.78 230.31 L270.06 231.43 L270.34 232.56 L270.62 233.68 L270.90 234.78 L271.18 235.84 L271.46 236.82 L271.74 237.70 L272.02 238.45 L272.30 239.02 L272.58 239.32 L272.86 239.10 L273.14 238.53 L273.42 237.77 L273.70 236.88 L273.98 235.89 L274.26 234.83 L274.54 233.72 L274.82 232.59 L275.10 231.46 L275.38 230.36 L275.66 229.31 L275.94 228.32 L276.22 227.42 L276.50 226.63 L276.78 225.95 L277.06 225.40 L277.34 224.99 L277.62 224.72 L277.90 224.61 L278.18 224.60 L278.46 224.75 L278.74 225.04 L279.02 225.48 L279.30 226.05 L279.58 226.75 L279.86 227.55 L280.14 228.45 L280.42 229.43 L280.70 230.46 L280.98 231.52 L281.26 232.59 L281.54 233.63 L281.82 234.63 L282.10 235.56 L282.38 236.38 L282.66 237.06 L282.94 237.55 L283.22 237.76 L283.50 237.42 L283.78 236.79 L284.06 235.95 L284.34 234.98 L284.62 233.92 L284.90 232.79 L285.18 231.64 L285.46 230.48 L285.74 229.35 L286.02 228.28 L286.30 227.27 L286.58 226.36 L286.86 225.57 L287.14 224.91 L287.42 224.39 L287.70 224.02 L287.98 223.85 L288.26 223.85 L288.54 224.01 L288.82 224.33 L289.10 224.78 L289.38 225.36 L289.66 226.05 L289.94 226.83 L290.22 227.67 L290.50 228.56 L290.78 229.47 L291.06 230.37 L291.34 231.24 L291.62 232.05 L291.90 232.77 L292.18 233.38 L292.46 233.84 L292.74 234.12 L293.02 234.18 L293.30 233.86 L293.58 233.36 L293.86 232.71 L294.14 231.96 L294.42 231.14 L294.70 230.27 L294.98 229.38 L295.26 228.50 L295.54 227.67 L295.82 226.89 L296.10 226.20 L296.38 225.62 L296.66 225.16 L296.94 224.85 L297.22 224.68 L297.50 224.68 L297.78 224.84 L298.06 225.16 L298.34 225.64 L298.62 226.25 L298.90 227.00 L299.18 227.85 L299.46 228.79 L299.74 229.78 L300.02 230.81 L300.30 231.83 L300.58 232.82 L300.86 233.74 L301.14 234.53 L301.42 235.17 L301.70 235.56 L301.98 235.40 L302.26 234.89 L302.54 234.18 L302.82 233.34 L303.10 232.40 L303.38 231.42 L303.66 230.42 L303.94 229.44 L304.22 228.51 L304.50 227.68 L304.78 226.95 L305.06 226.36 L305.34 225.93 L305.62 225.67 L305.90 225.59 L306.18 225.68 L306.46 225.94 L306.74 226.37 L307.02 226.96 L307.30 227.69 L307.58 228.53 L307.86 229.46 L308.14 230.44 L308.42 231.44 L308.70 232.42 L308.98 233.34 L309.26 234.15 L309.54 234.80 L309.82 235.22 L310.10 235.20 L310.38 234.74 L310.66 234.07 L310.94 233.24 L311.22 232.31 L311.50 231.32 L311.78 230.32 L312.06 229.34 L312.34 228.42 L312.62 227.61 L312.90 226.93 L313.18 226.40 L313.46 226.06 L313.74 225.92 L314.02 225.97 L314.30 226.23 L314.58 226.69 L314.86 227.32 L315.14 228.10 L315.42 229.02 L315.70 230.02 L315.98 231.08 L316.26 232.14 L316.54 233.15 L316.82 234.07 L317.10 234.84 L317.38 235.38 L317.66 235.46 L317.94 235.01 L318.22 234.29 L318.50 233.41 L318.78 232.41 L319.06 231.35 L319.34 230.29 L319.62 229.27 L319.90 228.34 L320.18 227.55 L320.46 226.92 L320.74 226.49 L321.02 226.28 L321.30 226.29 L321.58 226.54 L321.86 226.99 L322.14 227.65 L322.42 228.48 L322.70 229.44 L322.98 230.48 L323.26 231.57 L323.54 232.64 L323.82 233.63 L324.10 234.49 L324.38 235.14 L324.66 235.44 L324.94 235.07 L325.22 234.39 L325.50 233.50 L325.78 232.48 L326.06 231.41 L326.34 230.33 L326.62 229.31 L326.90 228.39 L327.18 227.63 L327.46 227.06 L327.74 226.71 L328.02 226.60 L328.30 226.73 L328.58 227.10 L328.86 227.69 L329.14 228.47 L329.42 229.40 L329.70 230.43 L329.98 231.52 L330.26 232.59 L330.54 233.58 L330.82 234.42 L331.10 235.02 L331.38 235.16 L331.66 234.69 L331.94 233.92 L332.22 232.97 L332.50 231.92 L332.78 230.84 L333.06 229.79 L333.34 228.84 L333.62 228.04 L333.90 227.43 L334.18 227.05 L334.46 226.92 L334.74 227.05 L335.02 227.43 L335.30 228.04 L335.58 228.84 L335.86 229.80 L336.14 230.85 L336.42 231.93 L336.70 232.97 L336.98 233.89 L337.26 234.61 L337.54 235.00 L337.82 234.68 L338.10 233.98 L338.38 233.07 L338.66 232.04 L338.94 230.96 L339.22 229.92 L339.50 228.98 L339.78 228.20 L340.06 227.63 L340.34 227.30 L340.62 227.23 L340.90 227.44 L341.18 227.90 L341.46 228.59 L341.74 229.47 L342.02 230.48 L342.30 231.55 L342.58 232.60 L342.86 233.56 L343.14 234.33 L343.42 234.78 L343.70 234.53 L343.98 233.85 L344.26 232.94 L344.54 231.90 L344.82 230.83 L345.10 229.80 L345.38 228.89 L345.66 228.16 L345.94 227.67 L346.22 227.45 L346.50 227.51 L346.78 227.85 L347.06 228.45 L347.34 229.26 L347.62 230.24 L347.90 231.29 L348.18 232.36 L348.46 233.33 L348.74 234.12 L349.02 234.58 L349.30 234.33 L349.58 233.63 L349.86 232.71 L350.14 231.66 L350.42 230.60 L350.70 229.60 L350.98 228.75 L351.26 228.11 L351.54 227.73 L351.82 227.65 L352.10 227.86 L352.38 228.36 L352.66 229.10 L352.94 230.03 L353.22 231.07 L353.50 232.13 L353.78 233.12 L354.06 233.92 L354.34 234.40 L354.62 234.15 L354.90 233.44 L355.18 232.50 L355.46 231.45 L355.74 230.40 L356.02 229.44 L356.30 228.65 L356.58 228.11 L356.86 227.85 L357.14 227.91 L357.42 228.27 L357.70 228.90 L357.98 229.76 L358.26 230.76 L358.54 231.82 L358.82 232.83 L359.10 233.67 L359.38 234.20 L359.66 234.02 L359.94 233.33 L360.22 232.40 L360.50 231.36 L360.78 230.32 L361.06 229.39 L361.34 228.65 L361.62 228.18 L361.90 228.02 L362.18 228.18 L362.46 228.65 L362.74 229.38 L363.02 230.31 L363.30 231.35 L363.58 232.38 L363.86 233.28 L364.14 233.93 L364.42 233.98 L364.70 233.37 L364.98 232.47 L365.26 231.45 L365.54 230.42 L365.82 229.49 L366.10 228.77 L366.38 228.31 L366.66 228.18 L366.94 228.38 L367.22 228.89 L367.50 229.65 L367.78 230.60 L368.06 231.62 L368.34 232.60 L368.62 233.40 L368.90 233.84 L369.18 233.50 L369.46 232.73 L369.74 231.77 L370.02 230.75 L370.30 229.79 L370.58 229.02 L370.86 228.51 L371.14 228.31 L371.42 228.45 L371.70 228.92 L371.98 229.66 L372.26 230.58 L372.54 231.58 L372.82 232.53 L373.10 233.28 L373.38 233.63 L373.66 233.17 L373.94 232.37 L374.22 231.40 L374.50 230.41 L374.78 229.53 L375.06 228.86 L375.34 228.50 L375.62 228.46 L375.90 228.77 L376.18 229.39 L376.46 230.23 L376.74 231.19 L377.02 232.14 L377.30 232.94 L377.58 233.40 L377.86 233.09 L378.14 232.34 L378.42 231.41 L378.70 230.44 L378.98 229.58 L379.26 228.94 L379.54 228.60 L379.82 228.60 L380.10 228.95 L380.38 229.59 L380.66 230.44 L380.94 231.38 L381.22 232.28 L381.50 232.97 L381.78 233.17 L382.06 232.64 L382.34 231.81 L382.62 230.87 L382.90 229.97 L383.18 229.25 L383.46 228.80 L383.74 228.68 L384.02 228.91 L384.30 229.46 L384.58 230.24 L384.86 231.15 L385.14 232.03 L385.42 232.73 L385.70 232.99 L385.98 232.50 L386.26 231.70 L386.54 230.79 L386.82 229.94 L387.10 229.26 L387.38 228.86 L387.66 228.81 L387.94 229.10 L388.22 229.69 L388.50 230.50 L388.78 231.39 L389.06 232.22 L389.34 232.79 L389.62 232.71 L389.90 232.06 L390.18 231.21 L390.46 230.32 L390.74 229.56 L391.02 229.05 L391.30 228.87 L391.58 229.05 L391.86 229.57 L392.14 230.34 L392.42 231.23 L392.70 232.08 L392.98 232.71 L393.26 232.71 L393.54 232.09 L393.82 231.24 L394.10 230.34 L394.38 229.59 L394.66 229.09 L394.94 228.95 L395.22 229.18 L395.50 229.75 L395.78 230.56 L396.06 231.46 L396.34 232.28 L396.62 232.78 L396.90 232.50 L397.18 231.76 L397.46 230.87 L397.74 230.01 L398.02 229.36 L398.30 229.04 L398.58 229.10 L398.86 229.54 L399.14 230.27 L399.42 231.17 L399.70 232.03 L399.98 232.66 L400.26 232.60 L400.54 231.92 L400.82 231.04 L401.10 230.17 L401.38 229.48 L401.66 229.12 L401.94 229.16 L402.22 229.59 L402.50 230.32 L402.78 231.22 L403.06 232.08 L403.34 232.67 L403.62 232.50 L403.90 231.77 L404.18 230.87 L404.46 230.02 L404.74 229.41 L405.02 229.16 L405.30 229.32 L405.58 229.88 L405.86 230.69 L406.14 231.60 L406.42 232.38 L406.70 232.68 L406.98 232.14 L407.26 231.29 L407.54 230.39 L407.82 229.66 L408.10 229.26 L408.38 229.29 L408.66 229.73 L408.94 230.49 L409.22 231.39 L409.50 232.22 L409.78 232.67 L410.06 232.23 L410.34 231.40 L410.62 230.50 L410.90 229.75 L411.18 229.33 L411.46 229.35 L411.74 229.80 L412.02 230.57 L412.30 231.48 L412.58 232.28 L412.86 232.62 L413.14 232.08 L413.42 231.22 L413.70 230.33 L413.98 229.66 L414.26 229.35 L414.54 229.51 L414.82 230.08 L415.10 230.92 L415.38 231.82 L415.66 232.49 L415.94 232.41 L416.22 231.68 L416.50 230.77 L416.78 229.97 L417.06 229.49 L417.34 229.45 L417.62 229.87 L417.90 230.64 L418.18 231.54 L418.46 232.32 L418.74 232.51 L419.02 231.87 L419.30 230.98 L419.58 230.14 L419.86 229.59 L420.14 229.49 L420.42 229.86 L420.70 230.60 L420.98 231.50 L421.26 232.28 L421.54 232.48 L421.82 231.83 L422.10 230.94 L422.38 230.12 L422.66 229.61 L422.94 229.57 L423.22 230.00 L423.50 230.79 L423.78 231.69 L424.06 232.39 L424.34 232.33 L424.62 231.58 L424.90 230.68 L425.18 229.94 L425.46 229.59 L425.74 229.74 L426.02 230.34 L426.30 231.21 L426.58 232.06 L426.86 232.49 L427.14 231.96 L427.42 231.09 L427.70 230.25 L427.98 229.73 L428.26 229.68 L428.54 230.13 L428.82 230.93 L429.10 231.82 L429.38 232.43 L429.66 232.12 L429.94 231.30 L430.22 230.44 L430.50 229.84 L430.78 229.71 L431.06 230.09 L431.34 230.86 L431.62 231.75 L431.90 232.39 L432.18 232.13 L432.46 231.31 L432.74 230.45 L433.02 229.87 L433.30 229.77 L433.58 230.19 L433.86 230.98 L434.14 231.85 L434.42 232.40 L434.70 231.99 L434.98 231.14 L435.26 230.32 L435.54 229.84 L435.82 229.88 L436.10 230.43 L436.38 231.27 L436.66 232.09 L436.94 232.34" stroke="#404040" stroke-width="1.65"/>
<path d="M103.40 171.60 L103.66 172.16 L103.91 172.73 L104.17 173.30 L104.43 173.87 L104.68 174.43 L104.94 174.98 L105.20 175.50 L105.46 176.03 L105.71 176.56 L105.97 177.08 L106.23 177.56 L106.50 178.01 L106.80 178.40 L107.31 178.95 L107.85 179.41 L108.40 179.60 L108.94 179.45 L109.48 179.05 L110.00 178.50 L110.27 178.14 L110.53 177.71 L110.78 177.23 L111.03 176.70 L111.28 176.14 L111.53 175.58 L111.78 175.02 L112.04 174.49 L112.30 174.00 L112.62 173.43 L112.93 172.85 L113.25 172.28 L113.57 171.73 L113.90 171.22 L114.24 170.77 L114.60 170.40 L115.22 169.93 L115.86 169.60 L116.50 169.50 L116.98 169.61 L117.47 169.87 L117.94 170.24 L118.40 170.70 L118.69 171.07 L118.99 171.50 L119.27 172.00 L119.55 172.55 L119.83 173.12 L120.10 173.72 L120.36 174.33 L120.62 174.94 L120.86 175.53 L121.10 176.10 L121.32 176.64 L121.53 177.18 L121.72 177.73 L121.91 178.27 L122.10 178.82 L122.28 179.37 L122.46 179.91 L122.63 180.45 L122.82 180.98 L123.00 181.50 L123.21 182.08 L123.43 182.65 L123.64 183.21 L123.86 183.76 L124.07 184.31 L124.28 184.87 L124.49 185.43 L124.70 186.00 L124.90 186.54 L125.10 187.07 L125.30 187.61 L125.50 188.15 L125.70 188.70 L125.89 189.25 L126.07 189.82 L126.24 190.40 L126.40 191.00 L126.52 191.53 L126.64 192.08 L126.74 192.63 L126.84 193.19 L126.93 193.76 L127.02 194.34 L127.10 194.93 L127.18 195.52 L127.26 196.13 L127.34 196.74 L127.42 197.37 L127.50 198.00 L127.57 198.51 L127.63 199.03 L127.70 199.56 L127.76 200.10 L127.82 200.64 L127.88 201.19 L127.94 201.75 L128.00 202.31 L128.06 202.87 L128.12 203.44 L128.18 204.01 L128.24 204.58 L128.30 205.15 L128.36 205.73 L128.42 206.30 L128.48 206.87 L128.54 207.44 L128.60 208.00 L128.66 208.55 L128.72 209.10 L128.78 209.65 L128.83 210.20 L128.89 210.76 L128.94 211.32 L129.00 211.88 L129.05 212.43 L129.11 212.99 L129.17 213.55 L129.23 214.11 L129.29 214.66 L129.35 215.22 L129.42 215.77 L129.49 216.32 L129.56 216.87 L129.64 217.42 L129.72 217.96 L129.80 218.50 L129.90 219.07 L130.00 219.64 L130.10 220.21 L130.21 220.77 L130.33 221.33 L130.44 221.89 L130.56 222.45 L130.69 223.01 L130.81 223.56 L130.93 224.12 L131.06 224.67 L131.19 225.22 L131.31 225.78 L131.44 226.33 L131.56 226.89 L131.68 227.44 L131.80 228.00 L131.89 227.45 L131.98 226.92 L132.07 226.39 L132.16 225.86 L132.24 225.34 L132.33 224.82 L132.42 224.30 L132.51 223.78 L132.59 223.26 L132.68 222.74 L132.77 222.21 L132.86 221.67 L132.95 221.13 L133.04 220.58 L133.13 220.02 L133.22 219.44 L133.32 218.86 L133.41 218.25 L133.50 217.64 L133.60 217.00 L133.67 216.54 L133.74 216.07 L133.81 215.59 L133.87 215.09 L133.94 214.59 L134.01 214.08 L134.08 213.56 L134.15 213.04 L134.22 212.50 L134.29 211.96 L134.36 211.42 L134.43 210.86 L134.50 210.31 L134.57 209.74 L134.65 209.18 L134.72 208.60 L134.79 208.03 L134.86 207.45 L134.94 206.87 L135.01 206.29 L135.08 205.71 L135.16 205.12 L135.23 204.54 L135.31 203.95 L135.39 203.37 L135.46 202.78 L135.54 202.20 L135.62 201.62 L135.70 201.05 L135.77 200.47 L135.85 199.90 L135.93 199.33 L136.01 198.77 L136.10 198.21 L136.18 197.66 L136.26 197.12 L136.34 196.58 L136.43 196.04 L136.51 195.52 L136.60 195.00 L136.70 194.41 L136.79 193.83 L136.89 193.24 L136.98 192.66 L137.07 192.07 L137.16 191.49 L137.25 190.90 L137.34 190.32 L137.43 189.74 L137.51 189.16 L137.60 188.58 L137.70 188.01 L137.79 187.44 L137.88 186.87 L137.98 186.30 L138.07 185.74 L138.18 185.19 L138.28 184.64 L138.38 184.09 L138.49 183.55 L138.61 183.01 L138.72 182.48 L138.84 181.95 L138.97 181.43 L139.10 180.92 L139.23 180.41 L139.38 179.92 L139.52 179.43 L139.68 178.94 L139.83 178.47 L140.00 178.00 L140.22 177.41 L140.45 176.79 L140.69 176.16 L140.93 175.51 L141.19 174.86 L141.46 174.20 L141.73 173.55 L142.01 172.91 L142.29 172.29 L142.58 171.68 L142.87 171.11 L143.16 170.57 L143.45 170.07 L143.74 169.62 L144.03 169.22 L144.31 168.87 L144.59 168.60 L144.87 168.39 L145.14 168.25 L145.40 168.20 L145.73 168.26 L146.06 168.45 L146.39 168.75 L146.71 169.15 L147.04 169.64 L147.37 170.19 L147.69 170.79 L148.01 171.42 L148.32 172.07 L148.62 172.72 L148.92 173.35 L149.22 173.95 L149.50 174.50 L149.75 175.01 L149.99 175.59 L150.23 176.22 L150.46 176.88 L150.68 177.56 L150.90 178.25 L151.12 178.92 L151.33 179.57 L151.54 180.18 L151.75 180.74 L151.96 181.23 L152.17 181.64 L152.38 181.94 L152.59 182.13 L152.80 182.20 L153.00 182.13 L153.20 181.94 L153.39 181.63 L153.59 181.23 L153.77 180.74 L153.96 180.19 L154.15 179.59 L154.34 178.94 L154.53 178.27 L154.72 177.58 L154.92 176.90 L155.12 176.23 L155.33 175.59 L155.55 175.00 L155.77 174.46 L156.00 174.00 L156.31 173.43 L156.64 172.83 L156.97 172.21 L157.32 171.60 L157.67 171.03 L158.02 170.52 L158.37 170.08 L158.72 169.75 L159.06 169.55 L159.40 169.50 L159.65 169.58 L159.90 169.75 L160.16 170.00 L160.41 170.34 L160.66 170.75 L160.91 171.21 L161.16 171.74 L161.41 172.30 L161.66 172.90 L161.90 173.53 L162.14 174.18 L162.38 174.84 L162.61 175.50 L162.84 176.16 L163.07 176.80 L163.29 177.41 L163.50 178.00 L163.67 178.49 L163.84 179.03 L164.01 179.61 L164.17 180.23 L164.33 180.88 L164.49 181.55 L164.64 182.24 L164.79 182.94 L164.94 183.65 L165.09 184.36 L165.24 185.07 L165.38 185.77 L165.52 186.45 L165.66 187.11 L165.80 187.74 L165.93 188.34 L166.07 188.90 L166.20 189.42 L166.33 189.89 L166.46 190.30 L166.59 190.64 L166.72 190.92 L166.85 191.13 L166.97 191.26 L167.10 191.30 L167.24 191.24 L167.37 191.07 L167.50 190.80 L167.63 190.45 L167.74 190.01 L167.86 189.50 L167.97 188.94 L168.08 188.32 L168.19 187.66 L168.31 186.97 L168.42 186.26 L168.54 185.54 L168.66 184.82 L168.78 184.11 L168.91 183.41 L169.04 182.74 L169.19 182.11 L169.34 181.53 L169.50 181.00 L169.69 180.43 L169.88 179.86 L170.08 179.27 L170.28 178.69 L170.48 178.11 L170.70 177.53 L170.91 176.97 L171.14 176.41 L171.37 175.88 L171.60 175.37 L171.85 174.89 L172.10 174.43 L172.36 174.02 L172.62 173.64 L172.90 173.30 L173.37 172.84 L173.87 172.48 L174.39 172.19 L174.92 171.94 L175.46 171.72 L176.00 171.50 L176.53 171.26 L177.09 170.99 L177.66 170.75 L178.21 170.58 L178.73 170.51 L179.20 170.60 L179.57 170.83 L179.90 171.18 L180.21 171.63 L180.49 172.16 L180.76 172.74 L181.01 173.34 L181.26 173.93 L181.50 174.50 L181.71 175.01 L181.90 175.54 L182.08 176.08 L182.25 176.65 L182.41 177.22 L182.57 177.79 L182.72 178.36 L182.88 178.92 L183.04 179.47 L183.20 180.00 L183.39 180.63 L183.58 181.34 L183.76 182.07 L183.95 182.78 L184.14 183.42 L184.33 183.93 L184.51 184.27 L184.70 184.40 L184.89 184.28 L185.08 183.94 L185.27 183.44 L185.46 182.81 L185.65 182.10 L185.84 181.37 L186.02 180.65 L186.20 180.00 L186.34 179.50 L186.47 178.97 L186.59 178.41 L186.71 177.85 L186.82 177.27 L186.94 176.69 L187.06 176.11 L187.19 175.54 L187.33 174.99 L187.47 174.46 L187.63 173.96 L187.80 173.50 L188.05 172.88 L188.33 172.22 L188.62 171.58 L188.92 170.99 L189.22 170.52 L189.52 170.21 L189.80 170.10 L190.06 170.24 L190.32 170.58 L190.57 171.09 L190.82 171.72 L191.07 172.43 L191.31 173.15 L191.56 173.86 L191.80 174.50 L192.00 175.03 L192.19 175.64 L192.39 176.30 L192.59 176.99 L192.78 177.68 L192.97 178.33 L193.16 178.93 L193.35 179.44 L193.54 179.85 L193.72 180.11 L193.90 180.20 L194.11 180.08 L194.31 179.73 L194.51 179.23 L194.70 178.60 L194.90 177.92 L195.10 177.22 L195.30 176.57 L195.50 176.00 L195.71 175.44 L195.92 174.87 L196.12 174.29 L196.33 173.73 L196.56 173.22 L196.81 172.77 L197.10 172.40 L197.66 171.92 L198.28 171.59 L198.90 171.50 L199.38 171.74 L199.85 172.20 L200.33 172.67 L200.80 172.90 L201.37 172.73 L201.94 172.33 L202.50 172.00 L203.25 171.73 L204.00 171.70 L204.51 171.94 L205.04 172.35 L205.54 172.89 L206.00 173.50 L206.25 173.93 L206.48 174.42 L206.69 174.95 L206.89 175.53 L207.07 176.12 L207.25 176.73 L207.43 177.34 L207.61 177.93 L207.80 178.50 L207.99 179.10 L208.19 179.78 L208.38 180.50 L208.57 181.22 L208.76 181.90 L208.95 182.50 L209.14 182.97 L209.32 183.29 L209.50 183.40 L209.68 183.28 L209.85 182.95 L210.02 182.47 L210.18 181.86 L210.35 181.17 L210.51 180.45 L210.67 179.74 L210.84 179.07 L211.00 178.50 L211.18 177.89 L211.34 177.26 L211.49 176.63 L211.66 176.02 L211.84 175.47 L212.05 174.98 L212.30 174.60 L212.75 174.18 L213.27 173.90 L213.80 173.80 L214.43 174.05 L215.09 174.52 L215.70 174.70 L216.13 174.42 L216.52 173.91 L216.90 173.31 L217.30 172.80 L217.82 172.24 L218.36 171.73 L218.90 171.50 L219.44 171.73 L219.98 172.24 L220.50 172.80 L220.91 173.33 L221.32 173.96 L221.71 174.48 L222.10 174.70 L222.45 174.50 L222.80 174.03 L223.14 173.46 L223.50 173.00 L224.15 172.31 L224.80 172.00 L225.06 172.16 L225.31 172.50 L225.57 172.98 L225.82 173.57 L226.06 174.23 L226.31 174.94 L226.54 175.66 L226.78 176.35 L227.00 177.00 L227.17 177.53 L227.34 178.13 L227.51 178.79 L227.67 179.49 L227.83 180.20 L227.99 180.90 L228.14 181.57 L228.29 182.20 L228.44 182.76 L228.58 183.23 L228.73 183.59 L228.86 183.82 L229.00 183.90 L229.14 183.80 L229.28 183.53 L229.41 183.12 L229.54 182.60 L229.66 181.99 L229.79 181.31 L229.91 180.61 L230.03 179.89 L230.15 179.20 L230.27 178.56 L230.40 178.00 L230.53 177.40 L230.64 176.77 L230.74 176.13 L230.83 175.50 L230.94 174.89 L231.07 174.31 L231.23 173.78 L231.44 173.30 L231.70 172.90 L232.17 172.42 L232.73 172.01 L233.33 171.70 L233.94 171.52 L234.50 171.50 L234.95 171.66 L235.38 171.97 L235.80 172.38 L236.21 172.86 L236.61 173.35 L237.00 173.80 L237.38 174.31 L237.75 174.92 L238.10 175.54 L238.45 176.08 L238.78 176.47 L239.10 176.60 L239.41 176.42 L239.69 175.98 L239.97 175.37 L240.24 174.69 L240.52 174.04 L240.80 173.50 L241.17 172.86 L241.55 172.20 L241.93 171.69 L242.30 171.50 L242.56 171.64 L242.81 171.99 L243.06 172.49 L243.31 173.10 L243.55 173.75 L243.78 174.40 L244.00 175.00 L244.19 175.51 L244.37 176.04 L244.54 176.59 L244.70 177.15 L244.86 177.72 L245.02 178.30 L245.18 178.87 L245.34 179.44 L245.50 180.00 L245.64 179.44 L245.78 178.86 L245.91 178.28 L246.05 177.70 L246.19 177.13 L246.33 176.56 L246.48 176.02 L246.63 175.49 L246.80 175.00 L247.00 174.42 L247.20 173.84 L247.41 173.28 L247.64 172.77 L247.90 172.34 L248.20 172.00 L248.75 171.64 L249.38 171.45 L250.00 171.50 L250.39 171.71 L250.79 172.08 L251.18 172.57 L251.58 173.12 L251.96 173.69 L252.34 174.23 L252.70 174.70 L253.10 175.26 L253.49 175.88 L253.87 176.46 L254.23 176.86 L254.60 177.00 L254.88 176.81 L255.17 176.34 L255.44 175.70 L255.72 174.96 L255.99 174.22 L256.26 173.57 L256.53 173.10 L256.80 172.90 L257.25 173.21 L257.70 173.89 L258.20 174.30 L258.80 174.16 L259.44 173.74 L260.10 173.30 L260.63 172.93 L261.17 172.49 L261.72 172.13 L262.30 172.00 L262.75 172.09 L263.23 172.30 L263.73 172.61 L264.23 172.99 L264.72 173.41 L265.18 173.86 L265.60 174.30 L265.96 174.73 L266.29 175.21 L266.59 175.72 L266.88 176.25 L267.15 176.79 L267.43 177.34 L267.71 177.88 L268.00 178.40 L268.23 177.82 L268.44 177.20 L268.64 176.54 L268.84 175.88 L269.04 175.21 L269.25 174.58 L269.47 173.98 L269.71 173.45 L269.97 173.00 L270.27 172.64 L270.60 172.40 L271.13 172.28 L271.72 172.36 L272.36 172.58 L273.01 172.85 L273.67 173.12 L274.30 173.30 L274.92 173.37 L275.56 173.38 L276.20 173.38 L276.81 173.42 L277.39 173.54 L277.90 173.80 L278.25 174.12 L278.56 174.53 L278.83 175.01 L279.07 175.55 L279.30 176.12 L279.51 176.71 L279.73 177.29 L279.96 177.87 L280.20 178.40 L280.37 177.83 L280.53 177.20 L280.69 176.53 L280.85 175.84 L281.00 175.15 L281.16 174.48 L281.32 173.85 L281.49 173.28 L281.67 172.79 L281.87 172.40 L282.08 172.13 L282.30 172.00 L282.71 172.15 L283.14 172.66 L283.60 173.33 L284.09 173.94 L284.60 174.30 L285.25 174.30 L285.94 174.07 L286.64 173.83 L287.30 173.80 L287.80 174.08 L288.27 174.56 L288.73 175.08 L289.17 175.48 L289.60 175.60 L289.95 175.36 L290.28 174.84 L290.59 174.15 L290.90 173.41 L291.21 172.73 L291.54 172.22 L291.90 172.00 L292.27 172.10 L292.65 172.42 L293.05 172.90 L293.45 173.44 L293.87 173.98 L294.28 174.42 L294.70 174.70 L295.27 174.86 L295.84 174.90 L296.42 174.84 L297.00 174.70 L297.54 174.44 L298.07 174.03 L298.60 173.58 L299.14 173.17 L299.70 172.90 L300.25 172.76 L300.81 172.68 L301.38 172.66 L301.95 172.73 L302.50 172.90 L302.93 173.18 L303.35 173.61 L303.77 174.15 L304.18 174.72 L304.58 175.26 L304.97 175.71 L305.34 176.01 L305.70 176.10 L306.07 175.87 L306.40 175.35 L306.72 174.64 L307.02 173.88 L307.33 173.18 L307.65 172.64 L308.00 172.40 L308.44 172.55 L308.90 173.00 L309.37 173.57 L309.84 174.07 L310.30 174.30 L310.93 174.04 L311.54 173.51 L312.10 173.30 L312.50 173.73 L312.84 174.51 L313.16 175.27 L313.50 175.60 L313.78 175.37 L314.06 174.79 L314.35 174.03 L314.64 173.27 L314.96 172.67 L315.30 172.40 L315.72 172.59 L316.16 173.14 L316.63 173.82 L317.11 174.41 L317.60 174.70 L318.06 174.64 L318.54 174.38 L319.03 174.02 L319.52 173.63 L320.00 173.30 L320.28 173.12 L320.56 172.98 L320.84 172.90 L321.12 172.88 L321.40 172.92 L321.68 173.01 L321.96 173.16 L322.24 173.36 L322.52 173.61 L322.80 173.88 L323.08 174.19 L323.36 174.52 L323.64 174.87 L323.92 175.22 L324.20 175.56 L324.48 175.87 L324.76 175.91 L325.04 175.61 L325.32 175.27 L325.60 174.91 L325.88 174.55 L326.16 174.21 L326.44 173.90 L326.72 173.62 L327.00 173.39 L327.28 173.21 L327.56 173.08 L327.84 173.01 L328.12 173.00 L328.40 173.06 L328.68 173.17 L328.96 173.34 L329.24 173.56 L329.52 173.83 L329.80 174.13 L330.08 174.46 L330.36 174.81 L330.64 175.15 L330.92 175.49 L331.20 175.78 L331.48 175.69 L331.76 175.38 L332.04 175.03 L332.32 174.67 L332.60 174.33 L332.88 174.01 L333.16 173.72 L333.44 173.47 L333.72 173.28 L334.00 173.14 L334.28 173.07 L334.56 173.06 L334.84 173.11 L335.12 173.23 L335.40 173.40 L335.68 173.63 L335.96 173.90 L336.24 174.21 L336.52 174.54 L336.80 174.89 L337.08 175.23 L337.36 175.54 L337.64 175.65 L337.92 175.35 L338.20 175.01 L338.48 174.66 L338.76 174.32 L339.04 174.00 L339.32 173.72 L339.60 173.48 L339.88 173.29 L340.16 173.17 L340.44 173.11 L340.72 173.12 L341.00 173.19 L341.28 173.33 L341.56 173.53 L341.84 173.77 L342.12 174.06 L342.40 174.38 L342.68 174.72 L342.96 175.06 L343.24 175.37 L343.52 175.54 L343.80 175.26 L344.08 174.92 L344.36 174.58 L344.64 174.25 L344.92 173.94 L345.20 173.67 L345.48 173.44 L345.76 173.28 L346.04 173.18 L346.32 173.15 L346.60 173.19 L346.88 173.30 L347.16 173.47 L347.44 173.70 L347.72 173.97 L348.00 174.28 L348.28 174.60 L348.56 174.93 L348.84 175.24 L349.12 175.41 L349.40 175.13 L349.68 174.81 L349.96 174.47 L350.24 174.15 L350.52 173.85 L350.80 173.60 L351.08 173.40 L351.36 173.27 L351.64 173.20 L351.92 173.21 L352.20 173.29 L352.48 173.43 L352.76 173.63 L353.04 173.89 L353.32 174.18 L353.60 174.50 L353.88 174.82 L354.16 175.12 L354.44 175.29 L354.72 175.02 L355.00 174.70 L355.28 174.37 L355.56 174.06 L355.84 173.78 L356.12 173.55 L356.40 173.38 L356.68 173.28 L356.96 173.24 L357.24 173.28 L357.52 173.39 L357.80 173.56 L358.08 173.79 L358.36 174.07 L358.64 174.37 L358.92 174.68 L359.20 174.98 L359.48 175.20 L359.76 174.94 L360.04 174.63 L360.32 174.31 L360.60 174.01 L360.88 173.75 L361.16 173.54 L361.44 173.38 L361.72 173.30 L362.00 173.29 L362.28 173.35 L362.56 173.48 L362.84 173.68 L363.12 173.92 L363.40 174.20 L363.68 174.50 L363.96 174.80 L364.24 175.06 L364.52 174.92 L364.80 174.63 L365.08 174.32 L365.36 174.03 L365.64 173.77 L365.92 173.56 L366.20 173.41 L366.48 173.33 L366.76 173.32 L367.04 173.39 L367.32 173.54 L367.60 173.75 L367.88 174.00 L368.16 174.30 L368.44 174.60 L368.72 174.89 L369.00 175.01 L369.28 174.74 L369.56 174.44 L369.84 174.13 L370.12 173.86 L370.40 173.63 L370.68 173.46 L370.96 173.36 L371.24 173.34 L371.52 173.40 L371.80 173.54 L372.08 173.75 L372.36 174.01 L372.64 174.30 L372.92 174.61 L373.20 174.90 L373.48 174.93 L373.76 174.65 L374.04 174.34 L374.32 174.04 L374.60 173.78 L374.88 173.57 L375.16 173.43 L375.44 173.37 L375.72 173.39 L376.00 173.49 L376.28 173.67 L376.56 173.91 L376.84 174.20 L377.12 174.51 L377.40 174.80 L377.68 174.95 L377.96 174.67 L378.24 174.36 L378.52 174.06 L378.80 173.79 L379.08 173.58 L379.36 173.44 L379.64 173.39 L379.92 173.42 L380.20 173.54 L380.48 173.73 L380.76 173.98 L381.04 174.28 L381.32 174.59 L381.60 174.87 L381.88 174.81 L382.16 174.52 L382.44 174.21 L382.72 173.92 L383.00 173.68 L383.28 173.51 L383.56 173.42 L383.84 173.42 L384.12 173.51 L384.40 173.69 L384.68 173.93 L384.96 174.22 L385.24 174.53 L385.52 174.82 L385.80 174.80 L386.08 174.51 L386.36 174.20 L386.64 173.91 L386.92 173.67 L387.20 173.51 L387.48 173.44 L387.76 173.45 L388.04 173.56 L388.32 173.76 L388.60 174.02 L388.88 174.32 L389.16 174.62 L389.44 174.88 L389.72 174.65 L390.00 174.34 L390.28 174.04 L390.56 173.78 L390.84 173.58 L391.12 173.47 L391.40 173.46 L391.68 173.54 L391.96 173.71 L392.24 173.96 L392.52 174.25 L392.80 174.56 L393.08 174.83 L393.36 174.65 L393.64 174.34 L393.92 174.04 L394.20 173.78 L394.48 173.59 L394.76 173.49 L395.04 173.48 L395.32 173.58 L395.60 173.77 L395.88 174.02 L396.16 174.32 L396.44 174.63 L396.72 174.79 L397.00 174.52 L397.28 174.21 L397.56 173.92 L397.84 173.69 L398.12 173.54 L398.40 173.49 L398.68 173.54 L398.96 173.70 L399.24 173.93 L399.52 174.22 L399.80 174.52 L400.08 174.79 L400.36 174.57 L400.64 174.26 L400.92 173.97 L401.20 173.73 L401.48 173.57 L401.76 173.51 L402.04 173.56 L402.32 173.71 L402.60 173.94 L402.88 174.23 L403.16 174.53 L403.44 174.77 L403.72 174.50 L404.00 174.19 L404.28 173.91 L404.56 173.69 L404.84 173.56 L405.12 173.53 L405.40 173.61 L405.68 173.79 L405.96 174.05 L406.24 174.35 L406.52 174.64 L406.80 174.62 L407.08 174.33 L407.36 174.03 L407.64 173.78 L407.92 173.61 L408.20 173.55 L408.48 173.59 L408.76 173.74 L409.04 173.98 L409.32 174.27 L409.60 174.57 L409.88 174.64 L410.16 174.36 L410.44 174.06 L410.72 173.80 L411.00 173.63 L411.28 173.56 L411.56 173.61 L411.84 173.76 L412.12 174.00 L412.40 174.29 L412.68 174.58 L412.96 174.58 L413.24 174.29 L413.52 174.00 L413.80 173.76 L414.08 173.62 L414.36 173.58 L414.64 173.66 L414.92 173.84 L415.20 174.10 L415.48 174.40 L415.76 174.66 L416.04 174.43 L416.32 174.14 L416.60 173.87 L416.88 173.68 L417.16 173.60 L417.44 173.63 L417.72 173.78 L418.00 174.01 L418.28 174.30 L418.56 174.58 L418.84 174.49 L419.12 174.20 L419.40 173.92 L419.68 173.72 L419.96 173.62 L420.24 173.64 L420.52 173.77 L420.80 174.00 L421.08 174.28 L421.36 174.55 L421.64 174.47 L421.92 174.18 L422.20 173.91 L422.48 173.72 L422.76 173.63 L423.04 173.66 L423.32 173.81 L423.60 174.05 L423.88 174.33 L424.16 174.59 L424.44 174.37 L424.72 174.09 L425.00 173.84 L425.28 173.69 L425.56 173.64 L425.84 173.72 L426.12 173.91 L426.40 174.17 L426.68 174.45 L426.96 174.49 L427.24 174.21 L427.52 173.95 L427.80 173.75 L428.08 173.66 L428.36 173.69 L428.64 173.84 L428.92 174.08 L429.20 174.36 L429.48 174.53 L429.76 174.27 L430.04 174.00 L430.32 173.79 L430.60 173.68 L430.88 173.69 L431.16 173.83 L431.44 174.05 L431.72 174.32 L432.00 174.52 L432.28 174.27 L432.56 174.00 L432.84 173.79 L433.12 173.69 L433.40 173.71 L433.68 173.85 L433.96 174.08 L434.24 174.35 L434.52 174.46 L434.80 174.21 L435.08 173.95 L435.36 173.77 L435.64 173.70 L435.92 173.75 L436.20 173.92 L436.48 174.17 L436.76 174.43" stroke="#808080" stroke-width="1.65"/>
<path d="M103.40 188.50 L103.64 189.05 L103.89 189.61 L104.13 190.16 L104.37 190.71 L104.61 191.27 L104.86 191.82 L105.10 192.38 L105.35 192.94 L105.60 193.50 L105.84 194.03 L106.08 194.57 L106.32 195.11 L106.57 195.65 L106.81 196.20 L107.06 196.74 L107.30 197.27 L107.54 197.80 L107.77 198.31 L108.00 198.80 L108.26 199.39 L108.51 199.99 L108.76 200.58 L109.00 201.15 L109.25 201.68 L109.51 202.17 L109.80 202.60 L110.20 203.11 L110.62 203.59 L111.06 203.94 L111.50 204.10 L112.09 203.97 L112.70 203.56 L113.30 203.00 L113.61 202.65 L113.91 202.22 L114.21 201.73 L114.51 201.21 L114.80 200.66 L115.10 200.10 L115.40 199.56 L115.70 199.06 L116.00 198.60 L116.38 198.07 L116.75 197.55 L117.13 197.06 L117.51 196.59 L117.90 196.17 L118.30 195.80 L118.81 195.37 L119.34 194.97 L119.88 194.69 L120.40 194.60 L120.94 194.78 L121.48 195.17 L122.01 195.71 L122.50 196.30 L122.78 196.69 L123.05 197.13 L123.31 197.60 L123.56 198.11 L123.81 198.64 L124.04 199.19 L124.27 199.76 L124.49 200.33 L124.70 200.90 L124.88 201.41 L125.05 201.94 L125.22 202.49 L125.38 203.05 L125.53 203.62 L125.68 204.20 L125.82 204.78 L125.97 205.35 L126.10 205.92 L126.24 206.47 L126.37 206.99 L126.50 207.50 L126.65 208.08 L126.80 208.62 L126.94 209.14 L127.07 209.66 L127.20 210.17 L127.33 210.69 L127.46 211.23 L127.60 211.80 L127.72 212.30 L127.84 212.81 L127.95 213.32 L128.07 213.83 L128.19 214.36 L128.30 214.90 L128.42 215.45 L128.54 216.03 L128.66 216.62 L128.78 217.25 L128.90 217.90 L128.98 218.35 L129.06 218.81 L129.14 219.28 L129.23 219.76 L129.31 220.26 L129.40 220.76 L129.48 221.28 L129.57 221.81 L129.65 222.34 L129.74 222.89 L129.82 223.44 L129.91 224.00 L130.00 224.57 L130.08 225.14 L130.17 225.72 L130.26 226.30 L130.34 226.89 L130.43 227.48 L130.51 228.08 L130.59 228.68 L130.68 229.28 L130.76 229.88 L130.84 230.49 L130.92 231.09 L131.00 231.70 L131.06 232.20 L131.13 232.70 L131.19 233.21 L131.26 233.73 L131.32 234.25 L131.38 234.78 L131.44 235.31 L131.51 235.84 L131.57 236.38 L131.63 236.92 L131.69 237.47 L131.75 238.02 L131.81 238.57 L131.87 239.13 L131.93 239.68 L132.00 240.24 L132.05 240.81 L132.11 241.37 L132.17 241.93 L132.23 242.50 L132.29 243.07 L132.35 243.63 L132.41 244.20 L132.47 244.77 L132.52 245.33 L132.58 245.90 L132.64 246.46 L132.70 247.03 L132.75 247.59 L132.81 248.15 L132.87 248.71 L132.92 249.26 L132.98 249.82 L133.03 250.37 L133.09 250.92 L133.14 251.46 L133.20 252.00 L133.26 252.56 L133.31 253.12 L133.37 253.68 L133.43 254.24 L133.48 254.80 L133.54 255.36 L133.59 255.92 L133.64 256.47 L133.70 257.03 L133.75 257.58 L133.81 258.13 L133.86 258.69 L133.91 259.24 L133.96 259.79 L134.02 260.34 L134.07 260.89 L134.12 261.44 L134.17 261.99 L134.22 262.54 L134.27 263.09 L134.33 263.64 L134.38 264.19 L134.43 264.74 L134.48 265.29 L134.53 265.84 L134.58 266.39 L134.63 266.94 L134.69 267.49 L134.74 268.04 L134.79 268.59 L134.84 269.14 L134.89 269.70 L134.95 270.25 L135.00 270.80 L135.06 270.24 L135.13 269.68 L135.19 269.12 L135.25 268.57 L135.31 268.01 L135.37 267.46 L135.44 266.90 L135.50 266.35 L135.56 265.79 L135.62 265.24 L135.68 264.68 L135.74 264.13 L135.81 263.57 L135.87 263.02 L135.93 262.46 L135.99 261.91 L136.05 261.35 L136.12 260.79 L136.18 260.23 L136.24 259.68 L136.30 259.11 L136.37 258.55 L136.43 257.99 L136.50 257.43 L136.56 256.86 L136.63 256.29 L136.70 255.72 L136.76 255.15 L136.83 254.58 L136.90 254.00 L136.97 253.46 L137.03 252.92 L137.10 252.38 L137.17 251.84 L137.24 251.30 L137.31 250.76 L137.38 250.22 L137.45 249.67 L137.52 249.13 L137.59 248.59 L137.66 248.05 L137.73 247.50 L137.81 246.96 L137.88 246.41 L137.95 245.87 L138.03 245.32 L138.10 244.77 L138.17 244.21 L138.25 243.66 L138.32 243.10 L138.39 242.54 L138.47 241.98 L138.54 241.42 L138.61 240.85 L138.68 240.28 L138.75 239.71 L138.83 239.13 L138.90 238.55 L138.97 237.97 L139.03 237.38 L139.10 236.79 L139.17 236.20 L139.23 235.60 L139.30 235.00 L139.35 234.48 L139.41 233.96 L139.46 233.43 L139.51 232.89 L139.55 232.35 L139.60 231.80 L139.64 231.25 L139.69 230.69 L139.73 230.12 L139.77 229.55 L139.81 228.98 L139.85 228.40 L139.89 227.82 L139.93 227.24 L139.97 226.65 L140.00 226.07 L140.04 225.48 L140.08 224.89 L140.12 224.29 L140.15 223.70 L140.19 223.11 L140.23 222.52 L140.27 221.92 L140.31 221.33 L140.35 220.74 L140.39 220.15 L140.43 219.57 L140.47 218.98 L140.52 218.40 L140.56 217.82 L140.61 217.24 L140.65 216.67 L140.70 216.10 L140.75 215.54 L140.80 214.98 L140.86 214.43 L140.91 213.88 L140.97 213.34 L141.03 212.81 L141.09 212.28 L141.16 211.76 L141.23 211.24 L141.29 210.74 L141.37 210.24 L141.44 209.75 L141.52 209.27 L141.60 208.80 L141.72 208.15 L141.83 207.51 L141.95 206.87 L142.07 206.23 L142.20 205.59 L142.32 204.96 L142.45 204.33 L142.59 203.71 L142.72 203.10 L142.86 202.49 L143.00 201.90 L143.14 201.31 L143.29 200.73 L143.44 200.17 L143.59 199.62 L143.75 199.08 L143.90 198.56 L144.07 198.05 L144.23 197.56 L144.40 197.08 L144.57 196.63 L144.75 196.19 L144.93 195.77 L145.11 195.38 L145.30 195.00 L145.65 194.33 L146.03 193.66 L146.41 193.03 L146.81 192.45 L147.21 191.96 L147.61 191.59 L148.01 191.36 L148.40 191.30 L148.68 191.39 L148.95 191.59 L149.23 191.89 L149.50 192.28 L149.78 192.75 L150.05 193.28 L150.33 193.86 L150.60 194.49 L150.88 195.14 L151.15 195.81 L151.42 196.48 L151.69 197.15 L151.96 197.80 L152.23 198.42 L152.50 199.00 L152.74 199.52 L152.97 200.09 L153.21 200.71 L153.45 201.36 L153.69 202.03 L153.93 202.73 L154.16 203.43 L154.40 204.13 L154.64 204.81 L154.87 205.48 L155.10 206.12 L155.33 206.71 L155.56 207.26 L155.79 207.75 L156.02 208.17 L156.24 208.52 L156.46 208.78 L156.68 208.94 L156.90 209.00 L157.15 208.93 L157.40 208.71 L157.64 208.38 L157.87 207.94 L158.11 207.42 L158.34 206.84 L158.57 206.21 L158.80 205.55 L159.04 204.88 L159.27 204.22 L159.51 203.59 L159.75 203.01 L160.00 202.50 L160.28 201.93 L160.57 201.31 L160.87 200.64 L161.17 199.97 L161.47 199.31 L161.77 198.68 L162.07 198.12 L162.36 197.65 L162.65 197.29 L162.93 197.06 L163.20 197.00 L163.40 197.07 L163.59 197.23 L163.77 197.48 L163.96 197.80 L164.14 198.19 L164.31 198.65 L164.49 199.16 L164.66 199.72 L164.83 200.32 L164.99 200.96 L165.16 201.62 L165.33 202.30 L165.49 202.99 L165.66 203.69 L165.83 204.39 L165.99 205.07 L166.16 205.74 L166.33 206.39 L166.50 207.00 L166.64 207.50 L166.78 208.04 L166.92 208.62 L167.06 209.23 L167.20 209.87 L167.34 210.54 L167.48 211.23 L167.62 211.93 L167.76 212.65 L167.90 213.38 L168.04 214.11 L168.17 214.84 L168.31 215.57 L168.45 216.29 L168.59 217.00 L168.73 217.69 L168.87 218.36 L169.01 219.01 L169.14 219.63 L169.28 220.22 L169.42 220.77 L169.55 221.28 L169.69 221.74 L169.82 222.16 L169.95 222.52 L170.08 222.83 L170.21 223.07 L170.34 223.25 L170.47 223.36 L170.60 223.40 L170.73 223.36 L170.86 223.24 L170.98 223.05 L171.11 222.78 L171.23 222.46 L171.35 222.07 L171.47 221.64 L171.59 221.15 L171.70 220.61 L171.82 220.04 L171.94 219.43 L172.05 218.78 L172.17 218.12 L172.28 217.42 L172.40 216.71 L172.51 215.99 L172.63 215.26 L172.75 214.53 L172.86 213.80 L172.98 213.07 L173.10 212.35 L173.23 211.65 L173.35 210.96 L173.47 210.30 L173.60 209.67 L173.73 209.08 L173.86 208.52 L174.00 208.00 L174.16 207.42 L174.32 206.83 L174.48 206.25 L174.64 205.66 L174.80 205.08 L174.96 204.50 L175.12 203.92 L175.28 203.35 L175.44 202.79 L175.61 202.23 L175.78 201.69 L175.95 201.16 L176.13 200.64 L176.31 200.13 L176.50 199.65 L176.69 199.18 L176.88 198.72 L177.08 198.29 L177.29 197.89 L177.50 197.50 L177.87 196.87 L178.26 196.23 L178.66 195.61 L179.07 195.04 L179.49 194.55 L179.90 194.18 L180.31 193.95 L180.70 193.90 L180.98 193.99 L181.27 194.20 L181.55 194.51 L181.83 194.91 L182.11 195.38 L182.38 195.91 L182.66 196.50 L182.93 197.12 L183.20 197.78 L183.46 198.44 L183.73 199.11 L183.99 199.77 L184.25 200.40 L184.50 201.00 L184.70 201.50 L184.91 202.06 L185.11 202.66 L185.31 203.30 L185.51 203.98 L185.70 204.68 L185.90 205.39 L186.09 206.11 L186.28 206.83 L186.47 207.54 L186.66 208.23 L186.84 208.89 L187.02 209.52 L187.20 210.10 L187.38 210.64 L187.56 211.11 L187.73 211.52 L187.90 211.85 L188.07 212.09 L188.24 212.25 L188.40 212.30 L188.60 212.21 L188.80 211.96 L188.98 211.57 L189.16 211.06 L189.34 210.46 L189.51 209.79 L189.68 209.07 L189.85 208.33 L190.03 207.58 L190.21 206.85 L190.40 206.16 L190.59 205.54 L190.80 205.00 L191.06 204.39 L191.33 203.74 L191.61 203.07 L191.89 202.42 L192.18 201.81 L192.47 201.29 L192.75 200.87 L193.03 200.60 L193.30 200.50 L193.60 200.63 L193.89 200.98 L194.19 201.49 L194.47 202.10 L194.76 202.77 L195.03 203.42 L195.30 204.00 L195.54 204.55 L195.77 205.19 L196.00 205.87 L196.22 206.54 L196.44 207.15 L196.66 207.65 L196.88 207.98 L197.10 208.10 L197.31 207.97 L197.52 207.63 L197.72 207.12 L197.92 206.49 L198.13 205.77 L198.33 205.02 L198.55 204.28 L198.77 203.59 L199.00 203.00 L199.25 202.44 L199.51 201.87 L199.78 201.30 L200.05 200.74 L200.33 200.21 L200.61 199.72 L200.90 199.28 L201.20 198.90 L201.74 198.37 L202.29 197.97 L202.90 197.70 L203.44 197.58 L204.02 197.53 L204.62 197.55 L205.20 197.60 L205.80 197.66 L206.41 197.75 L206.99 197.92 L207.50 198.20 L207.88 198.58 L208.20 199.05 L208.48 199.60 L208.74 200.19 L209.00 200.80 L209.20 201.29 L209.39 201.80 L209.56 202.35 L209.74 202.91 L209.90 203.48 L210.07 204.05 L210.23 204.63 L210.40 205.20 L210.56 205.73 L210.71 206.26 L210.87 206.80 L211.02 207.35 L211.17 207.89 L211.32 208.43 L211.48 208.97 L211.64 209.49 L211.80 210.00 L211.99 210.65 L212.19 211.38 L212.39 212.11 L212.59 212.80 L212.79 213.37 L213.00 213.76 L213.20 213.90 L213.38 213.79 L213.55 213.47 L213.73 213.00 L213.90 212.41 L214.08 211.73 L214.26 211.02 L214.44 210.30 L214.62 209.61 L214.80 209.00 L214.97 208.46 L215.14 207.90 L215.30 207.33 L215.46 206.75 L215.63 206.17 L215.80 205.61 L215.98 205.05 L216.17 204.51 L216.38 203.99 L216.60 203.50 L216.90 202.93 L217.21 202.39 L217.54 201.87 L217.88 201.37 L218.24 200.89 L218.62 200.44 L219.00 200.00 L219.44 199.51 L219.91 199.01 L220.40 198.52 L220.89 198.11 L221.36 197.82 L221.80 197.70 L222.40 197.87 L222.96 198.30 L223.50 198.80 L223.94 199.31 L224.35 199.93 L224.77 200.49 L225.20 200.80 L225.89 200.73 L226.60 200.40 L227.11 200.04 L227.62 199.63 L228.10 199.50 L228.44 199.71 L228.75 200.13 L229.05 200.70 L229.33 201.34 L229.60 202.00 L229.76 202.43 L229.91 202.90 L230.06 203.41 L230.19 203.95 L230.32 204.51 L230.45 205.08 L230.57 205.67 L230.69 206.26 L230.82 206.84 L230.94 207.42 L231.07 207.97 L231.20 208.50 L231.35 209.11 L231.50 209.79 L231.65 210.50 L231.80 211.22 L231.95 211.91 L232.10 212.54 L232.25 213.09 L232.40 213.52 L232.55 213.80 L232.70 213.90 L232.84 213.81 L232.99 213.55 L233.13 213.16 L233.28 212.64 L233.43 212.05 L233.57 211.38 L233.72 210.68 L233.87 209.97 L234.01 209.26 L234.16 208.60 L234.30 208.00 L234.43 207.48 L234.55 206.94 L234.67 206.38 L234.79 205.82 L234.90 205.26 L235.02 204.69 L235.14 204.13 L235.26 203.57 L235.39 203.02 L235.53 202.48 L235.68 201.97 L235.83 201.47 L236.00 201.00 L236.24 200.37 L236.49 199.69 L236.76 199.02 L237.03 198.37 L237.32 197.80 L237.61 197.34 L237.90 197.02 L238.20 196.90 L238.53 197.01 L238.87 197.35 L239.21 197.85 L239.56 198.46 L239.91 199.11 L240.26 199.74 L240.60 200.30 L240.91 200.80 L241.21 201.37 L241.52 201.97 L241.82 202.56 L242.12 203.10 L242.42 203.55 L242.71 203.86 L243.00 204.00 L243.51 203.76 L244.01 203.17 L244.50 202.60 L244.95 202.12 L245.39 201.66 L245.80 201.50 L246.06 201.69 L246.31 202.09 L246.54 202.64 L246.76 203.26 L246.98 203.91 L247.20 204.50 L247.40 205.12 L247.59 205.86 L247.78 206.64 L247.96 207.38 L248.15 208.00 L248.36 208.44 L248.60 208.60 L248.74 208.53 L248.89 208.33 L249.05 208.02 L249.21 207.60 L249.38 207.09 L249.56 206.50 L249.74 205.85 L249.92 205.14 L250.11 204.40 L250.31 203.63 L250.51 202.84 L250.70 202.05 L250.90 201.27 L251.11 200.52 L251.31 199.80 L251.51 199.14 L251.72 198.53 L251.92 198.01 L252.12 197.56 L252.31 197.23 L252.51 197.00 L252.70 196.90 L253.08 196.99 L253.46 197.33 L253.85 197.85 L254.23 198.48 L254.62 199.16 L255.00 199.80 L255.25 200.24 L255.49 200.76 L255.73 201.35 L255.97 201.99 L256.21 202.64 L256.45 203.30 L256.69 203.95 L256.93 204.55 L257.18 205.10 L257.43 205.57 L257.68 205.94 L257.94 206.19 L258.20 206.30 L258.59 206.19 L258.98 205.82 L259.38 205.27 L259.79 204.64 L260.20 204.01 L260.60 203.46 L261.00 203.10 L261.60 202.89 L262.19 202.82 L262.80 202.60 L263.14 202.29 L263.49 201.84 L263.85 201.29 L264.21 200.70 L264.58 200.11 L264.94 199.56 L265.30 199.12 L265.65 198.81 L266.00 198.70 L266.36 198.79 L266.73 199.04 L267.09 199.42 L267.44 199.89 L267.80 200.43 L268.14 201.00 L268.48 201.56 L268.80 202.10 L269.07 202.61 L269.34 203.23 L269.59 203.92 L269.83 204.64 L270.07 205.37 L270.30 206.08 L270.53 206.73 L270.77 207.28 L271.00 207.72 L271.25 208.00 L271.50 208.10 L271.69 208.02 L271.88 207.79 L272.07 207.43 L272.26 206.96 L272.45 206.40 L272.64 205.76 L272.82 205.06 L273.02 204.33 L273.21 203.57 L273.41 202.81 L273.61 202.06 L273.81 201.35 L274.03 200.68 L274.25 200.08 L274.47 199.56 L274.71 199.15 L274.95 198.86 L275.20 198.70 L275.69 198.71 L276.22 198.98 L276.76 199.42 L277.31 199.93 L277.86 200.42 L278.40 200.80 L278.99 201.06 L279.59 201.26 L280.18 201.46 L280.72 201.72 L281.20 202.10 L281.51 202.58 L281.75 203.23 L281.96 203.99 L282.14 204.77 L282.31 205.50 L282.48 206.12 L282.67 206.54 L282.90 206.70 L283.07 206.60 L283.26 206.33 L283.44 205.91 L283.63 205.36 L283.83 204.70 L284.03 203.98 L284.24 203.20 L284.45 202.39 L284.66 201.58 L284.88 200.80 L285.09 200.06 L285.31 199.40 L285.53 198.84 L285.76 198.40 L285.98 198.11 L286.20 198.00 L286.49 198.11 L286.77 198.44 L287.07 198.95 L287.36 199.59 L287.66 200.29 L287.96 201.02 L288.26 201.72 L288.57 202.33 L288.88 202.81 L289.20 203.10 L289.79 203.22 L290.39 203.12 L291.00 203.10 L291.57 203.34 L292.16 203.70 L292.75 203.99 L293.30 204.00 L293.62 203.75 L293.91 203.30 L294.19 202.68 L294.46 201.97 L294.72 201.21 L294.98 200.47 L295.25 199.79 L295.52 199.23 L295.80 198.85 L296.10 198.70 L296.38 198.80 L296.66 199.10 L296.96 199.56 L297.26 200.15 L297.56 200.81 L297.87 201.51 L298.18 202.22 L298.49 202.89 L298.80 203.48 L299.10 203.96 L299.41 204.28 L299.70 204.40 L300.05 204.29 L300.40 203.98 L300.74 203.51 L301.07 202.94 L301.42 202.33 L301.76 201.73 L302.12 201.20 L302.50 200.80 L303.02 200.37 L303.56 199.94 L304.11 199.60 L304.66 199.39 L305.20 199.40 L305.52 199.58 L305.85 199.93 L306.17 200.41 L306.49 200.99 L306.81 201.63 L307.13 202.31 L307.44 202.97 L307.75 203.58 L308.05 204.12 L308.34 204.54 L308.62 204.82 L308.90 204.90 L309.16 204.77 L309.41 204.44 L309.65 203.95 L309.88 203.34 L310.11 202.66 L310.33 201.93 L310.55 201.20 L310.77 200.51 L310.99 199.90 L311.22 199.40 L311.45 199.05 L311.70 198.90 L312.12 199.01 L312.55 199.42 L312.99 199.99 L313.44 200.63 L313.90 201.20 L314.29 201.69 L314.70 202.28 L315.12 202.91 L315.54 203.50 L315.95 203.99 L316.34 204.31 L316.70 204.40 L316.97 204.22 L317.21 203.82 L317.44 203.24 L317.66 202.55 L317.86 201.79 L318.07 201.03 L318.28 200.31 L318.50 199.70 L318.74 199.24 L319.00 199.00 L319.51 199.02 L320.06 199.31 L320.60 199.60 L320.88 199.36 L321.16 199.25 L321.44 199.30 L321.72 199.48 L322.00 199.80 L322.28 200.24 L322.56 200.78 L322.84 201.39 L323.12 202.05 L323.40 202.75 L323.68 203.41 L323.96 204.02 L324.24 204.51 L324.52 204.83 L324.80 204.81 L325.08 204.45 L325.36 203.93 L325.64 203.31 L325.92 202.62 L326.20 201.92 L326.48 201.23 L326.76 200.59 L327.04 200.04 L327.32 199.60 L327.60 199.29 L327.88 199.13 L328.16 199.13 L328.44 199.29 L328.72 199.60 L329.00 200.05 L329.28 200.61 L329.56 201.25 L329.84 201.95 L330.12 202.66 L330.40 203.34 L330.68 203.95 L330.96 204.43 L331.24 204.72 L331.52 204.58 L331.80 204.15 L332.08 203.58 L332.36 202.91 L332.64 202.20 L332.92 201.48 L333.20 200.81 L333.48 200.22 L333.76 199.74 L334.04 199.41 L334.32 199.23 L334.60 199.23 L334.88 199.39 L335.16 199.72 L335.44 200.19 L335.72 200.78 L336.00 201.45 L336.28 202.17 L336.56 202.89 L336.84 203.55 L337.12 204.11 L337.40 204.50 L337.68 204.53 L337.96 204.16 L338.24 203.61 L338.52 202.94 L338.80 202.22 L339.08 201.50 L339.36 200.81 L339.64 200.22 L339.92 199.75 L340.20 199.44 L340.48 199.30 L340.76 199.34 L341.04 199.57 L341.32 199.97 L341.60 200.50 L341.88 201.15 L342.16 201.86 L342.44 202.60 L342.72 203.29 L343.00 203.89 L343.28 204.32 L343.56 204.41 L343.84 204.06 L344.12 203.50 L344.40 202.83 L344.68 202.09 L344.96 201.36 L345.24 200.69 L345.52 200.12 L345.80 199.69 L346.08 199.44 L346.36 199.38 L346.64 199.52 L346.92 199.84 L347.20 200.33 L347.48 200.95 L347.76 201.66 L348.04 202.40 L348.32 203.11 L348.60 203.73 L348.88 204.18 L349.16 204.28 L349.44 203.92 L349.72 203.34 L350.00 202.64 L350.28 201.90 L350.56 201.17 L350.84 200.52 L351.12 199.99 L351.40 199.63 L351.68 199.46 L351.96 199.51 L352.24 199.75 L352.52 200.19 L352.80 200.78 L353.08 201.47 L353.36 202.22 L353.64 202.94 L353.92 203.58 L354.20 204.05 L354.48 204.16 L354.76 203.78 L355.04 203.19 L355.32 202.47 L355.60 201.72 L355.88 201.00 L356.16 200.37 L356.44 199.89 L356.72 199.61 L357.00 199.53 L357.28 199.68 L357.56 200.03 L357.84 200.57 L358.12 201.23 L358.40 201.97 L358.68 202.72 L358.96 203.39 L359.24 203.89 L359.52 204.06 L359.80 203.70 L360.08 203.10 L360.36 202.39 L360.64 201.63 L360.92 200.91 L361.20 200.30 L361.48 199.86 L361.76 199.63 L362.04 199.63 L362.32 199.85 L362.60 200.29 L362.88 200.89 L363.16 201.61 L363.44 202.36 L363.72 203.08 L364.00 203.65 L364.28 203.97 L364.56 203.71 L364.84 203.15 L365.12 202.44 L365.40 201.68 L365.68 200.96 L365.96 200.35 L366.24 199.91 L366.52 199.69 L366.80 199.71 L367.08 199.97 L367.36 200.45 L367.64 201.09 L367.92 201.82 L368.20 202.58 L368.48 203.25 L368.76 203.73 L369.04 203.79 L369.32 203.35 L369.60 202.69 L369.88 201.94 L370.16 201.19 L370.44 200.54 L370.72 200.05 L371.00 199.77 L371.28 199.75 L371.56 199.98 L371.84 200.44 L372.12 201.08 L372.40 201.81 L372.68 202.57 L372.96 203.23 L373.24 203.68 L373.52 203.63 L373.80 203.13 L374.08 202.44 L374.36 201.68 L374.64 200.96 L374.92 200.36 L375.20 199.95 L375.48 199.79 L375.76 199.90 L376.04 200.26 L376.32 200.83 L376.60 201.54 L376.88 202.30 L377.16 203.00 L377.44 203.52 L377.72 203.61 L378.00 203.16 L378.28 202.48 L378.56 201.73 L378.84 200.99 L379.12 200.39 L379.40 199.99 L379.68 199.86 L379.96 199.99 L380.24 200.39 L380.52 201.00 L380.80 201.73 L381.08 202.49 L381.36 203.15 L381.64 203.57 L381.92 203.40 L382.20 202.83 L382.48 202.10 L382.76 201.34 L383.04 200.66 L383.32 200.17 L383.60 199.93 L383.88 199.98 L384.16 200.30 L384.44 200.86 L384.72 201.58 L385.00 202.34 L385.28 203.03 L385.56 203.48 L385.84 203.36 L386.12 202.80 L386.40 202.07 L386.68 201.31 L386.96 200.64 L387.24 200.18 L387.52 199.98 L387.80 200.08 L388.08 200.46 L388.36 201.07 L388.64 201.82 L388.92 202.57 L389.20 203.19 L389.48 203.47 L389.76 203.08 L390.04 202.42 L390.32 201.65 L390.60 200.93 L390.88 200.37 L391.16 200.07 L391.44 200.07 L391.72 200.37 L392.00 200.93 L392.28 201.66 L392.56 202.42 L392.84 203.07 L393.12 203.41 L393.40 203.07 L393.68 202.42 L393.96 201.65 L394.24 200.93 L394.52 200.39 L394.80 200.11 L395.08 200.15 L395.36 200.49 L395.64 201.09 L395.92 201.83 L396.20 202.58 L396.48 203.17 L396.76 203.30 L397.04 202.81 L397.32 202.09 L397.60 201.33 L397.88 200.68 L398.16 200.25 L398.44 200.14 L398.72 200.36 L399.00 200.86 L399.28 201.56 L399.56 202.33 L399.84 202.98 L400.12 203.29 L400.40 202.90 L400.68 202.22 L400.96 201.45 L401.24 200.78 L401.52 200.33 L401.80 200.19 L402.08 200.39 L402.36 200.89 L402.64 201.59 L402.92 202.35 L403.20 202.98 L403.48 203.22 L403.76 202.76 L404.04 202.06 L404.32 201.30 L404.60 200.67 L404.88 200.30 L405.16 200.26 L405.44 200.57 L405.72 201.16 L406.00 201.90 L406.28 202.62 L406.56 203.13 L406.84 202.99 L407.12 202.38 L407.40 201.62 L407.68 200.93 L407.96 200.44 L408.24 200.28 L408.52 200.48 L408.80 200.99 L409.08 201.70 L409.36 202.45 L409.64 203.01 L409.92 203.01 L410.20 202.44 L410.48 201.70 L410.76 201.00 L411.04 200.50 L411.32 200.33 L411.60 200.53 L411.88 201.04 L412.16 201.75 L412.44 202.49 L412.72 203.01 L413.00 202.90 L413.28 202.29 L413.56 201.54 L413.84 200.87 L414.12 200.46 L414.40 200.40 L414.68 200.70 L414.96 201.30 L415.24 202.03 L415.52 202.71 L415.80 203.03 L416.08 202.61 L416.36 201.91 L416.64 201.18 L416.92 200.64 L417.20 200.42 L417.48 200.58 L417.76 201.08 L418.04 201.78 L418.32 202.49 L418.60 202.96 L418.88 202.71 L419.16 202.06 L419.44 201.33 L419.72 200.74 L420.00 200.47 L420.28 200.58 L420.56 201.05 L420.84 201.73 L421.12 202.44 L421.40 202.91 L421.68 202.66 L421.96 202.01 L422.24 201.29 L422.52 200.73 L422.80 200.50 L423.08 200.67 L423.36 201.17 L423.64 201.88 L423.92 202.55 L424.20 202.89 L424.48 202.47 L424.76 201.78 L425.04 201.09 L425.32 200.64 L425.60 200.56 L425.88 200.87 L426.16 201.48 L426.44 202.19 L426.72 202.75 L427.00 202.69 L427.28 202.09 L427.56 201.38 L427.84 200.82 L428.12 200.58 L428.40 200.75 L428.68 201.26 L428.96 201.96 L429.24 202.59 L429.52 202.75 L429.80 202.23 L430.08 201.54 L430.36 200.93 L430.64 200.63 L430.92 200.74 L431.20 201.21 L431.48 201.89 L431.76 202.52 L432.04 202.72 L432.32 202.22 L432.60 201.54 L432.88 200.95 L433.16 200.67 L433.44 200.79 L433.72 201.28 L434.00 201.96 L434.28 202.56 L434.56 202.63 L434.84 202.08 L435.12 201.40 L435.40 200.87 L435.68 200.70 L435.96 200.93 L436.24 201.49 L436.52 202.17 L436.80 202.66" stroke="#8000ff" stroke-width="1.65"/>
<path d="M103.40 163.50 L103.56 164.06 L103.72 164.65 L103.88 165.23 L104.05 165.79 L104.22 166.32 L104.40 166.80 L104.68 167.42 L104.97 167.97 L105.30 168.40 L105.73 168.75 L106.20 168.90 L106.65 168.76 L107.14 168.44 L107.60 168.00 L107.90 167.62 L108.18 167.14 L108.44 166.62 L108.70 166.07 L108.95 165.52 L109.20 165.00 L109.47 164.45 L109.74 163.89 L109.99 163.34 L110.25 162.81 L110.50 162.30 L110.77 161.79 L111.02 161.31 L111.29 160.82 L111.60 160.30 L111.87 159.81 L112.17 159.22 L112.48 158.59 L112.81 157.99 L113.15 157.48 L113.48 157.13 L113.80 157.00 L114.11 157.14 L114.42 157.50 L114.73 158.02 L115.04 158.63 L115.35 159.26 L115.67 159.84 L116.00 160.30 L116.50 160.78 L117.01 161.17 L117.52 161.56 L118.00 162.00 L118.37 162.41 L118.72 162.85 L119.06 163.30 L119.39 163.79 L119.70 164.30 L119.95 164.76 L120.20 165.23 L120.43 165.73 L120.65 166.25 L120.87 166.78 L121.09 167.33 L121.30 167.90 L121.47 168.38 L121.64 168.88 L121.80 169.38 L121.96 169.90 L122.11 170.43 L122.27 170.97 L122.42 171.53 L122.58 172.10 L122.74 172.69 L122.90 173.30 L123.03 173.79 L123.16 174.29 L123.30 174.81 L123.44 175.34 L123.58 175.88 L123.72 176.44 L123.86 177.00 L124.00 177.57 L124.14 178.14 L124.28 178.72 L124.42 179.31 L124.56 179.89 L124.69 180.48 L124.82 181.06 L124.95 181.65 L125.08 182.23 L125.20 182.80 L125.32 183.35 L125.43 183.91 L125.54 184.47 L125.65 185.02 L125.76 185.58 L125.86 186.14 L125.97 186.69 L126.07 187.26 L126.17 187.82 L126.27 188.38 L126.37 188.95 L126.46 189.52 L126.56 190.09 L126.65 190.67 L126.74 191.24 L126.83 191.83 L126.92 192.41 L127.00 193.00 L127.08 193.55 L127.15 194.10 L127.22 194.66 L127.29 195.22 L127.36 195.79 L127.43 196.36 L127.49 196.93 L127.56 197.50 L127.62 198.08 L127.68 198.65 L127.74 199.23 L127.80 199.81 L127.86 200.39 L127.91 200.97 L127.97 201.55 L128.03 202.13 L128.08 202.70 L128.14 203.28 L128.19 203.86 L128.25 204.43 L128.30 205.00 L128.35 205.56 L128.41 206.13 L128.46 206.69 L128.51 207.25 L128.56 207.82 L128.61 208.38 L128.65 208.94 L128.70 209.50 L128.75 210.06 L128.79 210.62 L128.84 211.19 L128.89 211.75 L128.93 212.31 L128.98 212.87 L129.02 213.43 L129.07 213.99 L129.11 214.55 L129.16 215.12 L129.21 215.68 L129.25 216.24 L129.30 216.80 L129.36 216.23 L129.42 215.66 L129.49 215.10 L129.55 214.53 L129.61 213.97 L129.67 213.40 L129.73 212.83 L129.79 212.27 L129.85 211.70 L129.91 211.14 L129.97 210.57 L130.03 210.00 L130.10 209.43 L130.16 208.86 L130.22 208.29 L130.29 207.72 L130.36 207.15 L130.43 206.58 L130.50 206.00 L130.57 205.46 L130.64 204.92 L130.71 204.37 L130.78 203.83 L130.86 203.28 L130.94 202.73 L131.01 202.18 L131.09 201.63 L131.17 201.08 L131.25 200.53 L131.33 199.98 L131.41 199.43 L131.49 198.88 L131.57 198.33 L131.64 197.78 L131.72 197.23 L131.80 196.68 L131.88 196.13 L131.95 195.59 L132.03 195.04 L132.10 194.50 L132.17 193.94 L132.25 193.39 L132.32 192.83 L132.39 192.28 L132.46 191.72 L132.53 191.17 L132.60 190.62 L132.67 190.06 L132.74 189.51 L132.81 188.96 L132.88 188.41 L132.94 187.86 L133.01 187.31 L133.08 186.76 L133.15 186.21 L133.22 185.67 L133.29 185.12 L133.36 184.58 L133.43 184.04 L133.50 183.50 L133.58 182.92 L133.65 182.33 L133.73 181.74 L133.80 181.15 L133.88 180.56 L133.95 179.96 L134.02 179.37 L134.10 178.78 L134.17 178.19 L134.25 177.61 L134.33 177.04 L134.41 176.47 L134.48 175.91 L134.56 175.36 L134.65 174.83 L134.73 174.30 L134.81 173.79 L134.90 173.30 L135.02 172.64 L135.14 172.01 L135.26 171.39 L135.38 170.78 L135.51 170.20 L135.63 169.63 L135.77 169.07 L135.90 168.53 L136.05 168.01 L136.20 167.50 L136.41 166.85 L136.63 166.23 L136.86 165.64 L137.10 165.07 L137.35 164.53 L137.60 164.00 L137.86 163.47 L138.13 162.96 L138.41 162.48 L138.70 162.02 L139.00 161.60 L139.44 161.12 L139.90 160.71 L140.40 160.20 L140.70 159.78 L141.03 159.23 L141.36 158.62 L141.71 158.00 L142.06 157.43 L142.41 156.95 L142.76 156.62 L143.10 156.50 L143.44 156.60 L143.79 156.89 L144.14 157.32 L144.49 157.85 L144.83 158.46 L145.17 159.09 L145.49 159.72 L145.80 160.30 L146.05 160.78 L146.29 161.29 L146.52 161.82 L146.74 162.37 L146.96 162.92 L147.17 163.49 L147.37 164.06 L147.58 164.63 L147.78 165.20 L147.99 165.75 L148.20 166.30 L148.40 166.87 L148.61 167.50 L148.81 168.17 L149.01 168.86 L149.21 169.54 L149.41 170.19 L149.60 170.77 L149.80 171.27 L150.00 171.66 L150.20 171.91 L150.40 172.00 L150.59 171.92 L150.78 171.68 L150.97 171.31 L151.16 170.83 L151.35 170.27 L151.54 169.65 L151.73 168.98 L151.92 168.29 L152.12 167.61 L152.31 166.95 L152.50 166.34 L152.70 165.80 L152.92 165.22 L153.15 164.63 L153.37 164.04 L153.60 163.45 L153.82 162.86 L154.05 162.29 L154.28 161.75 L154.52 161.23 L154.76 160.74 L155.00 160.30 L155.35 159.68 L155.71 159.07 L156.07 158.53 L156.44 158.15 L156.80 158.00 L157.16 158.13 L157.52 158.49 L157.88 159.01 L158.24 159.64 L158.60 160.30 L158.78 160.66 L158.97 161.07 L159.15 161.51 L159.33 161.99 L159.51 162.49 L159.69 163.02 L159.87 163.57 L160.04 164.14 L160.22 164.72 L160.40 165.32 L160.58 165.92 L160.75 166.52 L160.93 167.12 L161.10 167.72 L161.28 168.31 L161.45 168.89 L161.63 169.46 L161.80 170.00 L161.98 170.58 L162.16 171.22 L162.34 171.89 L162.53 172.60 L162.71 173.32 L162.89 174.05 L163.07 174.78 L163.25 175.49 L163.43 176.17 L163.61 176.81 L163.79 177.41 L163.96 177.94 L164.13 178.40 L164.30 178.78 L164.47 179.06 L164.64 179.24 L164.80 179.30 L164.96 179.23 L165.12 179.03 L165.27 178.71 L165.42 178.29 L165.57 177.79 L165.71 177.21 L165.85 176.57 L166.00 175.89 L166.14 175.18 L166.28 174.45 L166.43 173.72 L166.57 173.00 L166.72 172.30 L166.88 171.64 L167.04 171.04 L167.20 170.50 L167.39 169.92 L167.58 169.34 L167.77 168.76 L167.96 168.19 L168.16 167.62 L168.36 167.07 L168.56 166.53 L168.77 166.01 L168.99 165.52 L169.21 165.05 L169.45 164.61 L169.70 164.20 L170.08 163.67 L170.47 163.20 L170.88 162.77 L171.31 162.38 L171.75 162.03 L172.20 161.70 L172.72 161.35 L173.26 161.04 L173.82 160.77 L174.40 160.55 L175.00 160.40 L175.62 160.29 L176.29 160.19 L176.99 160.15 L177.67 160.18 L178.28 160.32 L178.80 160.60 L179.09 160.90 L179.32 161.28 L179.52 161.75 L179.68 162.27 L179.81 162.84 L179.93 163.44 L180.03 164.07 L180.14 164.70 L180.24 165.33 L180.36 165.93 L180.50 166.50 L180.64 167.02 L180.79 167.55 L180.93 168.08 L181.07 168.61 L181.21 169.15 L181.35 169.68 L181.50 170.22 L181.64 170.76 L181.78 171.29 L181.92 171.83 L182.06 172.37 L182.20 172.90 L182.37 172.37 L182.53 171.83 L182.70 171.29 L182.87 170.76 L183.03 170.22 L183.20 169.68 L183.37 169.15 L183.54 168.61 L183.70 168.08 L183.87 167.55 L184.03 167.02 L184.20 166.50 L184.36 165.93 L184.51 165.32 L184.65 164.68 L184.78 164.04 L184.92 163.40 L185.06 162.79 L185.22 162.21 L185.39 161.69 L185.59 161.24 L185.83 160.87 L186.10 160.60 L186.73 160.31 L187.46 160.23 L188.19 160.32 L188.80 160.60 L189.10 160.91 L189.34 161.35 L189.53 161.89 L189.69 162.49 L189.84 163.13 L189.98 163.79 L190.13 164.42 L190.30 165.00 L190.49 165.54 L190.67 166.08 L190.86 166.62 L191.05 167.15 L191.24 167.69 L191.42 168.23 L191.61 168.76 L191.80 169.30 L191.99 168.76 L192.17 168.22 L192.36 167.68 L192.55 167.14 L192.73 166.60 L192.92 166.06 L193.11 165.53 L193.30 165.00 L193.50 164.38 L193.68 163.72 L193.85 163.04 L194.04 162.40 L194.25 161.82 L194.50 161.34 L194.80 161.00 L195.42 160.72 L196.12 160.66 L196.80 160.80 L197.24 161.10 L197.65 161.60 L198.05 162.14 L198.46 162.59 L198.90 162.80 L199.39 162.66 L199.90 162.25 L200.43 161.74 L200.96 161.27 L201.50 161.00 L202.14 160.91 L202.81 160.92 L203.46 161.08 L204.00 161.40 L204.28 161.73 L204.50 162.17 L204.69 162.70 L204.84 163.29 L204.97 163.93 L205.10 164.59 L205.22 165.25 L205.35 165.89 L205.50 166.50 L205.65 167.04 L205.80 167.59 L205.95 168.13 L206.10 168.68 L206.25 169.24 L206.40 169.79 L206.55 170.34 L206.70 170.90 L206.85 171.45 L207.00 172.00 L207.15 171.45 L207.30 170.89 L207.45 170.33 L207.60 169.78 L207.75 169.22 L207.90 168.66 L208.05 168.11 L208.20 167.57 L208.35 167.03 L208.50 166.50 L208.67 165.85 L208.83 165.12 L208.99 164.38 L209.16 163.65 L209.32 163.00 L209.50 162.45 L209.69 162.07 L209.90 161.90 L210.42 162.31 L211.00 163.00 L211.63 163.47 L212.30 163.70 L212.79 163.49 L213.29 163.05 L213.80 162.60 L214.26 162.20 L214.73 161.73 L215.21 161.35 L215.70 161.20 L216.22 161.37 L216.75 161.79 L217.28 162.31 L217.80 162.80 L218.22 163.23 L218.63 163.74 L219.03 164.22 L219.43 164.58 L219.80 164.70 L220.22 164.44 L220.61 163.87 L221.00 163.19 L221.40 162.60 L221.80 162.09 L222.21 161.54 L222.61 161.13 L223.00 161.00 L223.27 161.16 L223.53 161.53 L223.79 162.05 L224.04 162.68 L224.28 163.38 L224.52 164.12 L224.76 164.84 L225.00 165.50 L225.18 166.00 L225.37 166.51 L225.54 167.03 L225.72 167.57 L225.89 168.12 L226.07 168.67 L226.24 169.23 L226.41 169.79 L226.58 170.34 L226.75 170.90 L226.93 171.45 L227.10 172.00 L227.23 171.45 L227.35 170.90 L227.48 170.34 L227.60 169.78 L227.73 169.23 L227.85 168.67 L227.98 168.12 L228.10 167.58 L228.23 167.04 L228.37 166.51 L228.50 166.00 L228.65 165.35 L228.79 164.67 L228.92 163.97 L229.06 163.29 L229.21 162.66 L229.40 162.12 L229.62 161.69 L229.90 161.40 L230.53 161.27 L231.27 161.43 L232.00 161.60 L232.68 161.65 L233.36 161.71 L234.00 161.90 L234.49 162.20 L234.95 162.59 L235.39 163.04 L235.80 163.50 L236.19 164.09 L236.54 164.79 L236.88 165.37 L237.20 165.60 L237.52 165.34 L237.82 164.72 L238.11 163.97 L238.40 163.30 L238.67 162.68 L238.92 162.00 L239.19 161.44 L239.50 161.20 L239.83 161.33 L240.19 161.71 L240.57 162.26 L240.95 162.88 L241.30 163.50 L241.52 163.93 L241.74 164.40 L241.94 164.91 L242.14 165.44 L242.34 166.00 L242.53 166.56 L242.72 167.13 L242.91 167.70 L243.10 168.26 L243.30 168.80 L243.44 168.26 L243.57 167.71 L243.70 167.15 L243.84 166.60 L243.97 166.06 L244.11 165.52 L244.25 165.00 L244.40 164.50 L244.58 163.79 L244.75 163.07 L244.93 162.39 L245.17 161.81 L245.50 161.40 L245.97 161.17 L246.52 161.09 L247.12 161.11 L247.70 161.20 L248.25 161.36 L248.84 161.60 L249.41 161.91 L249.94 162.25 L250.40 162.60 L250.87 163.09 L251.25 163.63 L251.60 164.20 L251.89 164.68 L252.16 165.18 L252.43 165.69 L252.70 166.20 L252.91 165.64 L253.10 165.02 L253.30 164.36 L253.49 163.71 L253.69 163.08 L253.89 162.53 L254.11 162.07 L254.34 161.75 L254.60 161.60 L255.00 161.77 L255.43 162.28 L255.89 162.93 L256.35 163.47 L256.80 163.70 L257.25 163.48 L257.68 162.97 L258.13 162.33 L258.59 161.75 L259.10 161.40 L259.63 161.32 L260.21 161.36 L260.81 161.50 L261.38 161.69 L261.90 161.90 L262.40 162.16 L262.85 162.48 L263.27 162.86 L263.70 163.30 L264.04 163.71 L264.37 164.19 L264.70 164.71 L265.02 165.26 L265.35 165.81 L265.67 166.37 L266.00 166.90 L266.19 166.34 L266.36 165.73 L266.52 165.09 L266.67 164.45 L266.83 163.82 L267.01 163.22 L267.20 162.68 L267.43 162.22 L267.69 161.85 L268.00 161.60 L268.48 161.48 L269.03 161.55 L269.62 161.74 L270.24 161.98 L270.88 162.19 L271.50 162.30 L272.10 162.27 L272.73 162.14 L273.39 161.98 L274.03 161.82 L274.65 161.72 L275.21 161.73 L275.70 161.90 L276.06 162.20 L276.36 162.62 L276.61 163.14 L276.83 163.72 L277.02 164.36 L277.20 165.02 L277.39 165.68 L277.58 166.31 L277.80 166.90 L278.00 166.31 L278.18 165.64 L278.37 164.94 L278.55 164.23 L278.73 163.54 L278.92 162.89 L279.12 162.33 L279.33 161.87 L279.56 161.55 L279.80 161.40 L280.16 161.52 L280.53 161.94 L280.92 162.49 L281.34 163.00 L281.80 163.30 L282.32 163.36 L282.88 163.30 L283.47 163.15 L284.05 162.97 L284.60 162.80 L285.22 162.53 L285.83 162.19 L286.40 161.92 L286.90 161.90 L287.32 162.35 L287.66 163.13 L287.96 163.87 L288.30 164.20 L288.59 163.96 L288.88 163.38 L289.17 162.61 L289.48 161.85 L289.78 161.25 L290.10 161.00 L290.43 161.19 L290.76 161.68 L291.09 162.31 L291.47 162.91 L291.90 163.30 L292.40 163.47 L292.97 163.53 L293.56 163.51 L294.15 163.43 L294.70 163.30 L295.30 163.01 L295.85 162.60 L296.41 162.18 L297.00 161.90 L297.66 161.76 L298.36 161.71 L299.05 161.75 L299.70 161.90 L300.19 162.16 L300.65 162.55 L301.10 162.99 L301.54 163.39 L302.00 163.70 L302.68 164.02 L303.37 164.23 L304.00 164.20 L304.38 163.87 L304.72 163.31 L305.03 162.68 L305.35 162.15 L305.70 161.90 L306.13 162.08 L306.57 162.56 L307.03 163.05 L307.50 163.30 L308.12 163.03 L308.75 162.49 L309.40 162.20 L309.97 162.45 L310.57 162.98 L311.15 163.50 L311.70 163.70 L312.18 163.39 L312.63 162.77 L313.06 162.17 L313.50 161.90 L313.95 162.18 L314.39 162.79 L314.84 163.40 L315.30 163.70 L315.77 163.48 L316.27 162.96 L316.75 162.43 L317.20 162.20 L317.65 162.51 L318.07 163.08 L318.50 163.40 L318.99 163.21 L319.49 162.75 L320.00 162.30 L320.28 162.16 L320.56 162.04 L320.84 161.95 L321.12 161.89 L321.40 161.87 L321.68 161.87 L321.96 161.90 L322.24 161.96 L322.52 162.06 L322.80 162.21 L323.08 162.38 L323.36 162.58 L323.64 162.79 L323.92 163.02 L324.20 163.25 L324.48 163.49 L324.76 163.54 L325.04 163.29 L325.32 163.05 L325.60 162.81 L325.88 162.60 L326.16 162.40 L326.44 162.22 L326.72 162.06 L327.00 161.93 L327.28 161.83 L327.56 161.76 L327.84 161.73 L328.12 161.72 L328.40 161.75 L328.68 161.81 L328.96 161.90 L329.24 162.02 L329.52 162.17 L329.80 162.34 L330.08 162.54 L330.36 162.75 L330.64 162.98 L330.92 163.22 L331.20 163.46 L331.48 163.38 L331.76 163.14 L332.04 162.90 L332.32 162.67 L332.60 162.46 L332.88 162.27 L333.16 162.11 L333.44 161.97 L333.72 161.86 L334.00 161.79 L334.28 161.75 L334.56 161.74 L334.84 161.77 L335.12 161.83 L335.40 161.93 L335.68 162.05 L335.96 162.21 L336.24 162.39 L336.52 162.59 L336.80 162.81 L337.08 163.04 L337.36 163.29 L337.64 163.39 L337.92 163.14 L338.20 162.90 L338.48 162.67 L338.76 162.45 L339.04 162.26 L339.32 162.10 L339.60 161.96 L339.88 161.86 L340.16 161.79 L340.44 161.76 L340.72 161.76 L341.00 161.80 L341.28 161.88 L341.56 161.99 L341.84 162.13 L342.12 162.30 L342.40 162.49 L342.68 162.71 L342.96 162.94 L343.24 163.18 L343.52 163.34 L343.80 163.09 L344.08 162.85 L344.36 162.62 L344.64 162.41 L344.92 162.22 L345.20 162.06 L345.48 161.93 L345.76 161.84 L346.04 161.79 L346.32 161.77 L346.60 161.79 L346.88 161.85 L347.16 161.95 L347.44 162.08 L347.72 162.24 L348.00 162.43 L348.28 162.64 L348.56 162.86 L348.84 163.10 L349.12 163.26 L349.40 163.02 L349.68 162.78 L349.96 162.55 L350.24 162.34 L350.52 162.17 L350.80 162.02 L351.08 161.90 L351.36 161.82 L351.64 161.79 L351.92 161.79 L352.20 161.83 L352.48 161.91 L352.76 162.03 L353.04 162.18 L353.32 162.36 L353.60 162.57 L353.88 162.79 L354.16 163.03 L354.44 163.19 L354.72 162.95 L355.00 162.71 L355.28 162.49 L355.56 162.29 L355.84 162.12 L356.12 161.98 L356.40 161.88 L356.68 161.82 L356.96 161.80 L357.24 161.82 L357.52 161.88 L357.80 161.98 L358.08 162.12 L358.36 162.29 L358.64 162.49 L358.92 162.71 L359.20 162.94 L359.48 163.15 L359.76 162.90 L360.04 162.67 L360.32 162.45 L360.60 162.26 L360.88 162.09 L361.16 161.96 L361.44 161.87 L361.72 161.82 L362.00 161.81 L362.28 161.85 L362.56 161.93 L362.84 162.04 L363.12 162.20 L363.40 162.38 L363.68 162.59 L363.96 162.81 L364.24 163.05 L364.52 162.91 L364.80 162.68 L365.08 162.46 L365.36 162.26 L365.64 162.10 L365.92 161.97 L366.20 161.88 L366.48 161.83 L366.76 161.83 L367.04 161.87 L367.32 161.96 L367.60 162.08 L367.88 162.25 L368.16 162.45 L368.44 162.67 L368.72 162.90 L369.00 163.02 L369.28 162.78 L369.56 162.55 L369.84 162.34 L370.12 162.15 L370.40 162.01 L370.68 161.90 L370.96 161.85 L371.24 161.83 L371.52 161.87 L371.80 161.96 L372.08 162.09 L372.36 162.25 L372.64 162.45 L372.92 162.68 L373.20 162.92 L373.48 162.96 L373.76 162.71 L374.04 162.48 L374.32 162.28 L374.60 162.10 L374.88 161.97 L375.16 161.88 L375.44 161.85 L375.72 161.86 L376.00 161.92 L376.28 162.04 L376.56 162.19 L376.84 162.39 L377.12 162.61 L377.40 162.85 L377.68 162.99 L377.96 162.74 L378.24 162.50 L378.52 162.29 L378.80 162.11 L379.08 161.98 L379.36 161.89 L379.64 161.85 L379.92 161.87 L380.20 161.95 L380.48 162.07 L380.76 162.24 L381.04 162.44 L381.32 162.68 L381.60 162.92 L381.88 162.87 L382.16 162.62 L382.44 162.39 L382.72 162.20 L383.00 162.04 L383.28 161.93 L383.56 161.87 L383.84 161.87 L384.12 161.93 L384.40 162.04 L384.68 162.20 L384.96 162.40 L385.24 162.64 L385.52 162.89 L385.80 162.87 L386.08 162.62 L386.36 162.39 L386.64 162.19 L386.92 162.03 L387.20 161.93 L387.48 161.88 L387.76 161.89 L388.04 161.96 L388.32 162.09 L388.60 162.26 L388.88 162.48 L389.16 162.72 L389.44 162.98 L389.72 162.74 L390.00 162.50 L390.28 162.28 L390.56 162.10 L390.84 161.97 L391.12 161.90 L391.40 161.89 L391.68 161.94 L391.96 162.06 L392.24 162.22 L392.52 162.43 L392.80 162.68 L393.08 162.94 L393.36 162.75 L393.64 162.50 L393.92 162.28 L394.20 162.10 L394.48 161.97 L394.76 161.90 L395.04 161.90 L395.32 161.96 L395.60 162.09 L395.88 162.27 L396.16 162.49 L396.44 162.75 L396.72 162.92 L397.00 162.65 L397.28 162.41 L397.56 162.20 L397.84 162.04 L398.12 161.94 L398.40 161.90 L398.68 161.94 L398.96 162.04 L399.24 162.20 L399.52 162.41 L399.80 162.66 L400.08 162.93 L400.36 162.70 L400.64 162.45 L400.92 162.23 L401.20 162.06 L401.48 161.95 L401.76 161.91 L402.04 161.94 L402.32 162.05 L402.60 162.21 L402.88 162.43 L403.16 162.68 L403.44 162.92 L403.72 162.65 L404.00 162.40 L404.28 162.19 L404.56 162.03 L404.84 161.94 L405.12 161.92 L405.40 161.98 L405.68 162.10 L405.96 162.29 L406.24 162.53 L406.52 162.79 L406.80 162.78 L407.08 162.51 L407.36 162.28 L407.64 162.09 L407.92 161.97 L408.20 161.93 L408.48 161.96 L408.76 162.07 L409.04 162.24 L409.32 162.47 L409.60 162.73 L409.88 162.81 L410.16 162.54 L410.44 162.30 L410.72 162.11 L411.00 161.99 L411.28 161.94 L411.56 161.97 L411.84 162.08 L412.12 162.26 L412.40 162.49 L412.68 162.76 L412.96 162.76 L413.24 162.49 L413.52 162.26 L413.80 162.08 L414.08 161.97 L414.36 161.95 L414.64 162.00 L414.92 162.14 L415.20 162.34 L415.48 162.59 L415.76 162.87 L416.04 162.62 L416.32 162.37 L416.60 162.16 L416.88 162.02 L417.16 161.95 L417.44 161.98 L417.72 162.08 L418.00 162.27 L418.28 162.50 L418.56 162.78 L418.84 162.68 L419.12 162.42 L419.40 162.20 L419.68 162.04 L419.96 161.96 L420.24 161.98 L420.52 162.08 L420.80 162.25 L421.08 162.49 L421.36 162.76 L421.64 162.67 L421.92 162.41 L422.20 162.19 L422.48 162.04 L422.76 161.97 L423.04 161.99 L423.32 162.11 L423.60 162.30 L423.88 162.55 L424.16 162.83 L424.44 162.59 L424.72 162.33 L425.00 162.13 L425.28 162.01 L425.56 161.97 L425.84 162.03 L426.12 162.18 L426.40 162.40 L426.68 162.67 L426.96 162.72 L427.24 162.44 L427.52 162.21 L427.80 162.05 L428.08 161.98 L428.36 162.01 L428.64 162.13 L428.92 162.33 L429.20 162.59 L429.48 162.78 L429.76 162.50 L430.04 162.26 L430.32 162.08 L430.60 161.99 L430.88 162.00 L431.16 162.11 L431.44 162.31 L431.72 162.56 L432.00 162.79 L432.28 162.50 L432.56 162.26 L432.84 162.08 L433.12 162.00 L433.40 162.02 L433.68 162.13 L433.96 162.33 L434.24 162.60 L434.52 162.73 L434.80 162.45 L435.08 162.22 L435.36 162.06 L435.64 162.00 L435.92 162.04 L436.20 162.19 L436.48 162.41 L436.76 162.69" stroke="#0000a0" stroke-width="1.65"/>
<line x1="103.4" y1="255.84" x2="436.5" y2="357.43" stroke="#000" stroke-width="2.7"/>
</g>
<g stroke="#000" stroke-width="1.4" fill="none" id="axes">
<line x1="103.50" y1="160.20" x2="103.50" y2="384.80"/>
<line x1="102.80" y1="384.10" x2="436" y2="384.10"/>
<line x1="97.3" y1="192.60" x2="103.50" y2="192.60"/>
<line x1="97.3" y1="245.20" x2="103.50" y2="245.20"/>
<line x1="97.3" y1="334.20" x2="103.50" y2="334.20"/>
<line x1="100.3" y1="163.40" x2="103.50" y2="163.40" stroke-width="1.15"/>
<line x1="100.3" y1="167.20" x2="103.50" y2="167.20" stroke-width="1.15"/>
<line x1="100.3" y1="171.00" x2="103.50" y2="171.00" stroke-width="1.15"/>
<line x1="100.3" y1="175.20" x2="103.50" y2="175.20" stroke-width="1.15"/>
<line x1="100.3" y1="179.60" x2="103.50" y2="179.60" stroke-width="1.15"/>
<line x1="100.3" y1="183.80" x2="103.50" y2="183.80" stroke-width="1.15"/>
<line x1="100.3" y1="188.40" x2="103.50" y2="188.40" stroke-width="1.15"/>
<line x1="100.3" y1="198.00" x2="103.50" y2="198.00" stroke-width="1.15"/>
<line x1="100.3" y1="203.00" x2="103.50" y2="203.00" stroke-width="1.15"/>
<line x1="100.3" y1="208.10" x2="103.50" y2="208.10" stroke-width="1.15"/>
<line x1="100.3" y1="213.70" x2="103.50" y2="213.70" stroke-width="1.15"/>
<line x1="100.3" y1="219.60" x2="103.50" y2="219.60" stroke-width="1.15"/>
<line x1="100.3" y1="225.50" x2="103.50" y2="225.50" stroke-width="1.15"/>
<line x1="100.3" y1="231.90" x2="103.50" y2="231.90" stroke-width="1.15"/>
<line x1="100.3" y1="238.70" x2="103.50" y2="238.70" stroke-width="1.15"/>
<line x1="100.3" y1="253.00" x2="103.50" y2="253.00" stroke-width="1.15"/>
<line x1="100.3" y1="260.70" x2="103.50" y2="260.70" stroke-width="1.15"/>
<line x1="100.3" y1="269.10" x2="103.50" y2="269.10" stroke-width="1.15"/>
<line x1="100.3" y1="277.70" x2="103.50" y2="277.70" stroke-width="1.15"/>
<line x1="100.3" y1="287.40" x2="103.50" y2="287.40" stroke-width="1.15"/>
<line x1="100.3" y1="297.10" x2="103.50" y2="297.10" stroke-width="1.15"/>
<line x1="100.3" y1="308.90" x2="103.50" y2="308.90" stroke-width="1.15"/>
<line x1="100.3" y1="321.70" x2="103.50" y2="321.70" stroke-width="1.15"/>
<line x1="100.3" y1="349.80" x2="103.50" y2="349.80" stroke-width="1.15"/>
<line x1="100.3" y1="367.20" x2="103.50" y2="367.20" stroke-width="1.15"/>
<line x1="113.80" y1="384.10" x2="113.80" y2="386.70"/>
<line x1="156.80" y1="384.10" x2="156.80" y2="386.70"/>
<line x1="187.30" y1="384.10" x2="187.30" y2="386.70"/>
<line x1="211.00" y1="384.10" x2="211.00" y2="386.70"/>
<line x1="230.30" y1="384.10" x2="230.30" y2="386.70"/>
<line x1="246.60" y1="384.10" x2="246.60" y2="386.70"/>
<line x1="261.00" y1="384.10" x2="261.00" y2="386.70"/>
<line x1="273.50" y1="384.10" x2="273.50" y2="386.70"/>
<line x1="358.60" y1="384.10" x2="358.60" y2="386.70"/>
<line x1="401.90" y1="384.10" x2="401.90" y2="386.70"/>
<line x1="432.60" y1="384.10" x2="432.60" y2="386.70"/>
<line x1="284.60" y1="384.10" x2="284.60" y2="388.70"/>
</g>
<g style="filter:grayscale(1)">
<text transform="translate(93.8 196.05) scale(1.310 1)" text-anchor="end" font-size="11.3">0.6</text>
<text transform="translate(93.8 248.65) scale(1.310 1)" text-anchor="end" font-size="11.3">0.4</text>
<text transform="translate(93.8 337.65) scale(1.310 1)" text-anchor="end" font-size="11.3">0.2</text>
<text transform="translate(285.20 400.5) scale(1.330 1)" text-anchor="middle" font-size="11.0">10</text>
<text transform="translate(301.0 421.2) scale(1.300 1)" text-anchor="middle" font-size="19" font-style="italic">r</text>
<g transform="translate(56.4 293.6) rotate(-90) scale(1 1.270)"><text font-size="21.5">G</text><text x="16.0" y="8.2" font-size="13.2">6</text></g>
</g>
</svg>
</body></html>
